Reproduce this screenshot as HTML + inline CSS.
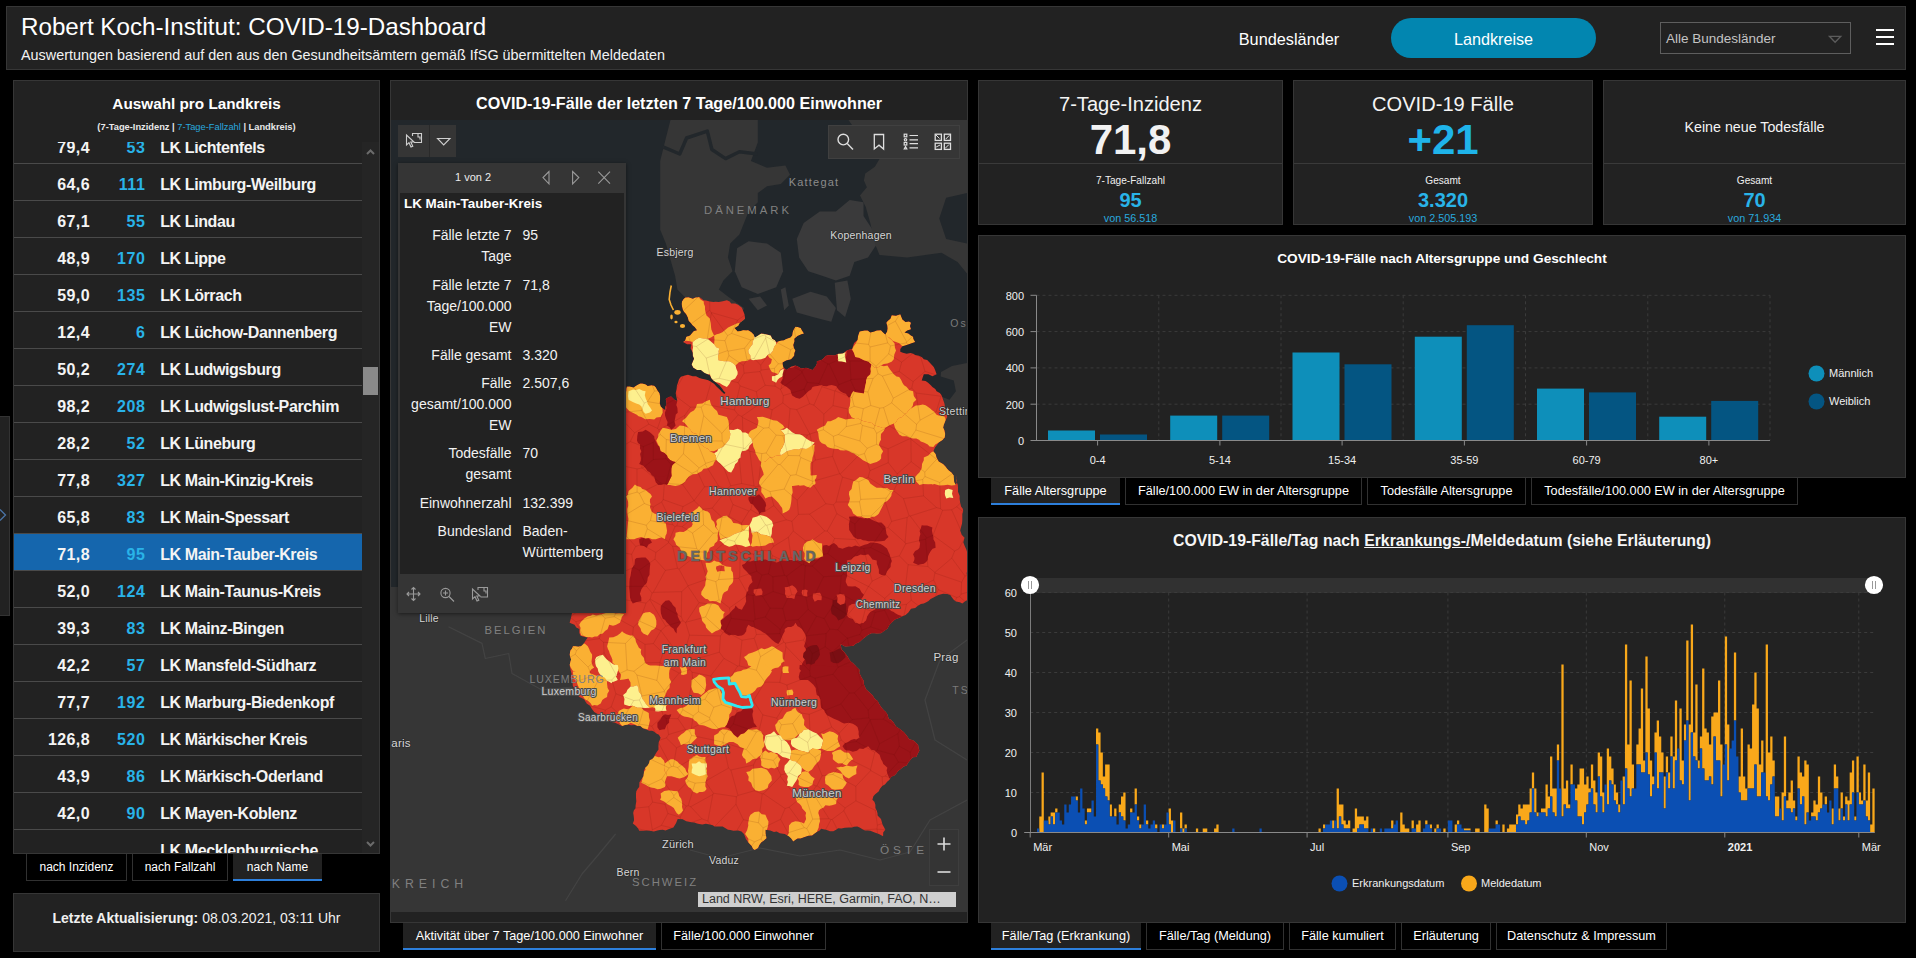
<!DOCTYPE html>
<html lang="de"><head><meta charset="utf-8"><title>Robert Koch-Institut: COVID-19-Dashboard</title>
<style>
*{box-sizing:border-box;margin:0;padding:0}
html,body{width:1916px;height:958px;overflow:hidden;background:#000;font-family:"Liberation Sans",sans-serif;color:#fff}
.abs{position:absolute}
.panel{position:absolute;background:#222;border:1px solid #363636}
.t{position:absolute;white-space:nowrap;line-height:1}
.c{text-align:center}
.b{font-weight:bold}
.tab{position:absolute;background:#000;border:1px solid #313131;border-top:none;color:#fff;font-size:12.7px;text-align:center;white-space:nowrap;overflow:hidden}
.tab.on{background:#222;border:none;border-bottom:2px solid #2d7fdb}
.row{position:absolute;left:0;width:349px;height:37px;border-bottom:1px solid #4a4a4a;font-weight:bold;font-size:16px;color:#f4f4f4}
.row span{position:absolute;top:11.5px;line-height:18px;white-space:nowrap}
.row .i{right:273px;text-align:right;letter-spacing:0.4px}
.row .n{right:217.6px;text-align:right;color:#29b3e8;letter-spacing:0.6px}
.row .l{left:146.2px;letter-spacing:-0.4px}
.row.sel{background:#1566ad}
</style></head>
<body>
<!-- header -->
<div class="panel" style="left:6px;top:6px;width:1900px;height:64px"></div>
<div class="t" style="left:21px;top:15px;font-size:24.2px;color:#fff" id="h1">Robert Koch-Institut: COVID-19-Dashboard</div>
<div class="t" style="left:21px;top:47.5px;font-size:14.4px;color:#f2f2f2" id="h2">Auswertungen basierend auf den aus den Gesundheitsämtern gemäß IfSG übermittelten Meldedaten</div>
<div class="t c" style="left:1189px;width:200px;top:30.5px;font-size:16.3px" id="hb1">Bundesländer</div>
<div class="abs" style="left:1391px;top:18px;width:205px;height:40px;border-radius:20px;background:#0286b0"></div>
<div class="t c" style="left:1391px;width:205px;top:30.5px;font-size:16.2px" id="hb2">Landkreise</div>
<div class="abs" style="left:1660px;top:22px;width:191px;height:32px;border:1px solid #5e5e5e"></div>
<div class="t" style="left:1666px;top:31.5px;font-size:13.5px;color:#c4c4c4" id="hsel">Alle Bundesländer</div>
<svg class="abs" style="left:1826px;top:33px" width="18" height="12"><path d="M3.4 3.3 L14.8 3.3 L9.1 9.3 Z" fill="none" stroke="#5c5c5c" stroke-width="1.3"/></svg>
<div class="abs" style="left:1876px;top:29px;width:18px;height:2px;background:#fff"></div>
<div class="abs" style="left:1876px;top:36px;width:18px;height:2px;background:#fff"></div>
<div class="abs" style="left:1876px;top:43px;width:18px;height:2px;background:#fff"></div>

<!-- left list -->
<div class="panel" style="left:13px;top:80px;width:367px;height:774px"></div>
<div class="t c b" style="left:13px;width:367px;top:96px;font-size:15.3px" id="lt1">Auswahl pro Landkreis</div>
<div class="t c b" style="left:13px;width:367px;top:123px;font-size:9.3px;color:#e8e8e8" id="lt2">(7-Tage-Inzidenz | <span style="color:#29a9df;font-weight:normal">7-Tage-Fallzahl</span> | Landkreis)</div>
<div class="abs" style="left:14px;top:142px;width:349px;height:711px;overflow:hidden">
<div class="row" style="top:-15px"><span class="i">79,4</span><span class="n">53</span><span class="l">LK Lichtenfels</span></div>
<div class="row" style="top:22px"><span class="i">64,6</span><span class="n">111</span><span class="l">LK Limburg-Weilburg</span></div>
<div class="row" style="top:59px"><span class="i">67,1</span><span class="n">55</span><span class="l">LK Lindau</span></div>
<div class="row" style="top:96px"><span class="i">48,9</span><span class="n">170</span><span class="l">LK Lippe</span></div>
<div class="row" style="top:133px"><span class="i">59,0</span><span class="n">135</span><span class="l">LK Lörrach</span></div>
<div class="row" style="top:170px"><span class="i">12,4</span><span class="n">6</span><span class="l">LK Lüchow-Dannenberg</span></div>
<div class="row" style="top:207px"><span class="i">50,2</span><span class="n">274</span><span class="l">LK Ludwigsburg</span></div>
<div class="row" style="top:244px"><span class="i">98,2</span><span class="n">208</span><span class="l">LK Ludwigslust-Parchim</span></div>
<div class="row" style="top:281px"><span class="i">28,2</span><span class="n">52</span><span class="l">LK Lüneburg</span></div>
<div class="row" style="top:318px"><span class="i">77,8</span><span class="n">327</span><span class="l">LK Main-Kinzig-Kreis</span></div>
<div class="row" style="top:355px"><span class="i">65,8</span><span class="n">83</span><span class="l">LK Main-Spessart</span></div>
<div class="row sel" style="top:392px"><span class="i">71,8</span><span class="n">95</span><span class="l">LK Main-Tauber-Kreis</span></div>
<div class="row" style="top:429px"><span class="i">52,0</span><span class="n">124</span><span class="l">LK Main-Taunus-Kreis</span></div>
<div class="row" style="top:466px"><span class="i">39,3</span><span class="n">83</span><span class="l">LK Mainz-Bingen</span></div>
<div class="row" style="top:503px"><span class="i">42,2</span><span class="n">57</span><span class="l">LK Mansfeld-Südharz</span></div>
<div class="row" style="top:540px"><span class="i">77,7</span><span class="n">192</span><span class="l">LK Marburg-Biedenkopf</span></div>
<div class="row" style="top:577px"><span class="i">126,8</span><span class="n">520</span><span class="l">LK Märkischer Kreis</span></div>
<div class="row" style="top:614px"><span class="i">43,9</span><span class="n">86</span><span class="l">LK Märkisch-Oderland</span></div>
<div class="row" style="top:651px"><span class="i">42,0</span><span class="n">90</span><span class="l">LK Mayen-Koblenz</span></div>
<div class="row" style="top:688px"><span class="i"></span><span class="n"></span><span class="l">LK Mecklenburgische</span></div>
</div>
<div class="abs" style="left:362px;top:142px;width:17px;height:711px;background:#252525"></div>
<div class="abs" style="left:363px;top:367px;width:15px;height:28px;background:#8a8a8a"></div>
<svg class="abs" style="left:362px;top:143px" width="17" height="17"><path d="M5 11 L8.5 7.5 L12 11" fill="none" stroke="#6b6b6b" stroke-width="2"/></svg>
<svg class="abs" style="left:362px;top:836px" width="17" height="17"><path d="M5 6 L8.5 9.5 L12 6" fill="none" stroke="#6b6b6b" stroke-width="2"/></svg>
<div class="tab" style="left:26px;top:854px;width:101px;height:27px;line-height:27px;font-size:12px">nach Inzidenz</div>
<div class="tab" style="left:132px;top:854px;width:96px;height:27px;line-height:27px;font-size:12px">nach Fallzahl</div>
<div class="tab on" style="left:233px;top:854px;width:89px;height:27px;line-height:27px;font-size:12px">nach Name</div>
<div class="panel" style="left:13px;top:893px;width:367px;height:59px"></div>
<div class="t c" style="left:13px;width:367px;top:911px;font-size:14px;color:#f0f0f0" id="upd"><b>Letzte Aktualisierung:</b> 08.03.2021, 03:11 Uhr</div>
<div class="abs" style="left:0;top:416px;width:10px;height:200px;background:#222;border:1px solid #333;border-left:none"></div>
<svg class="abs" style="left:0;top:506px" width="9" height="18"><path d="M0 3.5 L5.5 9 L0 14.5" fill="none" stroke="#4a74a6" stroke-width="1.3"/></svg>
<!-- cards -->
<div class="panel" style="left:978px;top:80px;width:305px;height:145px"></div>
<div class="abs" style="left:979px;top:163px;width:303px;height:1px;background:#3a3a3a"></div>
<div class="t c" style="left:978px;width:305px;top:93.5px;font-size:20.1px;color:#f4f4f4" id="c1t">7-Tage-Inzidenz</div>
<div class="t c b" style="left:978px;width:305px;top:119px;font-size:42px;color:#f2f2f2" id="c1b">71,8</div>
<div class="t c" style="left:978px;width:305px;top:175.5px;font-size:10.1px;color:#f0f0f0" id="c1s">7-Tage-Fallzahl</div>
<div class="t c b" style="left:978px;width:305px;top:189.8px;font-size:20px;color:#29b3e8" id="c1v">95</div>
<div class="t c" style="left:978px;width:305px;top:213px;font-size:10.8px;color:#29a9df" id="c1n">von 56.518</div>
<div class="panel" style="left:1293px;top:80px;width:300px;height:145px"></div>
<div class="abs" style="left:1294px;top:163px;width:298px;height:1px;background:#3a3a3a"></div>
<div class="t c" style="left:1293px;width:300px;top:93.5px;font-size:20.1px;color:#f4f4f4" id="c2t">COVID-19 Fälle</div>
<div class="t c b" style="left:1293px;width:300px;top:119px;font-size:42px;color:#1fb4ea" id="c2b">+21</div>
<div class="t c" style="left:1293px;width:300px;top:175.5px;font-size:10.1px;color:#f0f0f0" id="c2s">Gesamt</div>
<div class="t c b" style="left:1293px;width:300px;top:189.8px;font-size:20px;color:#29b3e8" id="c2v">3.320</div>
<div class="t c" style="left:1293px;width:300px;top:213px;font-size:10.8px;color:#29a9df" id="c2n">von 2.505.193</div>
<div class="panel" style="left:1603px;top:80px;width:303px;height:145px"></div>
<div class="abs" style="left:1604px;top:163px;width:301px;height:1px;background:#3a3a3a"></div>
<div class="t c" style="left:1603px;width:303px;top:120px;font-size:14.25px;color:#f4f4f4" id="c3t">Keine neue Todesfälle</div>
<div class="t c" style="left:1603px;width:303px;top:175.5px;font-size:10.1px;color:#f0f0f0" id="c3s">Gesamt</div>
<div class="t c b" style="left:1603px;width:303px;top:189.8px;font-size:20px;color:#29b3e8" id="c3v">70</div>
<div class="t c" style="left:1603px;width:303px;top:213px;font-size:10.8px;color:#29a9df" id="c3n">von 71.934</div>
<!-- bar chart -->
<div class="panel" style="left:978px;top:235px;width:928px;height:243px"></div>
<div class="t c b" style="left:978px;width:928px;top:252.3px;font-size:13.7px" id="bt">COVID-19-Fälle nach Altersgruppe und Geschlecht</div>
<svg class="abs" style="left:978px;top:235px" width="928" height="243" viewBox="978 235 928 243"><line x1="1036.5" y1="404.2" x2="1770" y2="404.2" stroke="#3b3b3b" stroke-width="1" stroke-dasharray="3 3"/><line x1="1030.5" y1="404.2" x2="1036.5" y2="404.2" stroke="#8a8a8a" stroke-width="1"/><line x1="1036.5" y1="367.9" x2="1770" y2="367.9" stroke="#3b3b3b" stroke-width="1" stroke-dasharray="3 3"/><line x1="1030.5" y1="367.9" x2="1036.5" y2="367.9" stroke="#8a8a8a" stroke-width="1"/><line x1="1036.5" y1="331.6" x2="1770" y2="331.6" stroke="#3b3b3b" stroke-width="1" stroke-dasharray="3 3"/><line x1="1030.5" y1="331.6" x2="1036.5" y2="331.6" stroke="#8a8a8a" stroke-width="1"/><line x1="1036.5" y1="295.3" x2="1770" y2="295.3" stroke="#3b3b3b" stroke-width="1" stroke-dasharray="3 3"/><line x1="1030.5" y1="295.3" x2="1036.5" y2="295.3" stroke="#8a8a8a" stroke-width="1"/><line x1="1158.8" y1="295.3" x2="1158.8" y2="440.5" stroke="#3b3b3b" stroke-width="1" stroke-dasharray="3 3"/><line x1="1281.0" y1="295.3" x2="1281.0" y2="440.5" stroke="#3b3b3b" stroke-width="1" stroke-dasharray="3 3"/><line x1="1403.2" y1="295.3" x2="1403.2" y2="440.5" stroke="#3b3b3b" stroke-width="1" stroke-dasharray="3 3"/><line x1="1525.5" y1="295.3" x2="1525.5" y2="440.5" stroke="#3b3b3b" stroke-width="1" stroke-dasharray="3 3"/><line x1="1647.8" y1="295.3" x2="1647.8" y2="440.5" stroke="#3b3b3b" stroke-width="1" stroke-dasharray="3 3"/><line x1="1770.0" y1="295.3" x2="1770.0" y2="440.5" stroke="#3b3b3b" stroke-width="1" stroke-dasharray="3 3"/><rect x="1048.0" y="430.5" width="47" height="10.0" fill="#0e8fba"/><rect x="1100.0" y="434.5" width="47" height="6.0" fill="#045582"/><line x1="1097.6" y1="440.5" x2="1097.6" y2="445.5" stroke="#8a8a8a" stroke-width="1"/><rect x="1170.2" y="415.6" width="47" height="24.9" fill="#0e8fba"/><rect x="1222.2" y="415.6" width="47" height="24.9" fill="#045582"/><line x1="1219.9" y1="440.5" x2="1219.9" y2="445.5" stroke="#8a8a8a" stroke-width="1"/><rect x="1292.5" y="352.5" width="47" height="88.0" fill="#0e8fba"/><rect x="1344.5" y="364.3" width="47" height="76.2" fill="#045582"/><line x1="1342.1" y1="440.5" x2="1342.1" y2="445.5" stroke="#8a8a8a" stroke-width="1"/><rect x="1414.8" y="336.7" width="47" height="103.8" fill="#0e8fba"/><rect x="1466.8" y="325.2" width="47" height="115.3" fill="#045582"/><line x1="1464.4" y1="440.5" x2="1464.4" y2="445.5" stroke="#8a8a8a" stroke-width="1"/><rect x="1537.0" y="388.6" width="47" height="51.9" fill="#0e8fba"/><rect x="1589.0" y="392.4" width="47" height="48.1" fill="#045582"/><line x1="1586.6" y1="440.5" x2="1586.6" y2="445.5" stroke="#8a8a8a" stroke-width="1"/><rect x="1659.2" y="416.7" width="47" height="23.8" fill="#0e8fba"/><rect x="1711.2" y="400.9" width="47" height="39.6" fill="#045582"/><line x1="1708.9" y1="440.5" x2="1708.9" y2="445.5" stroke="#8a8a8a" stroke-width="1"/><line x1="1036.5" y1="295.3" x2="1036.5" y2="440.5" stroke="#8a8a8a" stroke-width="1"/><line x1="1030.5" y1="440.5" x2="1770" y2="440.5" stroke="#8a8a8a" stroke-width="1"/><circle cx="1816.5" cy="373.5" r="8" fill="#0e8fba"/><circle cx="1816.5" cy="401.5" r="8" fill="#045582"/></svg>
<div class="t" style="left:980px;width:44px;text-align:right;top:436.0px;font-size:11px;color:#f0f0f0">0</div>
<div class="t" style="left:980px;width:44px;text-align:right;top:399.7px;font-size:11px;color:#f0f0f0">200</div>
<div class="t" style="left:980px;width:44px;text-align:right;top:363.4px;font-size:11px;color:#f0f0f0">400</div>
<div class="t" style="left:980px;width:44px;text-align:right;top:327.1px;font-size:11px;color:#f0f0f0">600</div>
<div class="t" style="left:980px;width:44px;text-align:right;top:290.8px;font-size:11px;color:#f0f0f0">800</div>
<div class="t c" style="left:1057.6px;width:80px;top:455px;font-size:11px;color:#f0f0f0">0-4</div>
<div class="t c" style="left:1179.9px;width:80px;top:455px;font-size:11px;color:#f0f0f0">5-14</div>
<div class="t c" style="left:1302.1px;width:80px;top:455px;font-size:11px;color:#f0f0f0">15-34</div>
<div class="t c" style="left:1424.4px;width:80px;top:455px;font-size:11px;color:#f0f0f0">35-59</div>
<div class="t c" style="left:1546.6px;width:80px;top:455px;font-size:11px;color:#f0f0f0">60-79</div>
<div class="t c" style="left:1668.9px;width:80px;top:455px;font-size:11px;color:#f0f0f0">80+</div>
<div class="t" style="left:1829px;top:368px;font-size:11px;color:#f0f0f0" id="lgm">Männlich</div>
<div class="t" style="left:1829px;top:396px;font-size:11px;color:#f0f0f0" id="lgw">Weiblich</div>
<div class="tab on" style="left:991px;top:478px;width:129px;height:27px;line-height:27.5px">Fälle Altersgruppe</div>
<div class="tab" style="left:1125px;top:478px;width:237px;height:27px;line-height:27.5px">Fälle/100.000 EW in der Altersgruppe</div>
<div class="tab" style="left:1367px;top:478px;width:159px;height:27px;line-height:27.5px">Todesfälle Altersgruppe</div>
<div class="tab" style="left:1531px;top:478px;width:267px;height:27px;line-height:27.5px">Todesfälle/100.000 EW in der Altersgruppe</div>
<!-- time series -->
<div class="panel" style="left:978px;top:517px;width:928px;height:406px"></div>
<div class="t c b" style="left:978px;width:928px;top:532.5px;font-size:15.8px;color:#f6f6f6" id="tt">COVID-19-Fälle/Tag nach <span style="text-decoration:underline">Erkrankungs-/</span>Meldedatum (siehe Erläuterung)</div>
<svg class="abs" style="left:978px;top:517px" width="928" height="406" viewBox="978 517 928 406"><rect x="1030.2" y="578" width="844.5" height="15" fill="#313131"/><line x1="1030.2" y1="792.5" x2="1874.7" y2="792.5" stroke="#3b3b3b" stroke-width="1" stroke-dasharray="3 3"/><line x1="1030.2" y1="752.5" x2="1874.7" y2="752.5" stroke="#3b3b3b" stroke-width="1" stroke-dasharray="3 3"/><line x1="1030.2" y1="712.5" x2="1874.7" y2="712.5" stroke="#3b3b3b" stroke-width="1" stroke-dasharray="3 3"/><line x1="1030.2" y1="672.5" x2="1874.7" y2="672.5" stroke="#3b3b3b" stroke-width="1" stroke-dasharray="3 3"/><line x1="1030.2" y1="632.5" x2="1874.7" y2="632.5" stroke="#3b3b3b" stroke-width="1" stroke-dasharray="3 3"/><line x1="1030.2" y1="592.5" x2="1874.7" y2="592.5" stroke="#3b3b3b" stroke-width="1" stroke-dasharray="3 3"/><line x1="1030.2" y1="832.5" x2="1030.2" y2="837.5" stroke="#8a8a8a" stroke-width="1"/><line x1="1168.7" y1="592.5" x2="1168.7" y2="832.5" stroke="#3b3b3b" stroke-width="1" stroke-dasharray="3 3"/><line x1="1168.7" y1="832.5" x2="1168.7" y2="837.5" stroke="#8a8a8a" stroke-width="1"/><line x1="1307.1" y1="592.5" x2="1307.1" y2="832.5" stroke="#3b3b3b" stroke-width="1" stroke-dasharray="3 3"/><line x1="1307.1" y1="832.5" x2="1307.1" y2="837.5" stroke="#8a8a8a" stroke-width="1"/><line x1="1447.9" y1="592.5" x2="1447.9" y2="832.5" stroke="#3b3b3b" stroke-width="1" stroke-dasharray="3 3"/><line x1="1447.9" y1="832.5" x2="1447.9" y2="837.5" stroke="#8a8a8a" stroke-width="1"/><line x1="1586.3" y1="592.5" x2="1586.3" y2="832.5" stroke="#3b3b3b" stroke-width="1" stroke-dasharray="3 3"/><line x1="1586.3" y1="832.5" x2="1586.3" y2="837.5" stroke="#8a8a8a" stroke-width="1"/><line x1="1724.8" y1="592.5" x2="1724.8" y2="832.5" stroke="#3b3b3b" stroke-width="1" stroke-dasharray="3 3"/><line x1="1724.8" y1="832.5" x2="1724.8" y2="837.5" stroke="#8a8a8a" stroke-width="1"/><line x1="1858.8" y1="592.5" x2="1858.8" y2="832.5" stroke="#3b3b3b" stroke-width="1" stroke-dasharray="3 3"/><line x1="1858.8" y1="832.5" x2="1858.8" y2="837.5" stroke="#8a8a8a" stroke-width="1"/><path d="M1039.28 832.5v-16.0h2.27v16.0zM1041.55 832.5v-60.0h2.27v60.0zM1048.36 824.5v-8.0h2.27v8.0zM1050.63 816.5v-4.0h2.27v4.0zM1052.90 824.5v-12.0h2.27v12.0zM1055.17 812.5v-4.0h2.27v4.0zM1075.60 800.5v-4.0h2.27v4.0zM1084.68 824.5v-4.0h2.27v4.0zM1086.95 812.5v-4.0h2.27v4.0zM1089.22 812.5v-4.0h2.27v4.0zM1096.03 744.5v-16.0h2.27v16.0zM1098.30 780.5v-48.0h2.27v48.0zM1100.57 784.5v-32.0h2.27v32.0zM1102.84 788.5v-12.0h2.27v12.0zM1105.11 796.5v-32.0h2.27v32.0zM1107.38 800.5v-36.0h2.27v36.0zM1109.65 816.5v-12.0h2.27v12.0zM1114.19 816.5v-8.0h2.27v8.0zM1118.73 812.5v-8.0h2.27v8.0zM1121.00 816.5v-20.0h2.27v20.0zM1123.27 820.5v-28.0h2.27v28.0zM1130.08 812.5v-4.0h2.27v4.0zM1134.62 804.5v-16.0h2.27v16.0zM1136.89 820.5v-4.0h2.27v4.0zM1139.16 828.5v-4.0h2.27v4.0zM1145.97 824.5v-4.0h2.27v4.0zM1155.05 828.5v-4.0h2.27v4.0zM1161.86 828.5v-4.0h2.27v4.0zM1168.67 824.5v-16.0h2.27v16.0zM1170.94 832.5v-12.0h2.27v12.0zM1180.02 828.5v-16.0h2.27v16.0zM1182.29 832.5v-4.0h2.27v4.0zM1184.56 828.5v-4.0h2.27v4.0zM1195.91 832.5v-4.0h2.27v4.0zM1202.72 832.5v-4.0h2.27v4.0zM1204.99 832.5v-4.0h2.27v4.0zM1214.07 832.5v-4.0h2.27v4.0zM1216.34 832.5v-8.0h2.27v8.0zM1318.49 832.5v-4.0h2.27v4.0zM1323.03 828.5v-4.0h2.27v4.0zM1332.11 828.5v-8.0h2.27v8.0zM1336.65 828.5v-40.0h2.27v40.0zM1338.92 816.5v-12.0h2.27v12.0zM1341.19 824.5v-20.0h2.27v20.0zM1343.46 828.5v-8.0h2.27v8.0zM1345.73 828.5v-4.0h2.27v4.0zM1348.00 828.5v-8.0h2.27v8.0zM1352.54 832.5v-4.0h2.27v4.0zM1354.81 832.5v-24.0h2.27v24.0zM1357.08 828.5v-12.0h2.27v12.0zM1359.35 824.5v-8.0h2.27v8.0zM1361.62 824.5v-8.0h2.27v8.0zM1363.89 828.5v-8.0h2.27v8.0zM1366.16 828.5v-12.0h2.27v12.0zM1372.97 832.5v-4.0h2.27v4.0zM1391.13 828.5v-8.0h2.27v8.0zM1400.21 832.5v-20.0h2.27v20.0zM1402.48 832.5v-8.0h2.27v8.0zM1404.75 832.5v-4.0h2.27v4.0zM1407.02 832.5v-4.0h2.27v4.0zM1411.56 828.5v-8.0h2.27v8.0zM1416.10 832.5v-8.0h2.27v8.0zM1418.37 832.5v-12.0h2.27v12.0zM1425.18 824.5v-4.0h2.27v4.0zM1429.72 828.5v-4.0h2.27v4.0zM1434.26 832.5v-4.0h2.27v4.0zM1436.53 828.5v-4.0h2.27v4.0zM1443.34 832.5v-4.0h2.27v4.0zM1454.69 832.5v-8.0h2.27v8.0zM1456.96 824.5v-4.0h2.27v4.0zM1463.77 830.5v-2.0h2.27v2.0zM1466.04 830.5v-2.0h2.27v2.0zM1468.31 830.5v-2.0h2.27v2.0zM1475.12 832.5v-4.0h2.27v4.0zM1477.39 832.5v-4.0h2.27v4.0zM1484.20 832.5v-28.0h2.27v28.0zM1486.47 832.5v-24.0h2.27v24.0zM1495.55 824.5v-4.0h2.27v4.0zM1502.36 832.5v-8.0h2.27v8.0zM1506.90 832.5v-4.0h2.27v4.0zM1509.17 832.5v-8.0h2.27v8.0zM1511.44 832.5v-8.0h2.27v8.0zM1513.71 832.5v-8.0h2.27v8.0zM1515.98 824.5v-10.0h2.27v10.0zM1518.25 816.5v-12.0h2.27v12.0zM1520.52 820.5v-12.0h2.27v12.0zM1522.79 820.5v-16.0h2.27v16.0zM1525.06 824.5v-20.0h2.27v20.0zM1527.33 820.5v-16.0h2.27v16.0zM1529.60 812.5v-24.0h2.27v24.0zM1531.87 788.5v-16.0h2.27v16.0zM1534.14 812.5v-24.0h2.27v24.0zM1536.41 816.5v-4.0h2.27v4.0zM1540.95 812.5v-4.0h2.27v4.0zM1543.22 812.5v-4.0h2.27v4.0zM1545.49 816.5v-32.0h2.27v32.0zM1547.76 808.5v-12.0h2.27v12.0zM1550.03 796.5v-40.0h2.27v40.0zM1552.30 812.5v-24.0h2.27v24.0zM1554.57 816.5v-28.0h2.27v28.0zM1556.84 760.5v-16.0h2.27v16.0zM1561.38 816.5v-152.0h2.27v152.0zM1563.65 804.5v-16.0h2.27v16.0zM1565.92 808.5v-28.0h2.27v28.0zM1568.19 808.5v-4.0h2.27v4.0zM1570.46 784.5v-20.0h2.27v20.0zM1575.00 800.5v-12.0h2.27v12.0zM1577.27 816.5v-32.0h2.27v32.0zM1579.54 816.5v-48.0h2.27v48.0zM1581.81 824.5v-56.0h2.27v56.0zM1584.08 812.5v-28.0h2.27v28.0zM1586.35 804.5v-28.0h2.27v28.0zM1588.62 792.5v-4.0h2.27v4.0zM1590.89 788.5v-24.0h2.27v24.0zM1593.16 804.5v-24.0h2.27v24.0zM1595.43 812.5v-20.0h2.27v20.0zM1597.70 776.5v-24.0h2.27v24.0zM1599.97 796.5v-40.0h2.27v40.0zM1602.24 812.5v-20.0h2.27v20.0zM1606.78 804.5v-56.0h2.27v56.0zM1609.05 780.5v-24.0h2.27v24.0zM1611.32 784.5v-16.0h2.27v16.0zM1613.59 800.5v-16.0h2.27v16.0zM1615.86 804.5v-12.0h2.27v12.0zM1618.13 812.5v-8.0h2.27v8.0zM1622.67 804.5v-28.0h2.27v28.0zM1624.94 768.5v-124.0h2.27v124.0zM1627.21 788.5v-44.0h2.27v44.0zM1629.48 796.5v-116.0h2.27v116.0zM1631.75 788.5v-24.0h2.27v24.0zM1636.29 764.5v-20.0h2.27v20.0zM1638.56 764.5v-36.0h2.27v36.0zM1640.83 772.5v-84.0h2.27v84.0zM1643.10 772.5v-12.0h2.27v12.0zM1645.37 752.5v-96.0h2.27v96.0zM1647.64 774.5v-66.0h2.27v66.0zM1649.91 796.5v-36.0h2.27v36.0zM1652.18 784.5v-8.0h2.27v8.0zM1654.45 752.5v-20.0h2.27v20.0zM1656.72 788.5v-68.0h2.27v68.0zM1658.99 772.5v-36.0h2.27v36.0zM1661.26 772.5v-20.0h2.27v20.0zM1663.53 808.5v-32.0h2.27v32.0zM1665.80 772.5v-16.0h2.27v16.0zM1668.07 788.5v-16.0h2.27v16.0zM1670.34 756.5v-20.0h2.27v20.0zM1672.61 788.5v-32.0h2.27v32.0zM1674.88 760.5v-60.0h2.27v60.0zM1679.42 780.5v-72.0h2.27v72.0zM1681.69 784.5v-24.0h2.27v24.0zM1683.96 740.5v-16.0h2.27v16.0zM1686.23 720.5v-80.0h2.27v80.0zM1688.50 800.5v-76.0h2.27v76.0zM1690.77 732.5v-108.0h2.27v108.0zM1693.04 756.5v-24.0h2.27v24.0zM1695.31 760.5v-76.0h2.27v76.0zM1697.58 768.5v-8.0h2.27v8.0zM1699.85 748.5v-12.0h2.27v12.0zM1702.12 768.5v-100.0h2.27v100.0zM1704.39 780.5v-52.0h2.27v52.0zM1706.66 780.5v-48.0h2.27v48.0zM1708.93 776.5v-32.0h2.27v32.0zM1711.20 784.5v-68.0h2.27v68.0zM1713.47 736.5v-24.0h2.27v24.0zM1715.74 760.5v-48.0h2.27v48.0zM1718.01 760.5v-80.0h2.27v80.0zM1720.28 796.5v-52.0h2.27v52.0zM1724.82 744.5v-108.0h2.27v108.0zM1727.09 780.5v-56.0h2.27v56.0zM1733.90 720.5v-68.0h2.27v68.0zM1738.44 792.5v-16.0h2.27v16.0zM1740.71 800.5v-72.0h2.27v72.0zM1742.98 800.5v-24.0h2.27v24.0zM1745.25 800.5v-12.0h2.27v12.0zM1747.52 788.5v-44.0h2.27v44.0zM1749.79 788.5v-40.0h2.27v40.0zM1752.06 788.5v-84.0h2.27v84.0zM1754.33 764.5v-92.0h2.27v92.0zM1756.60 796.5v-88.0h2.27v88.0zM1758.87 796.5v-32.0h2.27v32.0zM1761.14 772.5v-32.0h2.27v32.0zM1765.68 796.5v-152.0h2.27v152.0zM1767.95 800.5v-48.0h2.27v48.0zM1770.22 784.5v-48.0h2.27v48.0zM1772.49 776.5v-16.0h2.27v16.0zM1774.76 816.5v-20.0h2.27v20.0zM1777.03 816.5v-20.0h2.27v20.0zM1781.57 820.5v-28.0h2.27v28.0zM1783.84 796.5v-60.0h2.27v60.0zM1786.11 808.5v-8.0h2.27v8.0zM1788.38 808.5v-16.0h2.27v16.0zM1790.65 812.5v-32.0h2.27v32.0zM1792.92 808.5v-8.0h2.27v8.0zM1795.19 820.5v-4.0h2.27v4.0zM1797.46 788.5v-32.0h2.27v32.0zM1799.73 804.5v-32.0h2.27v32.0zM1802.00 796.5v-20.0h2.27v20.0zM1804.27 824.5v-64.0h2.27v64.0zM1806.54 812.5v-48.0h2.27v48.0zM1811.08 816.5v-4.0h2.27v4.0zM1813.35 816.5v-16.0h2.27v16.0zM1815.62 820.5v-16.0h2.27v16.0zM1817.89 812.5v-36.0h2.27v36.0zM1820.16 808.5v-16.0h2.27v16.0zM1824.70 804.5v-8.0h2.27v8.0zM1831.51 824.5v-16.0h2.27v16.0zM1833.78 788.5v-24.0h2.27v24.0zM1836.05 788.5v-12.0h2.27v12.0zM1838.32 820.5v-12.0h2.27v12.0zM1840.59 808.5v-16.0h2.27v16.0zM1842.86 820.5v-4.0h2.27v4.0zM1845.13 804.5v-8.0h2.27v8.0zM1847.40 820.5v-20.0h2.27v20.0zM1849.67 804.5v-32.0h2.27v32.0zM1851.94 792.5v-32.0h2.27v32.0zM1854.21 820.5v-4.0h2.27v4.0zM1856.48 792.5v-36.0h2.27v36.0zM1858.75 804.5v-12.0h2.27v12.0zM1861.02 804.5v-4.0h2.27v4.0zM1863.29 800.5v-36.0h2.27v36.0zM1865.56 816.5v-16.0h2.27v16.0zM1867.83 820.5v-48.0h2.27v48.0zM1870.10 832.5v-8.0h2.27v8.0zM1872.37 832.5v-44.0h2.27v44.0z" fill="#f9a81a"/><path d="M1037.01 832.5v-4.0h2.27v4.0zM1043.82 832.5v-12.0h2.27v12.0zM1046.09 832.5v-12.0h2.27v12.0zM1048.36 832.5v-8.0h2.27v8.0zM1050.63 832.5v-16.0h2.27v16.0zM1052.90 832.5v-8.0h2.27v8.0zM1055.17 832.5v-20.0h2.27v20.0zM1057.44 832.5v-20.0h2.27v20.0zM1059.71 832.5v-12.0h2.27v12.0zM1061.98 832.5v-8.0h2.27v8.0zM1064.25 832.5v-28.0h2.27v28.0zM1066.52 832.5v-20.0h2.27v20.0zM1068.79 832.5v-28.0h2.27v28.0zM1071.06 832.5v-36.0h2.27v36.0zM1073.33 832.5v-36.0h2.27v36.0zM1075.60 832.5v-32.0h2.27v32.0zM1077.87 832.5v-20.0h2.27v20.0zM1080.14 832.5v-44.0h2.27v44.0zM1082.41 832.5v-24.0h2.27v24.0zM1084.68 832.5v-8.0h2.27v8.0zM1086.95 832.5v-20.0h2.27v20.0zM1089.22 832.5v-20.0h2.27v20.0zM1091.49 832.5v-32.0h2.27v32.0zM1093.76 832.5v-16.0h2.27v16.0zM1096.03 832.5v-88.0h2.27v88.0zM1098.30 832.5v-52.0h2.27v52.0zM1100.57 832.5v-48.0h2.27v48.0zM1102.84 832.5v-44.0h2.27v44.0zM1105.11 832.5v-36.0h2.27v36.0zM1107.38 832.5v-32.0h2.27v32.0zM1109.65 832.5v-16.0h2.27v16.0zM1111.92 832.5v-16.0h2.27v16.0zM1114.19 832.5v-16.0h2.27v16.0zM1116.46 832.5v-8.0h2.27v8.0zM1118.73 832.5v-20.0h2.27v20.0zM1121.00 832.5v-16.0h2.27v16.0zM1123.27 832.5v-12.0h2.27v12.0zM1125.54 832.5v-4.0h2.27v4.0zM1127.81 832.5v-8.0h2.27v8.0zM1130.08 832.5v-20.0h2.27v20.0zM1132.35 832.5v-20.0h2.27v20.0zM1134.62 832.5v-28.0h2.27v28.0zM1136.89 832.5v-12.0h2.27v12.0zM1139.16 832.5v-4.0h2.27v4.0zM1141.43 832.5v-8.0h2.27v8.0zM1143.70 832.5v-28.0h2.27v28.0zM1145.97 832.5v-8.0h2.27v8.0zM1148.24 832.5v-4.0h2.27v4.0zM1150.51 832.5v-8.0h2.27v8.0zM1152.78 832.5v-12.0h2.27v12.0zM1155.05 832.5v-4.0h2.27v4.0zM1159.59 832.5v-8.0h2.27v8.0zM1161.86 832.5v-4.0h2.27v4.0zM1164.13 832.5v-8.0h2.27v8.0zM1166.40 832.5v-20.0h2.27v20.0zM1168.67 832.5v-8.0h2.27v8.0zM1173.21 832.5v-12.0h2.27v12.0zM1180.02 832.5v-4.0h2.27v4.0zM1184.56 832.5v-4.0h2.27v4.0zM1232.23 832.5v-4.0h2.27v4.0zM1259.47 832.5v-4.0h2.27v4.0zM1323.03 832.5v-4.0h2.27v4.0zM1325.30 832.5v-8.0h2.27v8.0zM1327.57 832.5v-8.0h2.27v8.0zM1329.84 832.5v-12.0h2.27v12.0zM1332.11 832.5v-4.0h2.27v4.0zM1334.38 832.5v-12.0h2.27v12.0zM1336.65 832.5v-4.0h2.27v4.0zM1338.92 832.5v-16.0h2.27v16.0zM1341.19 832.5v-8.0h2.27v8.0zM1343.46 832.5v-4.0h2.27v4.0zM1345.73 832.5v-4.0h2.27v4.0zM1348.00 832.5v-4.0h2.27v4.0zM1357.08 832.5v-4.0h2.27v4.0zM1359.35 832.5v-8.0h2.27v8.0zM1361.62 832.5v-8.0h2.27v8.0zM1363.89 832.5v-4.0h2.27v4.0zM1366.16 832.5v-4.0h2.27v4.0zM1370.70 832.5v-4.0h2.27v4.0zM1379.78 832.5v-4.0h2.27v4.0zM1384.32 832.5v-4.0h2.27v4.0zM1386.59 832.5v-4.0h2.27v4.0zM1388.86 832.5v-4.0h2.27v4.0zM1391.13 832.5v-4.0h2.27v4.0zM1393.40 832.5v-8.0h2.27v8.0zM1395.67 832.5v-12.0h2.27v12.0zM1411.56 832.5v-4.0h2.27v4.0zM1413.83 832.5v-4.0h2.27v4.0zM1422.91 832.5v-4.0h2.27v4.0zM1425.18 832.5v-8.0h2.27v8.0zM1427.45 832.5v-8.0h2.27v8.0zM1429.72 832.5v-4.0h2.27v4.0zM1436.53 832.5v-4.0h2.27v4.0zM1438.80 832.5v-4.0h2.27v4.0zM1447.88 832.5v-12.0h2.27v12.0zM1450.15 832.5v-12.0h2.27v12.0zM1456.96 832.5v-8.0h2.27v8.0zM1459.23 832.5v-8.0h2.27v8.0zM1461.50 832.5v-4.0h2.27v4.0zM1463.77 832.5v-2.0h2.27v2.0zM1466.04 832.5v-2.0h2.27v2.0zM1468.31 832.5v-2.0h2.27v2.0zM1488.74 832.5v-4.0h2.27v4.0zM1491.01 832.5v-4.0h2.27v4.0zM1493.28 832.5v-4.0h2.27v4.0zM1495.55 832.5v-8.0h2.27v8.0zM1497.82 832.5v-8.0h2.27v8.0zM1515.98 832.5v-8.0h2.27v8.0zM1518.25 832.5v-16.0h2.27v16.0zM1520.52 832.5v-12.0h2.27v12.0zM1522.79 832.5v-12.0h2.27v12.0zM1525.06 832.5v-8.0h2.27v8.0zM1527.33 832.5v-12.0h2.27v12.0zM1529.60 832.5v-20.0h2.27v20.0zM1531.87 832.5v-44.0h2.27v44.0zM1534.14 832.5v-20.0h2.27v20.0zM1536.41 832.5v-16.0h2.27v16.0zM1538.68 832.5v-20.0h2.27v20.0zM1540.95 832.5v-20.0h2.27v20.0zM1543.22 832.5v-20.0h2.27v20.0zM1545.49 832.5v-16.0h2.27v16.0zM1547.76 832.5v-24.0h2.27v24.0zM1550.03 832.5v-36.0h2.27v36.0zM1552.30 832.5v-20.0h2.27v20.0zM1554.57 832.5v-16.0h2.27v16.0zM1556.84 832.5v-72.0h2.27v72.0zM1559.11 832.5v-44.0h2.27v44.0zM1561.38 832.5v-16.0h2.27v16.0zM1563.65 832.5v-28.0h2.27v28.0zM1565.92 832.5v-24.0h2.27v24.0zM1568.19 832.5v-24.0h2.27v24.0zM1570.46 832.5v-48.0h2.27v48.0zM1572.73 832.5v-48.0h2.27v48.0zM1575.00 832.5v-32.0h2.27v32.0zM1577.27 832.5v-16.0h2.27v16.0zM1579.54 832.5v-16.0h2.27v16.0zM1581.81 832.5v-8.0h2.27v8.0zM1584.08 832.5v-20.0h2.27v20.0zM1586.35 832.5v-28.0h2.27v28.0zM1588.62 832.5v-40.0h2.27v40.0zM1590.89 832.5v-44.0h2.27v44.0zM1593.16 832.5v-28.0h2.27v28.0zM1595.43 832.5v-20.0h2.27v20.0zM1597.70 832.5v-56.0h2.27v56.0zM1599.97 832.5v-36.0h2.27v36.0zM1602.24 832.5v-20.0h2.27v20.0zM1604.51 832.5v-48.0h2.27v48.0zM1606.78 832.5v-28.0h2.27v28.0zM1609.05 832.5v-52.0h2.27v52.0zM1611.32 832.5v-48.0h2.27v48.0zM1613.59 832.5v-32.0h2.27v32.0zM1615.86 832.5v-28.0h2.27v28.0zM1618.13 832.5v-20.0h2.27v20.0zM1620.40 832.5v-52.0h2.27v52.0zM1622.67 832.5v-28.0h2.27v28.0zM1624.94 832.5v-64.0h2.27v64.0zM1627.21 832.5v-44.0h2.27v44.0zM1629.48 832.5v-36.0h2.27v36.0zM1631.75 832.5v-44.0h2.27v44.0zM1634.02 832.5v-44.0h2.27v44.0zM1636.29 832.5v-68.0h2.27v68.0zM1638.56 832.5v-68.0h2.27v68.0zM1640.83 832.5v-60.0h2.27v60.0zM1643.10 832.5v-60.0h2.27v60.0zM1645.37 832.5v-80.0h2.27v80.0zM1647.64 832.5v-58.0h2.27v58.0zM1649.91 832.5v-36.0h2.27v36.0zM1652.18 832.5v-48.0h2.27v48.0zM1654.45 832.5v-80.0h2.27v80.0zM1656.72 832.5v-44.0h2.27v44.0zM1658.99 832.5v-60.0h2.27v60.0zM1661.26 832.5v-60.0h2.27v60.0zM1663.53 832.5v-24.0h2.27v24.0zM1665.80 832.5v-60.0h2.27v60.0zM1668.07 832.5v-44.0h2.27v44.0zM1670.34 832.5v-76.0h2.27v76.0zM1672.61 832.5v-44.0h2.27v44.0zM1674.88 832.5v-72.0h2.27v72.0zM1677.15 832.5v-84.0h2.27v84.0zM1679.42 832.5v-52.0h2.27v52.0zM1681.69 832.5v-48.0h2.27v48.0zM1683.96 832.5v-92.0h2.27v92.0zM1686.23 832.5v-112.0h2.27v112.0zM1688.50 832.5v-32.0h2.27v32.0zM1690.77 832.5v-100.0h2.27v100.0zM1693.04 832.5v-76.0h2.27v76.0zM1695.31 832.5v-72.0h2.27v72.0zM1697.58 832.5v-64.0h2.27v64.0zM1699.85 832.5v-84.0h2.27v84.0zM1702.12 832.5v-64.0h2.27v64.0zM1704.39 832.5v-52.0h2.27v52.0zM1706.66 832.5v-52.0h2.27v52.0zM1708.93 832.5v-56.0h2.27v56.0zM1711.20 832.5v-48.0h2.27v48.0zM1713.47 832.5v-96.0h2.27v96.0zM1715.74 832.5v-72.0h2.27v72.0zM1718.01 832.5v-72.0h2.27v72.0zM1720.28 832.5v-36.0h2.27v36.0zM1722.55 832.5v-68.0h2.27v68.0zM1724.82 832.5v-88.0h2.27v88.0zM1727.09 832.5v-52.0h2.27v52.0zM1729.36 832.5v-84.0h2.27v84.0zM1731.63 832.5v-92.0h2.27v92.0zM1733.90 832.5v-112.0h2.27v112.0zM1736.17 832.5v-76.0h2.27v76.0zM1738.44 832.5v-40.0h2.27v40.0zM1740.71 832.5v-32.0h2.27v32.0zM1742.98 832.5v-32.0h2.27v32.0zM1745.25 832.5v-32.0h2.27v32.0zM1747.52 832.5v-44.0h2.27v44.0zM1749.79 832.5v-44.0h2.27v44.0zM1752.06 832.5v-44.0h2.27v44.0zM1754.33 832.5v-68.0h2.27v68.0zM1756.60 832.5v-36.0h2.27v36.0zM1758.87 832.5v-36.0h2.27v36.0zM1761.14 832.5v-60.0h2.27v60.0zM1763.41 832.5v-60.0h2.27v60.0zM1765.68 832.5v-36.0h2.27v36.0zM1767.95 832.5v-32.0h2.27v32.0zM1770.22 832.5v-48.0h2.27v48.0zM1772.49 832.5v-56.0h2.27v56.0zM1774.76 832.5v-16.0h2.27v16.0zM1777.03 832.5v-16.0h2.27v16.0zM1779.30 832.5v-24.0h2.27v24.0zM1781.57 832.5v-12.0h2.27v12.0zM1783.84 832.5v-36.0h2.27v36.0zM1786.11 832.5v-24.0h2.27v24.0zM1788.38 832.5v-24.0h2.27v24.0zM1790.65 832.5v-20.0h2.27v20.0zM1792.92 832.5v-24.0h2.27v24.0zM1795.19 832.5v-12.0h2.27v12.0zM1797.46 832.5v-44.0h2.27v44.0zM1799.73 832.5v-28.0h2.27v28.0zM1802.00 832.5v-36.0h2.27v36.0zM1804.27 832.5v-8.0h2.27v8.0zM1806.54 832.5v-20.0h2.27v20.0zM1808.81 832.5v-12.0h2.27v12.0zM1811.08 832.5v-16.0h2.27v16.0zM1813.35 832.5v-16.0h2.27v16.0zM1815.62 832.5v-12.0h2.27v12.0zM1817.89 832.5v-20.0h2.27v20.0zM1820.16 832.5v-24.0h2.27v24.0zM1822.43 832.5v-28.0h2.27v28.0zM1824.70 832.5v-28.0h2.27v28.0zM1826.97 832.5v-20.0h2.27v20.0zM1829.24 832.5v-32.0h2.27v32.0zM1831.51 832.5v-8.0h2.27v8.0zM1833.78 832.5v-44.0h2.27v44.0zM1836.05 832.5v-44.0h2.27v44.0zM1838.32 832.5v-12.0h2.27v12.0zM1840.59 832.5v-24.0h2.27v24.0zM1842.86 832.5v-12.0h2.27v12.0zM1845.13 832.5v-28.0h2.27v28.0zM1847.40 832.5v-12.0h2.27v12.0zM1849.67 832.5v-28.0h2.27v28.0zM1851.94 832.5v-40.0h2.27v40.0zM1854.21 832.5v-12.0h2.27v12.0zM1856.48 832.5v-40.0h2.27v40.0zM1858.75 832.5v-28.0h2.27v28.0zM1861.02 832.5v-28.0h2.27v28.0zM1863.29 832.5v-32.0h2.27v32.0zM1865.56 832.5v-16.0h2.27v16.0zM1867.83 832.5v-12.0h2.27v12.0z" fill="#0b4fb3"/><line x1="1030.5" y1="592.5" x2="1030.5" y2="832.5" stroke="#7c7c7c" stroke-width="1"/><line x1="1024.2" y1="832.5" x2="1874.7" y2="832.5" stroke="#8a8a8a" stroke-width="1"/><circle cx="1030" cy="585" r="9.1" fill="#fff"/><line x1="1028.5" y1="581" x2="1028.5" y2="589" stroke="#999" stroke-width="1"/><line x1="1031.5" y1="581" x2="1031.5" y2="589" stroke="#999" stroke-width="1"/><circle cx="1874" cy="585" r="9.1" fill="#fff"/><line x1="1872.5" y1="581" x2="1872.5" y2="589" stroke="#999" stroke-width="1"/><line x1="1875.5" y1="581" x2="1875.5" y2="589" stroke="#999" stroke-width="1"/><circle cx="1339.5" cy="883.5" r="8" fill="#0b4fb3"/><circle cx="1469" cy="883.5" r="8" fill="#f9a81a"/></svg>
<div class="t" style="left:978px;width:39px;text-align:right;top:827.7px;font-size:11px;color:#f0f0f0">0</div>
<div class="t" style="left:978px;width:39px;text-align:right;top:787.7px;font-size:11px;color:#f0f0f0">10</div>
<div class="t" style="left:978px;width:39px;text-align:right;top:747.7px;font-size:11px;color:#f0f0f0">20</div>
<div class="t" style="left:978px;width:39px;text-align:right;top:707.7px;font-size:11px;color:#f0f0f0">30</div>
<div class="t" style="left:978px;width:39px;text-align:right;top:667.7px;font-size:11px;color:#f0f0f0">40</div>
<div class="t" style="left:978px;width:39px;text-align:right;top:627.7px;font-size:11px;color:#f0f0f0">50</div>
<div class="t" style="left:978px;width:39px;text-align:right;top:587.7px;font-size:11px;color:#f0f0f0">60</div>
<div class="t" style="left:1033.2px;top:842px;font-size:11px;color:#f0f0f0">Mär</div>
<div class="t" style="left:1171.7px;top:842px;font-size:11px;color:#f0f0f0">Mai</div>
<div class="t" style="left:1310.1px;top:842px;font-size:11px;color:#f0f0f0">Jul</div>
<div class="t" style="left:1450.9px;top:842px;font-size:11px;color:#f0f0f0">Sep</div>
<div class="t" style="left:1589.3px;top:842px;font-size:11px;color:#f0f0f0">Nov</div>
<div class="t" style="left:1727.8px;top:842px;font-size:11px;color:#f0f0f0;font-weight:bold">2021</div>
<div class="t" style="left:1861.8px;top:842px;font-size:11px;color:#f0f0f0">Mär</div>
<div class="t" style="left:1352px;top:878px;font-size:11px;color:#f0f0f0" id="lge">Erkrankungsdatum</div>
<div class="t" style="left:1481px;top:878px;font-size:11px;color:#f0f0f0" id="lgd">Meldedatum</div>
<div class="tab on" style="left:991px;top:923px;width:150px;height:27px;line-height:27.5px">Fälle/Tag (Erkrankung)</div>
<div class="tab" style="left:1146px;top:923px;width:138px;height:27px;line-height:27.5px">Fälle/Tag (Meldung)</div>
<div class="tab" style="left:1289px;top:923px;width:107px;height:27px;line-height:27.5px">Fälle kumuliert</div>
<div class="tab" style="left:1401px;top:923px;width:90px;height:27px;line-height:27.5px">Erläuterung</div>
<div class="tab" style="left:1496px;top:923px;width:171px;height:27px;line-height:27.5px">Datenschutz &amp; Impressum</div>
<!-- map -->
<div class="panel" style="left:390px;top:80px;width:578px;height:843px"></div>
<div class="t c b" style="left:390px;width:578px;top:94.8px;font-size:16.15px" id="mt">COVID-19-Fälle der letzten 7 Tage/100.000 Einwohner</div>
<svg class="abs" style="left:391px;top:120px" width="576" height="792" viewBox="391 120 576 792" font-family="Liberation Sans, sans-serif"><defs><clipPath id="de"><path d="M624.2 391.3L625.8 389.5L626.8 386.4L629.8 386.4L633.5 387.4L637.2 385.1L640.2 383.4L642.4 383.6L645.9 384.6L647.7 386.1L651.4 385.3L654.2 385.7L655.9 387.5L657.2 389.9L659.5 393.3L660.1 396.6L660.1 399.4L659.8 403.3L660.8 406.4L662.3 408.0L665.3 410.1L665.2 406.7L666.5 404.5L666.2 401.2L665.7 399.0L668.8 396.9L671.3 396.6L674.5 399.8L677.3 400.9L676.6 397.9L675.7 393.3L676.6 389.0L676.9 385.8L678.1 382.3L679.0 379.3L680.9 376.7L684.8 375.5L688.0 374.8L692.7 376.3L696.0 376.3L699.4 378.1L701.9 378.7L705.5 379.5L707.4 380.1L710.4 380.7L714.0 382.5L716.2 385.9L718.1 387.8L720.5 389.3L721.8 391.6L724.3 393.0L722.4 388.9L719.4 385.3L716.4 382.9L714.0 380.9L711.5 378.4L709.8 375.2L707.2 373.9L704.4 372.7L701.0 370.1L697.0 369.9L693.3 367.8L691.6 364.5L692.7 361.7L694.0 358.8L692.8 355.7L692.7 352.8L690.7 348.6L691.0 344.2L687.1 344.3L683.0 342.1L685.1 340.4L686.3 336.7L690.0 335.4L692.5 332.5L693.9 330.9L697.0 330.3L694.6 326.9L692.7 325.6L690.5 322.8L688.6 320.7L687.8 317.5L686.0 314.0L684.1 312.1L682.9 310.0L682.0 306.6L681.7 304.0L682.0 301.4L683.4 299.3L685.2 297.5L688.5 297.3L692.9 298.7L695.3 297.5L699.1 297.1L701.2 298.3L703.4 300.3L706.1 300.4L709.8 301.4L713.4 302.1L715.5 301.7L718.8 302.0L722.8 301.3L726.9 300.3L729.7 301.6L731.2 303.5L735.2 303.5L738.1 304.8L741.9 307.8L743.0 310.5L744.5 314.2L745.1 318.5L742.6 320.7L739.8 322.8L738.2 325.8L734.4 328.1L737.6 331.4L740.9 331.0L743.3 330.3L746.2 330.6L748.3 330.3L751.2 331.9L753.7 334.6L754.7 337.8L757.9 335.8L761.2 333.5L763.5 333.8L767.1 334.6L770.8 335.6L772.3 338.7L775.0 340.2L776.1 342.1L780.9 340.8L783.6 340.5L786.8 338.8L790.4 337.4L792.2 335.6L792.6 332.6L793.3 330.3L795.4 326.7L797.7 327.0L800.7 328.1L802.0 330.6L804.0 333.5L801.3 334.2L797.5 336.1L794.3 338.8L794.5 341.3L793.3 345.1L794.0 347.9L795.4 350.6L794.4 353.1L794.2 355.7L791.1 359.2L788.2 360.0L786.1 360.5L782.6 362.4L782.8 364.9L783.6 367.7L786.8 369.9L788.8 368.3L791.4 366.6L795.4 365.6L798.0 366.6L801.3 368.4L806.1 367.7L809.3 368.7L812.5 369.9L815.7 366.2L816.9 363.6L816.8 361.3L821.4 360.0L824.0 358.0L825.4 356.0L828.0 355.3L831.0 355.3L834.5 355.4L838.2 353.8L843.0 353.4L846.8 350.6L849.0 349.8L852.1 348.9L853.1 346.1L854.1 343.0L857.5 339.9L858.0 336.3L858.6 334.2L859.6 331.4L864.5 330.4L867.7 330.5L870.3 332.4L874.3 331.6L876.7 330.6L881.0 330.3L882.6 331.9L885.3 334.6L887.1 331.4L887.5 328.6L887.3 326.1L886.3 322.8L887.7 320.9L890.4 318.8L891.7 315.3L896.0 315.8L900.3 314.2L901.2 316.5L902.4 319.6L905.5 321.9L909.0 321.6L911.0 322.8L910.0 326.1L911.0 329.2L907.2 330.5L904.5 332.4L908.4 333.4L910.5 335.2L913.1 336.7L913.4 339.1L915.2 342.1L911.6 343.3L908.8 344.2L905.9 345.2L902.4 346.3L900.3 349.1L900.3 351.7L902.9 352.8L906.7 353.8L910.4 353.1L913.3 353.7L915.2 354.9L918.9 355.7L922.0 357.3L923.8 359.2L927.2 360.1L929.1 361.9L932.4 365.6L933.9 367.3L935.1 370.1L936.6 374.2L932.4 376.3L928.4 374.2L923.8 374.2L922.6 377.8L921.7 380.6L925.6 381.1L928.1 382.7L930.8 385.2L932.4 387.0L935.3 389.0L936.6 391.3L939.8 393.1L941.4 395.0L942.3 397.2L943.1 399.8L944.3 402.9L944.7 405.1L945.2 408.4L946.1 412.5L947.3 417.0L945.2 421.2L943.7 425.0L943.1 427.7L944.7 430.6L945.2 434.1L944.8 437.4L942.6 440.1L938.8 442.6L937.3 444.6L935.0 447.4L933.4 451.2L935.7 454.1L936.6 457.6L938.8 461.5L943.1 464.0L945.8 466.8L947.2 468.7L948.9 470.4L951.6 472.6L953.5 475.3L953.7 477.9L954.4 482.3L955.9 485.0L956.9 481.7L957.0 479.3L955.9 475.0L957.0 478.2L956.3 481.1L957.8 484.9L958.0 487.8L958.0 491.7L959.7 495.9L959.6 498.8L960.2 502.8L961.1 506.4L962.8 508.7L963.2 511.0L962.3 514.0L962.3 517.8L962.3 520.6L962.0 523.7L961.2 526.4L960.2 530.6L961.7 534.8L964.6 537.7L963.3 542.3L964.5 545.6L966.4 549.8L967.7 554.2L967.9 558.1L969.8 560.6L967.6 565.1L967.3 569.7L966.7 573.5L967.6 578.9L968.0 586.0L968.9 591.9L968.4 595.4L969.8 600.2L966.2 600.5L962.3 603.4L959.9 602.2L955.9 601.4L953.7 599.8L951.6 597.0L950.3 595.1L947.2 593.9L943.1 593.8L938.3 595.1L934.5 597.0L930.6 599.0L928.5 600.9L926.8 602.1L923.8 603.4L920.9 604.0L917.9 605.8L915.2 607.9L911.0 608.7L908.4 612.6L905.6 615.1L902.4 616.2L899.0 618.0L895.0 619.6L892.0 622.3L889.6 624.8L887.4 628.7L884.8 630.5L881.0 633.2L876.7 633.4L874.6 633.2L871.5 633.2L868.2 634.7L865.4 636.9L862.8 639.0L859.6 641.9L855.6 643.8L853.6 645.8L848.9 646.2L845.0 646.5L843.1 645.4L840.3 644.1L841.1 646.6L841.5 649.2L844.6 652.6L847.7 656.4L849.3 659.5L850.6 661.3L853.2 663.3L856.2 666.4L859.6 669.7L859.3 673.1L857.2 675.6L856.4 680.0L855.8 675.4L857.2 672.8L855.7 669.2L855.3 665.0L856.3 669.5L857.7 672.1L859.6 673.6L861.6 677.5L863.6 680.4L863.9 684.3L864.9 686.4L866.1 689.2L869.6 692.5L872.4 695.0L874.9 699.0L877.8 701.0L878.9 703.5L881.3 707.2L883.9 710.3L885.7 711.7L887.4 714.2L888.8 718.8L891.1 719.8L893.8 722.8L896.0 726.6L900.3 729.2L904.0 732.3L906.7 735.6L909.3 739.2L913.1 740.2L915.2 742.0L918.2 745.1L918.8 748.5L919.5 750.6L917.9 753.6L916.3 757.0L913.1 757.3L911.2 758.9L908.2 762.7L906.7 765.6L903.4 766.8L900.8 769.0L898.1 770.9L896.0 774.1L894.1 775.7L891.4 776.4L889.3 779.9L887.4 781.6L884.9 784.4L882.2 786.1L879.8 789.0L878.9 791.3L875.2 794.2L873.4 796.3L872.4 799.8L874.4 801.7L875.4 804.7L875.4 807.9L876.7 810.5L877.5 813.2L877.6 815.5L881.0 819.1L881.7 821.4L882.6 824.7L883.9 827.1L885.3 829.8L883.2 832.6L883.1 836.2L878.9 834.1L874.7 832.4L870.3 830.8L867.7 830.4L865.0 830.6L862.9 829.5L859.6 827.6L857.3 826.5L853.9 826.7L852.1 827.6L848.9 827.6L844.9 827.7L841.4 828.4L838.2 828.3L836.1 829.8L833.4 831.3L830.0 831.3L826.1 829.8L823.3 829.3L821.1 828.7L819.7 830.5L816.8 831.9L814.0 833.9L812.2 835.6L808.4 835.8L804.0 837.3L800.6 838.6L797.6 838.5L795.6 839.7L793.3 841.5L791.1 838.3L788.9 836.2L784.7 834.1L779.8 833.3L776.6 831.6L774.0 831.9L770.3 830.5L765.4 829.8L765.5 833.6L766.5 838.3L763.7 840.8L761.2 842.6L759.4 844.9L758.1 847.9L754.7 850.1L752.9 848.8L751.6 845.9L748.3 842.6L745.8 838.7L744.0 834.1L741.5 831.4L738.1 830.6L733.3 830.8L730.4 830.0L728.0 829.7L724.7 827.8L722.6 826.6L717.9 826.5L714.5 826.6L712.8 825.2L709.8 824.4L705.9 823.7L702.4 824.5L699.1 824.1L697.0 823.4L694.3 822.4L691.2 822.3L688.9 821.8L686.3 821.2L682.6 819.3L677.7 819.1L676.0 823.2L674.3 825.9L673.4 827.6L669.1 829.1L665.5 830.4L662.7 829.8L659.7 829.9L657.5 830.4L653.8 831.4L649.9 830.8L646.7 830.6L643.4 830.8L639.2 830.8L638.3 828.7L636.0 825.9L632.8 823.4L634.1 820.3L633.7 816.3L633.2 812.9L633.8 810.5L635.5 808.3L635.6 805.6L636.3 801.3L636.0 797.7L636.0 793.7L636.3 791.3L637.9 788.6L639.2 787.0L639.4 782.2L641.6 779.1L643.5 776.3L643.9 772.7L643.9 770.4L645.3 767.8L647.7 765.6L649.1 762.9L649.8 760.3L652.3 758.9L654.2 757.0L655.2 754.6L656.7 752.0L658.5 749.4L658.4 746.3L658.7 742.2L660.6 737.8L658.9 734.8L656.3 733.5L653.9 731.6L652.0 730.8L649.2 730.7L645.6 729.2L643.0 728.3L640.1 725.8L636.9 726.0L634.9 724.9L631.0 725.2L628.6 724.6L624.9 724.9L622.1 726.0L617.9 723.9L614.6 722.5L611.7 721.9L609.2 720.6L607.3 717.7L604.9 716.8L600.2 716.0L597.2 713.8L594.2 712.1L591.8 708.7L590.0 705.7L586.6 703.6L584.3 699.4L581.8 698.0L579.3 697.1L577.7 695.1L575.9 692.8L574.9 688.7L572.8 685.9L572.5 681.5L570.7 677.8L571.6 673.8L570.7 670.5L570.1 667.4L569.6 665.0L569.6 665.0L570.3 662.3L571.1 659.4L569.6 654.8L570.3 650.5L572.0 648.5L572.8 646.2L575.3 646.3L578.3 646.8L581.3 645.9L583.5 644.1L585.4 640.8L587.8 637.6L583.5 636.7L580.3 635.5L579.3 632.8L579.3 629.1L576.3 627.4L574.5 624.7L572.0 623.7L569.6 622.7L570.8 618.4L571.8 614.1L572.3 611.4L571.1 607.9L569.0 605.6L568.6 603.4L566.3 602.5L564.4 600.5L560.0 600.0L561.3 583.0L560.9 565.3L560.0 546.2L560.4 518.6L560.9 487.7L560.5 465.6L560.8 436.8L560.0 400.0L570.2 397.9L578.3 397.1L586.5 396.1L596.8 394.2L604.1 394.8L612.9 393.7L618.6 391.9Z"/></clipPath></defs><rect x="391" y="120" width="576" height="792" fill="#22272b"/><path fill="#363636" d="M391 587L624 587L624 500L700 500L800 420L938 420L941 372L952 366L967 363L967 912L391 912Z"/><path fill="#22272b" d="M923.8 374.2L936.6 375.2L953.8 380.6L955.9 391.3L949.5 399.8L940.9 396.6L932.4 387.0L927.0 381.6Z"/><path fill="#363636" d="M670.5 120.1L757.8 120.1L757.8 142.6L750.9 160.9L767.0 167.8L785.4 165.5L790.0 174.7L780.8 183.9L767.0 186.2L757.8 193.1L757.8 202.3L748.6 211.5L744.0 222.9L739.4 234.4L730.2 243.6L727.9 257.4L732.5 271.2L723.4 280.4L718.8 289.6L727.9 296.4L744.0 307.9L741.7 314.8L688.9 301.0L677.4 289.6L675.1 275.8L665.9 243.6L660.2 229.8L660.2 160.9L665.9 138.0Z"/><path fill="none" stroke="#22272b" stroke-width="3.5" stroke-linejoin="round" d="M663.6 147.2L679.7 154.0L686.6 138.0L707.3 131.1L711.9 149.5L725.6 158.6L739.4 151.7L757.8 154.0"/><path fill="#3a3a3b" d="M737.1 248.2L748.6 241.3L767.0 243.6L780.8 252.8L783.1 271.2L776.2 287.3L757.8 294.1L741.7 287.3L734.8 271.2Z"/><path fill="#3a3a3b" d="M803.7 222.9L819.8 211.5L835.9 211.5L849.7 200.0L863.5 202.3L863.5 216.1L872.6 229.8L877.2 243.6L868.0 257.4L854.3 262.0L849.7 275.8L835.9 280.4L822.1 275.8L808.3 271.2L799.1 257.4L796.8 239.0Z"/><path fill="#3a3a3b" d="M792.3 298.7L810.6 291.8L826.7 296.4L835.9 307.9L831.3 321.7L812.9 317.1L796.8 312.5Z"/><path fill="#3a3a3b" d="M834.7 282.7L847.4 280.4L850.8 298.7L845.1 317.1L837.0 310.2Z"/><path fill="#3a3a3b" d="M748.6 298.7L760.1 296.4L767.0 305.6L757.8 310.2Z"/><path fill="#3a3a3b" d="M780.8 289.6L785.4 287.3L788.8 305.6L784.2 310.2Z"/><path fill="#363636" d="M848.5 120.1L853.1 126.5L879.5 159.1L874.9 166.7L865.3 173.6L863.9 180.5L866.9 187.3L860.0 195.4L865.8 206.9L870.3 222.9L874.9 243.6L879.5 255.1L907.1 257.4L941.5 252.8L957.6 262.0L967.0 273.5L967.0 243.6L946.1 239.0L939.2 218.4L946.1 197.7L967.0 193.1L967.0 120.1Z"/><g fill="none" stroke="#434343" stroke-width="1.2" stroke-linejoin="round"><path d="M448.5 626.7L482 643.4L485.3 658.5L508.7 653.5L512 673.5L542 690L572 687"/><path d="M615.6 834L599 854L582 874L565.5 900.8"/><path d="M690 850L720 858L760 848L800 856L840 850L880 860L910 852L930 820L967 800"/><path d="M967 640L940 660L925 700L935 740L967 760"/></g><g clip-path="url(#de)"><rect x="540" y="270" width="440" height="620" fill="#d83729"/><path fill="#fab033" d="M682.0 301.4L683.4 299.3L685.2 297.5L688.5 297.3L692.9 298.7L695.3 297.5L699.1 297.1L700.5 299.4L703.8 301.4L703.8 303.5L705.0 306.5L705.0 309.2L705.5 312.1L706.5 315.6L709.8 318.5L710.7 322.7L711.1 327.4L711.4 329.5L712.5 332.3L714.1 335.6L711.0 337.6L707.7 338.8L703.4 338.6L699.1 337.8L695.9 339.6L692.7 342.1L688.8 341.0L686.0 340.7L683.0 342.1L685.1 340.4L686.3 336.7L690.0 335.4L692.5 332.5L693.9 330.9L697.0 330.3L694.6 326.9L692.7 325.6L690.5 322.8L688.6 320.7L687.8 317.5L686.0 314.0L684.1 312.1L682.9 310.0L682.0 306.6L681.7 304.0Z"/><path fill="#fab033" d="M724.8 330.3L728.1 327.4L731.2 326.0L733.7 324.9L735.9 323.7L739.8 322.8L742.6 320.7L745.1 318.5L745.6 321.5L746.8 323.4L747.6 327.5L748.3 330.3L751.2 331.9L753.7 334.6L754.1 339.0L752.6 341.4L752.6 344.2L749.9 347.8L748.3 350.6L748.6 353.0L750.4 355.6L750.5 359.2L746.6 361.0L741.9 361.3L738.7 362.5L735.5 365.6L732.3 362.8L729.1 361.3L724.3 361.2L720.8 360.7L718.4 360.2L718.0 356.1L718.8 353.6L718.5 351.3L719.4 348.5L716.2 347.3L714.1 344.2L714.5 339.6L714.1 335.6L716.7 334.2L719.0 333.7L722.4 332.3Z"/><path fill="#fab033" d="M776.1 344.2L777.8 341.9L779.5 340.4L783.6 339.5L786.8 338.8L790.4 337.4L792.2 335.6L792.6 332.6L793.3 330.3L795.4 326.7L797.7 327.0L800.7 328.1L802.0 330.6L804.0 333.5L801.3 334.2L797.5 336.1L794.3 338.8L794.5 341.3L793.3 345.1L794.0 347.9L795.4 350.6L794.4 353.1L794.2 355.7L791.1 359.2L788.2 360.0L786.1 360.5L782.6 362.4L782.8 364.9L783.6 367.7L779.9 370.1L778.3 374.2L775.4 373.1L771.9 372.0L770.1 369.3L768.6 365.6L771.0 363.3L771.9 359.2L769.1 357.4L767.6 354.9L770.5 353.7L772.9 350.7L774.3 346.5Z"/><path fill="#fdf08e" d="M692.7 342.1L695.9 339.6L699.1 337.8L703.4 338.6L707.7 338.8L710.3 341.0L714.1 344.2L716.2 347.3L719.4 348.5L718.5 351.3L718.8 353.6L718.0 356.1L718.4 360.2L720.8 360.7L724.3 361.2L729.1 361.3L732.3 362.8L735.5 365.6L736.4 369.0L737.6 371.7L737.6 374.2L735.2 378.5L731.2 380.6L729.4 384.0L726.9 387.0L722.6 384.9L719.6 383.0L715.8 382.1L713.4 381.1L711.2 378.2L709.8 374.2L707.2 374.6L703.8 373.3L700.0 370.9L697.0 369.9L693.3 367.8L691.6 364.5L692.7 361.7L694.0 358.8L692.8 355.7L692.7 352.8L692.5 350.1L693.0 347.5L692.6 344.7Z"/><path fill="#fdf08e" d="M753.7 334.6L757.0 335.2L761.2 333.5L763.5 333.8L767.1 334.6L770.8 335.6L772.3 338.7L775.0 340.2L776.1 342.1L776.1 344.2L774.3 346.5L772.9 350.7L770.5 353.7L767.6 354.9L765.4 357.7L761.2 359.2L756.6 359.7L753.0 360.3L750.5 359.2L750.4 355.6L748.6 353.0L748.3 350.6L749.9 347.8L752.6 344.2L752.6 341.4L754.1 339.0Z"/><path fill="#fdf08e" d="M771.9 376.3L774.6 376.1L778.3 374.2L780.6 370.3L783.6 368.8L783.8 371.8L784.7 374.2L782.0 376.8L779.5 378.1L777.7 379.7L776.1 382.7L771.9 380.6Z"/><path fill="#9b1318" d="M782.6 374.2L783.7 370.6L786.8 367.7L790.7 368.1L793.8 367.2L795.4 365.6L798.0 366.6L801.3 368.4L806.1 367.7L809.3 368.7L812.5 369.9L815.7 366.2L816.9 363.6L816.8 361.3L821.4 360.0L824.0 358.0L825.4 356.0L828.0 355.3L831.0 355.3L834.5 355.4L838.2 353.8L838.2 357.2L837.1 360.2L840.8 359.7L842.5 361.0L845.7 362.4L845.7 358.1L846.3 355.4L846.8 350.6L849.5 349.3L852.1 349.5L853.9 352.8L855.3 357.0L859.0 357.7L861.5 359.0L863.9 360.2L868.6 361.8L871.4 364.5L870.5 368.8L870.8 371.4L870.3 374.2L867.3 377.0L866.1 380.3L866.0 382.7L865.2 385.7L864.8 388.3L864.3 390.8L863.9 393.4L861.1 392.9L858.7 392.8L855.7 392.2L853.2 391.3L851.8 395.3L848.9 397.7L845.8 393.8L843.3 393.1L840.3 391.3L838.0 389.1L836.3 386.3L831.8 384.9L828.7 385.4L826.9 386.2L823.5 386.0L821.1 384.9L817.6 386.1L815.0 386.2L812.5 387.0L811.2 389.4L808.7 390.9L806.1 393.4L802.8 396.7L799.7 398.8L795.9 397.8L792.2 395.6L791.1 392.8L790.4 390.0L786.8 387.0L782.6 384.8L780.4 382.7L782.6 378.8Z"/><path fill="#fdf08e" d="M837.6 353.8L841.0 353.6L845.7 352.3L844.9 354.8L845.2 357.8L846.3 362.4L841.8 361.5L838.2 361.3L838.0 357.4Z"/><path fill="#fab033" d="M852.1 349.5L853.6 346.6L855.4 344.0L857.5 339.9L858.0 336.3L858.6 334.2L859.6 331.4L864.5 330.4L867.7 330.5L870.3 332.4L874.3 331.6L876.7 330.6L881.0 330.3L882.6 331.9L885.3 334.6L888.0 336.9L891.7 339.9L894.6 343.6L894.9 347.5L896.0 350.6L894.3 354.5L893.8 359.2L891.6 361.8L887.4 363.5L883.8 363.9L881.0 365.6L877.4 367.7L874.6 367.7L871.4 364.5L868.6 361.8L863.9 360.2L861.5 359.0L859.0 357.7L855.3 357.0L853.9 352.8Z"/><path fill="#fab033" d="M886.3 322.8L887.7 320.9L890.4 318.8L891.7 315.3L896.0 315.8L900.3 314.2L901.2 316.5L902.4 319.6L905.5 321.9L909.0 321.6L911.0 322.8L910.0 326.1L911.0 329.2L907.2 330.5L904.5 332.4L908.4 333.4L910.5 335.2L913.1 336.7L913.4 339.1L915.2 342.1L911.6 343.3L908.8 344.2L905.9 345.2L902.4 346.3L899.3 343.2L896.0 342.1L893.0 341.1L889.6 337.8L887.2 336.8L885.3 334.6L887.1 331.4L887.5 328.6L887.3 326.1Z"/><path fill="#fab033" d="M871.4 364.5L874.6 367.7L877.4 367.7L881.0 365.6L883.8 366.3L887.4 365.6L890.0 369.5L891.6 371.6L893.8 374.2L896.5 376.4L899.2 376.9L901.2 379.9L902.4 382.7L904.0 385.2L906.4 386.7L909.4 390.2L913.1 391.3L913.8 396.0L916.3 399.8L913.4 402.6L912.8 405.8L911.0 408.4L908.5 410.2L906.7 412.9L904.5 414.1L902.4 417.0L899.7 417.8L897.5 419.5L895.9 422.4L893.8 423.4L889.6 425.2L885.3 427.7L882.8 427.9L880.2 427.0L877.5 426.2L874.6 425.5L872.0 423.1L868.2 422.2L863.9 421.2L860.7 420.1L858.9 418.7L855.3 419.1L851.5 417.3L850.6 415.4L848.9 412.7L848.5 408.9L849.8 406.1L850.0 404.1L850.4 400.4L850.2 397.5L851.4 394.1L853.2 391.3L855.7 392.2L858.7 392.8L861.1 392.9L863.9 393.4L864.3 390.8L864.8 388.3L865.2 385.7L866.0 382.7L866.1 380.3L867.3 377.0L870.3 374.2L870.8 371.4L870.5 368.8Z"/><path fill="#fab033" d="M911.0 408.4L913.0 407.2L915.8 405.4L919.5 405.2L922.7 404.6L925.6 405.3L927.8 406.7L930.2 408.4L932.1 410.3L934.2 411.8L936.6 414.8L939.4 415.7L942.0 415.3L945.2 417.0L945.8 421.5L943.9 425.8L944.2 430.0L945.2 434.1L944.8 437.4L942.6 440.1L938.8 442.6L935.3 444.6L933.4 446.9L929.6 446.4L927.8 444.6L923.8 442.6L920.8 441.4L919.0 439.8L916.3 438.6L913.1 438.4L910.0 437.8L906.6 436.3L902.4 436.2L899.2 434.4L897.9 432.2L896.0 429.8L894.8 427.2L893.8 423.4L895.9 422.4L897.5 419.5L899.7 417.8L902.4 417.0L904.5 414.1L906.7 412.9L908.5 410.2Z"/><path fill="#fab033" d="M816.8 429.8L819.5 428.0L821.7 427.1L825.1 425.5L827.5 421.2L830.5 421.2L832.7 420.3L835.6 419.1L838.2 417.0L842.8 418.5L845.6 419.5L848.9 419.1L852.1 418.4L855.3 419.1L858.9 418.7L860.7 420.1L863.9 421.2L868.2 422.2L872.0 423.1L874.6 425.5L877.5 426.2L880.2 427.0L882.8 427.9L885.3 427.7L883.7 431.1L881.0 434.1L880.8 437.6L881.0 439.8L879.8 441.7L878.9 444.8L881.2 448.6L883.1 451.2L881.2 454.7L881.1 458.4L879.6 460.3L876.7 461.9L873.3 463.0L870.3 464.0L868.4 463.0L865.6 461.4L863.0 460.3L859.6 457.6L857.3 455.9L854.0 453.4L851.7 452.7L848.9 451.2L846.0 450.3L843.6 450.6L840.2 450.3L838.2 449.1L833.9 448.7L830.2 448.1L827.5 446.9L825.4 444.5L821.9 443.2L819.7 441.1L818.9 438.4L818.5 435.6L818.3 433.1Z"/><path fill="#fab033" d="M923.8 457.6L928.3 455.6L931.1 452.5L933.4 451.2L935.7 454.1L936.6 457.6L938.8 461.5L943.1 464.0L945.8 466.8L947.2 468.7L948.9 470.4L951.6 472.6L953.5 475.3L953.7 477.9L954.4 482.3L955.9 485.0L951.3 485.5L947.8 484.7L944.1 485.2L939.5 485.5L934.3 484.1L928.1 484.3L923.2 483.9L919.5 485.0L917.8 483.2L915.9 481.2L915.2 476.9L917.3 474.5L919.4 472.4L921.7 468.3L922.1 463.8L923.8 460.2Z"/><path fill="#fab033" d="M780.4 455.5L783.8 453.5L786.8 451.2L791.3 449.9L795.4 449.1L798.6 449.5L800.8 448.6L803.2 448.6L806.1 449.1L807.9 446.8L810.5 445.6L814.7 444.8L814.3 447.1L814.3 451.0L813.5 454.4L812.5 457.6L812.0 461.1L810.6 463.3L810.4 468.3L810.7 472.4L810.6 475.1L812.1 477.6L812.8 479.7L813.6 482.7L814.7 485.0L809.8 484.0L805.5 484.8L800.0 485.1L792.8 486.1L786.0 486.0L775.2 486.8L770.6 486.5L763.3 485.0L763.0 482.3L763.4 479.8L763.8 475.5L763.3 472.6L761.8 468.4L760.6 465.8L761.2 461.9L764.2 462.1L766.2 461.0L769.7 457.6L772.4 457.7L775.1 456.1L777.7 455.6Z"/><path fill="#fdf08e" d="M780.4 429.8L783.8 429.8L786.8 427.7L790.2 430.5L792.1 432.2L795.4 434.1L799.8 434.3L802.4 435.4L806.1 438.4L810.1 440.9L814.7 442.6L812.7 444.7L809.7 446.9L806.1 449.1L803.2 448.6L800.8 448.6L798.6 449.5L795.4 449.1L791.3 449.9L786.8 451.2L783.8 453.5L780.4 455.5L780.0 453.0L780.5 450.0L782.6 446.9L784.3 442.7L784.7 438.4L784.6 435.0L783.3 433.0Z"/><path fill="#fab033" d="M756.9 417.0L759.3 417.1L762.7 416.8L766.8 417.9L769.7 419.1L773.1 420.2L777.1 420.8L780.4 423.2L782.8 425.1L784.7 427.7L780.4 429.8L783.3 433.0L784.6 435.0L784.7 438.4L784.3 442.7L782.6 446.9L780.5 450.0L780.0 453.0L780.4 455.5L777.7 455.6L775.1 456.1L772.4 457.7L769.7 457.6L766.2 461.0L764.2 462.1L761.2 461.9L759.1 459.9L757.5 456.7L755.6 453.6L755.1 450.6L753.3 446.8L752.6 442.6L751.3 438.2L749.0 436.4L748.3 434.1L750.0 431.6L751.5 430.2L754.5 428.9L756.9 427.7L758.2 423.3L758.4 420.7Z"/><path fill="#fab033" d="M697.0 404.1L699.4 403.7L702.4 403.4L705.4 401.4L709.8 399.8L710.5 402.9L711.3 404.9L714.1 408.4L717.0 411.0L718.4 414.8L722.3 415.8L726.9 417.0L728.4 420.4L728.9 424.1L729.0 426.4L729.1 429.8L730.4 433.7L729.9 437.2L729.2 439.6L726.9 442.6L723.7 446.2L721.3 447.7L718.4 449.1L714.0 451.2L709.8 451.2L708.0 448.7L705.7 447.9L703.6 446.5L701.2 444.8L699.3 443.0L698.3 439.4L696.7 436.3L697.0 434.1L693.9 433.3L691.9 432.3L690.6 430.1L688.4 427.7L686.0 424.5L684.6 422.9L682.0 421.2L684.0 419.2L685.9 418.0L688.4 414.8L690.6 412.2L693.9 410.6L695.9 407.7Z"/><path fill="#fdf08e" d="M729.1 429.8L733.5 430.0L737.6 428.7L740.6 430.1L742.4 432.5L745.6 432.6L748.3 434.1L749.0 436.4L751.3 438.2L752.6 442.6L749.6 445.5L748.3 449.1L746.0 450.6L741.9 451.2L740.9 453.9L740.6 457.5L738.6 459.1L737.6 461.9L735.1 464.2L734.2 467.2L733.0 469.4L731.2 472.6L728.2 471.8L724.8 468.3L722.4 465.7L720.0 463.2L718.3 462.0L716.2 459.8L716.0 456.1L714.1 453.3L717.1 451.5L718.4 449.1L721.3 447.7L723.7 446.2L726.9 442.6L729.2 439.6L729.9 437.2L730.4 433.7Z"/><path fill="#fab033" d="M656.3 440.5L658.0 437.2L658.5 434.0L660.4 431.1L662.7 427.7L666.6 428.5L671.3 429.8L675.9 429.0L678.0 427.1L679.8 425.5L683.9 426.0L688.4 427.7L690.6 430.1L691.9 432.3L693.9 433.3L697.0 434.1L696.7 436.3L698.3 439.4L699.3 443.0L701.2 444.8L703.6 446.5L705.7 447.9L708.0 448.7L709.8 451.2L714.1 453.3L716.0 456.1L716.2 459.8L714.5 461.8L713.0 465.3L710.5 466.4L707.7 468.3L703.6 468.8L701.6 471.3L699.1 472.6L696.8 473.9L692.7 474.3L688.4 476.9L686.3 479.5L685.1 481.7L682.8 483.3L679.8 485.0L675.4 486.1L672.3 485.4L670.0 484.9L667.0 485.0L668.2 483.0L669.6 480.0L671.6 475.9L671.3 472.6L671.4 468.4L672.3 465.3L675.6 461.9L673.1 461.6L670.1 459.9L667.7 457.6L667.0 455.5L664.5 452.9L660.6 451.2L659.2 448.3L658.3 445.0Z"/><path fill="#9b1318" d="M638.1 431.9L642.7 431.5L645.6 429.8L649.5 432.1L651.6 433.8L654.2 436.2L654.5 438.8L656.3 442.6L657.5 445.0L659.5 446.6L660.6 451.2L664.5 452.9L667.0 455.5L667.7 457.6L670.1 459.9L673.1 461.6L675.6 461.9L672.3 465.3L671.4 468.4L671.3 472.6L671.6 475.9L669.6 480.0L668.2 483.0L667.0 485.0L663.7 483.7L661.1 485.0L658.4 485.0L655.7 482.3L654.9 479.2L654.2 476.9L651.6 475.0L650.0 472.6L647.5 471.1L645.6 468.3L643.0 465.4L639.2 464.0L640.7 460.7L640.9 458.1L640.1 453.9L641.3 451.2L640.0 448.5L640.1 444.5L638.0 442.9L637.0 440.5L637.3 436.0Z"/><path fill="#9b1318" d="M664.9 396.6L668.6 396.6L671.3 396.6L674.5 399.8L677.3 400.9L676.3 405.1L677.4 408.1L677.7 412.7L675.8 414.6L675.3 417.5L674.5 421.3L675.6 425.5L673.9 427.4L671.3 429.8L669.5 427.3L667.0 425.5L667.6 421.9L666.3 419.3L665.1 415.7L664.9 412.7L666.5 408.2L666.0 404.9L666.2 400.7Z"/><path fill="#fab033" d="M626.8 386.4L629.8 386.4L633.5 387.4L637.2 385.1L640.2 383.4L642.4 383.6L645.9 384.6L647.7 386.1L651.4 385.3L654.2 385.7L655.9 387.5L657.2 389.9L659.5 393.3L660.1 396.6L660.1 399.4L659.8 403.3L660.8 406.4L662.3 408.0L662.8 412.8L660.6 417.0L656.5 417.6L654.2 419.6L649.9 419.1L645.2 419.2L641.3 417.0L638.5 416.3L636.8 414.7L632.8 412.7L629.6 411.3L626.8 408.4L625.2 405.9L625.3 403.1L624.2 399.8L624.6 396.5L625.1 394.3L626.5 390.7Z"/><path fill="#fdf08e" d="M628.5 391.3L633.1 389.6L636.0 389.9L639.2 389.1L642.8 390.8L645.6 391.3L644.8 395.3L645.9 399.0L647.3 401.8L647.7 404.1L650.2 407.4L652.0 410.5L649.8 412.5L645.6 413.7L643.7 411.9L642.7 409.6L641.3 406.3L639.2 404.6L636.2 403.6L632.8 402.0L628.5 399.8L628.0 396.0Z"/><path fill="#9b1318" d="M741.9 564.9L744.7 563.7L747.1 560.9L750.4 561.6L753.7 560.6L757.3 560.7L760.7 560.0L765.4 559.5L769.0 560.7L772.4 561.2L776.7 562.4L780.1 561.2L782.6 560.6L785.5 560.7L787.7 560.2L791.4 560.0L795.4 561.0L799.3 559.7L802.0 559.9L806.2 561.5L809.3 563.2L811.4 560.3L813.6 559.5L817.6 559.2L820.3 557.6L822.1 556.3L821.5 551.4L822.4 548.8L823.2 545.6L826.6 545.0L829.0 546.0L830.8 544.7L833.9 543.1L836.9 545.2L838.3 547.4L842.5 548.8L845.6 547.6L848.8 546.6L851.8 546.9L855.3 545.6L859.7 546.7L862.6 545.6L864.6 544.8L867.7 544.0L870.3 542.4L872.9 542.6L877.0 542.9L880.5 543.9L883.1 545.6L887.0 548.5L888.5 551.9L889.6 554.2L890.6 558.1L891.9 561.0L890.8 563.8L890.6 567.0L888.5 569.6L887.0 571.2L885.3 575.6L881.5 574.9L878.9 573.4L878.9 569.8L877.7 566.0L876.8 563.8L876.7 560.6L872.4 559.4L870.3 556.5L868.2 554.2L864.1 555.2L860.6 554.4L857.5 555.9L855.3 556.3L853.5 557.3L851.3 559.6L846.8 560.6L847.7 564.5L847.9 567.2L846.8 571.3L847.2 575.9L845.9 579.5L845.7 582.0L847.8 586.3L852.2 586.6L855.3 586.3L859.6 588.8L861.6 592.6L863.9 594.8L862.5 597.3L860.8 599.3L859.6 603.4L855.1 603.7L851.9 604.1L850.0 605.5L849.6 608.4L848.0 611.0L846.8 615.2L848.9 617.8L852.7 619.0L855.3 622.7L859.3 623.8L863.9 622.7L864.5 619.6L867.3 616.3L868.8 613.7L870.3 612.0L874.4 609.8L876.8 608.4L881.0 607.7L884.4 607.2L888.8 608.8L891.2 610.9L893.8 612.0L895.3 613.3L898.0 614.8L902.4 616.2L899.0 618.0L895.0 619.6L892.0 622.3L889.6 624.8L887.4 628.7L884.8 630.5L881.0 633.2L876.7 633.4L874.6 633.2L871.5 633.2L868.2 634.7L865.4 636.9L862.8 639.0L859.6 641.9L855.6 643.8L853.6 645.8L848.9 646.2L845.0 646.5L843.1 645.4L840.3 644.1L841.1 646.6L841.5 649.2L844.6 652.6L847.7 656.4L849.3 659.5L850.6 661.3L853.2 663.3L856.2 666.4L859.6 669.7L859.3 673.1L857.2 675.6L856.4 680.0L850.2 680.0L841.2 680.1L833.4 680.1L822.7 679.5L816.1 678.8L809.8 679.7L804.6 679.9L799.7 680.0L798.7 676.9L799.7 672.6L801.7 670.0L801.8 667.6L801.9 664.6L803.1 661.8L805.3 659.0L806.1 656.9L806.9 652.3L805.8 649.0L804.0 646.2L805.4 641.9L806.1 637.6L805.8 635.4L804.3 632.4L801.8 629.1L799.6 627.2L797.6 626.3L795.4 622.7L793.9 625.4L791.1 626.9L787.8 627.1L784.7 629.1L784.7 631.4L783.2 633.9L781.9 637.1L780.3 641.1L778.3 644.1L775.3 642.6L771.9 639.8L769.4 637.2L767.0 635.1L765.4 633.4L763.2 632.5L760.4 630.5L756.9 629.1L753.8 627.3L751.6 626.7L748.3 624.8L746.5 628.2L746.2 631.2L744.1 634.3L741.9 635.5L737.9 635.9L735.1 635.1L731.5 634.8L729.1 635.5L724.9 632.9L723.0 630.1L720.5 629.1L721.5 625.6L720.6 622.6L720.5 620.5L723.4 618.8L725.5 616.5L729.1 614.1L732.0 610.5L734.7 607.9L735.5 605.5L738.3 608.4L741.9 609.8L743.6 606.5L744.9 604.5L746.2 601.3L745.9 599.0L745.8 595.5L746.6 592.6L748.3 590.6L748.2 587.9L749.7 584.7L752.6 582.0L751.5 578.5L751.3 576.2L748.3 573.4L746.6 571.5L744.8 569.8L743.1 568.0Z"/><path fill="#9b1318" d="M848.9 516.7L852.1 516.6L854.9 516.2L859.6 517.8L864.5 518.6L867.8 517.3L870.8 519.2L874.6 521.0L878.3 522.5L881.4 522.4L883.0 524.0L885.3 526.4L886.1 531.1L886.5 533.9L888.5 537.1L886.7 538.5L884.6 540.7L881.0 541.3L876.0 541.6L872.2 541.3L868.2 541.3L865.5 540.5L863.0 540.2L860.5 539.1L857.5 539.2L853.6 536.7L851.0 532.8L849.2 529.9L849.1 527.7L848.9 524.2L849.8 519.8Z"/><path fill="#9b1318" d="M655.2 475.0L657.9 476.7L661.5 477.1L666.1 475.6L669.1 475.0L667.6 478.9L668.1 482.5L664.9 483.9L660.6 484.6L657.7 483.4L656.3 481.4L655.0 478.9Z"/><path fill="#9b1318" d="M748.3 497.5L750.7 496.3L754.9 496.7L759.0 494.3L762.0 497.6L764.4 500.7L765.5 502.6L766.2 505.4L765.2 507.7L765.4 511.4L761.2 512.4L759.0 514.6L758.7 512.1L757.0 509.8L754.7 507.1L752.9 504.6L750.4 503.5L748.6 500.0Z"/><path fill="#9b1318" d="M634.9 559.5L636.5 558.1L639.6 557.7L641.9 557.5L645.6 557.4L648.8 560.7L650.3 563.8L649.9 567.0L649.6 571.2L649.5 574.8L647.7 577.7L647.4 580.5L646.7 583.0L643.5 586.3L641.5 589.1L639.9 593.8L641.3 597.4L641.3 601.3L636.7 601.9L632.8 603.4L630.9 600.3L630.0 597.5L629.8 593.6L629.5 590.6L629.2 587.4L629.4 585.4L629.4 581.9L629.7 578.8L630.6 575.6L631.2 571.5L631.8 568.4L634.5 564.5Z"/><path fill="#9b1318" d="M639.2 539.2L641.2 538.2L644.3 537.0L647.7 537.5L650.6 540.2L652.0 542.4L648.5 544.4L646.7 547.8L644.0 546.1L640.2 545.6L639.3 541.9Z"/><path fill="#9b1318" d="M662.7 603.4L665.5 600.7L669.1 600.2L671.6 602.8L672.8 605.0L675.6 607.7L676.2 611.4L677.5 613.4L677.7 616.2L679.4 620.0L680.9 622.7L678.9 625.8L676.8 628.5L676.6 633.4L674.9 631.6L673.6 628.7L670.7 626.8L669.1 624.8L666.6 622.3L665.1 620.0L662.7 618.4L661.9 616.3L660.9 613.3L660.6 609.8L660.8 606.3Z"/><path fill="#9b1318" d="M921.7 525.3L923.9 525.6L927.1 525.5L929.8 526.6L932.4 527.4L931.9 530.4L932.5 533.4L933.4 536.9L933.4 539.2L935.2 542.6L935.4 545.3L935.6 547.8L932.6 548.7L930.8 551.1L929.2 553.7L928.1 556.3L927.6 559.9L926.2 562.1L923.8 563.8L920.8 564.2L918.1 564.9L916.1 564.1L913.1 562.7L914.3 560.0L914.5 557.8L913.1 554.2L915.1 550.9L918.0 549.4L919.5 547.8L920.1 543.3L919.0 540.6L919.5 537.1L920.4 533.9L919.6 531.1L920.7 528.8Z"/><path fill="#7a0e13" d="M832.8 600.2L837.2 599.6L840.3 598.0L843.3 600.1L845.7 603.4L846.3 606.4L846.2 610.0L846.8 614.1L844.1 618.0L841.7 618.9L838.2 620.5L836.8 617.7L835.1 616.0L831.8 614.1L830.8 609.9L831.6 606.1L832.6 603.7Z"/><path fill="#7a0e13" d="M806.1 648.3L810.1 646.1L813.1 645.2L816.8 645.1L818.6 647.6L819.4 650.6L820.0 654.8L817.8 659.0L815.5 661.1L814.7 663.3L811.4 664.8L808.7 663.7L806.1 664.4L805.6 660.4L802.9 656.9L803.5 653.1L805.7 650.7Z"/><path fill="#7a0e13" d="M829.6 652.6L833.8 651.4L836.1 649.9L840.3 648.3L842.0 650.5L844.2 652.5L845.7 656.9L842.6 660.1L840.7 661.5L838.2 663.3L833.6 663.0L830.7 661.2L830.2 656.6Z"/><path fill="#d83729" d="M784.7 587.3L787.7 586.9L792.2 585.2L794.7 587.1L796.1 588.4L797.5 591.6L795.6 594.3L794.3 599.1L791.4 598.0L786.8 598.0L785.0 594.1L785.2 590.6Z"/><path fill="#d83729" d="M802.2 590.1L805.6 589.6L807.8 590.6L807.1 592.9L807.4 596.5L802.9 596.1L801.6 592.8Z"/><path fill="#d83729" d="M812.9 593.8L816.0 593.0L820.0 592.7L821.8 596.6L821.5 600.2L817.7 599.9L814.7 601.7L812.8 598.0Z"/><path fill="#d83729" d="M836.5 594.8L840.7 594.1L844.2 594.4L845.0 596.6L845.3 599.6L844.6 603.4L840.3 605.1L837.1 602.3L837.6 598.0Z"/><path fill="#d83729" d="M753.7 589.5L758.0 588.7L761.2 588.4L762.6 591.7L762.2 594.8L758.9 595.5L755.8 595.9L753.6 592.4Z"/><path fill="#d83729" d="M848.9 605.5L853.4 605.7L856.6 604.1L859.6 603.4L861.5 606.1L863.3 607.7L866.4 608.3L868.2 609.8L866.7 614.0L866.9 617.8L866.0 620.5L864.2 621.9L861.5 623.0L859.3 623.5L856.4 622.7L854.6 620.6L853.1 618.5L850.0 616.6L847.8 615.2L848.4 612.4L847.9 609.5Z"/><path fill="#fab033" d="M626.3 496.4L627.9 494.4L628.6 490.9L632.4 487.8L634.9 484.6L637.0 485.9L640.6 487.1L642.4 488.9L645.6 490.0L648.5 492.4L650.5 494.1L652.0 496.4L650.0 499.3L649.9 501.8L650.6 504.5L649.9 507.1L651.6 511.5L654.2 513.5L657.3 514.5L660.6 517.8L662.1 521.2L665.9 523.6L666.3 526.5L667.0 530.6L666.6 533.7L665.5 535.7L664.9 539.2L661.5 537.6L659.2 538.0L655.9 539.3L652.0 539.2L649.2 538.1L645.3 538.5L641.3 537.1L636.5 538.3L634.2 539.2L630.6 539.2L626.3 539.2L627.1 532.2L627.8 524.8L628.4 519.0L627.4 513.6L627.3 508.9L628.2 505.9L628.1 501.7Z"/><path fill="#fab033" d="M675.6 532.8L679.6 531.7L683.5 532.1L686.3 530.5L688.4 528.5L691.5 526.7L692.7 524.2L691.6 520.3L690.5 517.7L688.4 513.5L691.3 512.7L694.6 510.2L697.4 508.2L699.1 506.0L701.3 508.0L702.6 509.7L705.4 511.1L707.7 511.4L709.8 513.4L710.5 515.7L711.5 519.6L714.1 522.1L714.9 524.5L715.2 527.1L718.4 530.6L717.6 535.6L717.9 538.8L717.3 541.3L714.7 543.5L714.0 545.7L709.8 547.8L708.4 551.2L707.0 553.5L707.0 557.0L705.5 560.6L701.9 560.0L697.0 559.5L693.8 558.0L691.3 557.6L688.4 556.3L685.1 555.0L682.7 553.3L681.0 550.6L679.8 547.8L676.1 544.7L675.3 542.3L673.4 539.2L675.3 535.9Z"/><path fill="#fab033" d="M716.2 521.0L717.9 518.9L720.4 518.1L723.5 516.1L726.9 515.7L728.5 517.4L731.3 519.4L733.3 523.1L738.0 523.4L741.9 525.3L746.3 525.0L749.4 525.3L746.4 527.5L744.2 530.5L741.1 531.8L738.5 532.4L734.0 534.3L731.8 535.6L729.1 537.1L724.9 537.8L720.5 539.2L719.1 534.4L718.4 530.6L716.0 526.7L717.0 524.4Z"/><path fill="#fdea78" d="M719.4 540.3L723.9 538.6L726.4 537.8L729.1 537.1L731.8 535.6L734.0 534.3L738.5 532.4L741.1 531.8L744.2 530.5L746.4 527.5L749.4 525.3L748.8 529.2L749.0 533.8L748.9 536.7L748.2 539.4L749.4 542.4L750.5 545.6L747.6 546.6L745.6 546.9L741.9 545.6L739.2 544.9L735.3 544.5L732.4 545.9L729.1 546.7L724.5 544.8L721.7 542.1Z"/><path fill="#fdf08e" d="M749.4 525.3L751.6 520.9L752.6 517.8L757.2 516.5L760.0 515.1L763.3 515.7L766.4 516.8L768.6 518.3L771.9 521.0L773.3 525.3L772.0 528.3L771.9 530.6L771.8 533.5L770.8 537.1L768.0 536.1L765.4 534.9L761.4 534.8L759.3 533.2L756.9 531.7L753.7 532.8L751.5 532.8L750.9 529.1Z"/><path fill="#fab033" d="M751.5 532.8L753.7 532.8L756.9 531.7L759.3 533.2L761.4 534.8L765.4 534.9L768.0 536.1L770.8 537.1L772.9 539.0L774.0 542.4L769.2 543.2L765.4 545.6L761.6 546.1L759.1 546.3L756.5 545.9L752.6 546.7L750.5 545.6L751.9 542.5L752.0 539.6L752.6 535.5Z"/><path fill="#fab033" d="M759.0 483.6L759.2 481.3L760.5 478.6L763.3 475.0L766.9 476.7L770.0 476.5L773.0 476.5L775.8 477.4L780.2 477.0L783.9 475.8L786.3 474.8L789.0 475.0L790.4 478.3L791.3 482.5L791.8 485.3L792.2 487.8L792.7 492.4L791.6 495.4L791.5 499.3L791.1 502.8L790.3 507.0L789.2 509.7L786.8 511.4L782.6 513.5L782.6 511.3L782.1 507.9L779.8 504.9L778.3 502.8L775.1 499.4L771.9 496.4L768.6 497.0L765.4 498.5L763.6 495.2L761.2 492.1L761.5 487.5Z"/><path fill="#fab033" d="M790.0 475.0L794.9 474.1L797.6 475.4L800.3 476.2L804.1 475.6L807.2 476.7L811.3 475.6L816.8 475.0L816.2 478.1L814.8 479.7L815.7 483.6L813.1 485.0L810.4 487.8L806.3 486.6L804.0 485.2L799.7 485.7L797.1 483.8L792.2 483.6L792.1 478.6Z"/><path fill="#fab033" d="M853.2 481.4L856.0 480.1L859.6 477.1L862.5 477.3L864.5 478.3L868.3 480.1L870.3 483.6L874.1 486.3L876.6 487.7L881.0 487.8L883.4 488.2L887.1 488.1L890.1 489.9L893.8 490.0L891.8 493.1L891.3 495.9L889.6 498.5L887.2 501.1L884.4 502.6L882.3 506.7L881.0 509.2L878.9 513.5L877.4 515.0L874.6 516.7L871.7 516.8L869.7 517.9L867.3 518.3L863.9 517.8L861.3 516.5L857.1 516.3L853.2 513.5L851.4 509.3L849.9 507.7L847.8 505.0L849.2 501.7L850.0 498.5L848.9 494.3L849.2 491.6L851.6 488.9L852.2 485.6Z"/><path fill="#fab033" d="M919.5 475.0L924.4 476.6L929.7 476.5L934.0 477.2L940.6 476.5L943.4 476.2L946.4 474.9L950.1 474.5L955.9 475.0L954.5 478.4L953.4 480.3L953.8 483.6L949.1 483.2L946.5 482.4L943.1 481.4L941.0 482.8L938.2 483.1L935.4 483.8L932.4 484.6L930.0 482.9L927.5 481.6L923.8 481.4L921.7 478.0Z"/><path fill="#fdf08e" d="M945.2 490.0L948.3 488.8L952.7 490.0L952.0 493.7L953.3 498.1L949.5 497.5L946.3 498.5L945.1 495.4L944.8 493.4Z"/><path fill="#fab033" d="M802.9 547.8L804.2 544.1L807.3 541.6L810.6 540.4L812.5 539.2L816.1 541.8L818.8 542.9L822.1 543.5L822.0 546.2L822.1 548.5L822.5 551.8L823.2 556.3L819.3 557.5L815.7 558.1L813.6 559.5L811.4 560.3L809.3 563.2L806.2 561.2L804.0 558.5L804.6 556.3L804.6 553.3L803.3 550.7Z"/><path fill="#fab033" d="M705.5 562.7L709.3 563.1L711.8 562.2L714.1 560.6L716.1 561.6L719.1 561.9L722.6 564.9L726.3 566.5L731.2 567.0L731.2 570.2L732.8 572.5L733.1 575.1L733.3 577.7L733.2 581.0L732.4 582.9L729.1 586.3L727.7 590.6L724.0 592.6L722.6 594.8L721.9 598.1L721.1 600.9L720.5 603.4L716.4 601.4L712.9 601.0L709.8 601.3L707.8 599.3L705.4 598.8L703.4 597.1L701.2 594.8L701.4 591.7L702.7 589.7L705.2 585.5L705.5 582.0L706.2 579.3L705.5 576.6L706.6 574.6L707.7 571.3L706.2 566.8Z"/><path fill="#d83729" d="M716.2 566.6L719.8 565.3L724.3 565.9L724.4 568.8L724.8 571.3L720.4 571.1L717.3 571.7L716.0 568.7Z"/><path fill="#fab033" d="M699.1 607.7L701.5 606.2L704.4 605.6L707.7 603.4L710.8 603.6L712.8 603.4L715.4 604.0L718.4 605.5L720.2 608.6L722.4 610.9L724.8 612.0L723.4 614.2L723.4 617.4L720.5 620.5L720.6 622.6L721.5 625.6L720.5 629.1L718.1 630.2L715.8 631.0L711.9 633.4L709.8 631.6L708.1 629.9L706.0 627.6L705.5 624.8L703.7 622.7L702.2 620.9L701.2 616.2L699.3 611.6Z"/><path fill="#fab033" d="M579.3 624.8L580.8 622.1L582.8 619.9L584.6 618.2L587.8 616.2L590.8 615.8L592.7 614.6L596.1 615.5L600.1 614.6L602.8 614.1L607.4 612.4L610.9 612.2L613.2 613.0L616.0 613.4L619.4 613.2L624.2 614.1L621.8 617.1L621.2 619.5L619.9 622.7L615.6 625.1L613.0 625.8L609.2 624.8L607.6 629.2L605.0 630.9L602.8 633.4L599.7 634.3L597.3 636.4L594.7 636.4L592.1 637.6L589.4 637.0L586.6 637.3L584.3 636.0L581.4 635.5L580.3 632.8L580.0 630.4L580.6 627.9Z"/><path fill="#fab033" d="M641.3 616.2L643.0 613.6L645.4 612.5L649.9 612.0L653.9 614.8L655.3 617.3L656.3 620.5L656.4 624.6L655.8 627.1L654.2 629.1L651.2 630.6L650.0 632.3L647.7 635.5L643.3 633.5L641.3 631.2L640.6 628.4L638.1 624.8L638.5 621.6L639.6 619.4Z"/><path fill="#fab033" d="M609.2 637.6L613.3 637.3L617.3 635.6L620.0 633.6L622.1 631.2L623.7 632.7L626.5 634.3L630.3 635.4L632.8 635.5L635.3 638.5L636.0 641.9L637.0 644.1L638.9 647.7L641.2 649.5L640.7 652.1L641.3 654.8L644.0 658.1L644.4 660.3L645.6 663.3L647.8 664.7L649.6 668.2L652.0 671.9L653.7 675.0L653.2 677.6L654.2 680.0L651.2 678.7L648.8 678.0L645.3 678.5L640.1 677.5L635.0 678.4L627.8 678.8L623.9 679.4L619.9 680.0L620.7 676.9L620.9 674.4L618.3 670.6L617.8 667.6L615.1 665.0L612.5 662.7L612.4 659.7L611.4 656.9L609.8 653.7L609.0 651.1L608.0 649.3L607.1 646.2L608.4 641.5Z"/><path fill="#fab033" d="M572.8 646.2L575.9 643.2L578.0 642.4L581.4 641.9L585.2 643.9L587.8 646.2L589.2 649.1L590.2 651.7L592.1 654.6L592.1 656.9L591.5 661.8L592.5 665.5L594.2 667.6L591.2 669.5L589.3 672.3L587.8 674.0L583.1 672.5L580.3 673.1L577.1 674.0L575.2 671.4L572.8 670.7L570.7 667.6L569.5 664.6L568.3 662.3L569.8 659.0L569.6 654.8L570.3 650.5L572.0 648.5Z"/><path fill="#fdf08e" d="M596.4 656.9L599.9 655.6L602.8 654.8L605.0 657.6L606.6 659.3L609.2 661.2L612.6 664.0L615.6 667.6L616.6 670.7L615.2 675.4L616.7 677.8L617.8 680.0L615.6 680.9L612.9 681.9L609.3 681.5L605.6 680.7L602.8 680.0L602.2 677.5L600.7 675.1L598.5 671.9L597.6 668.2L596.0 666.3L595.3 663.3L595.1 659.4Z"/><path fill="#fab033" d="M744.0 656.9L746.2 655.7L748.5 653.7L752.6 652.6L756.3 651.1L758.7 649.7L761.2 648.3L764.4 649.2L767.6 648.2L771.9 646.2L774.0 647.1L776.7 649.1L780.2 651.0L782.6 652.6L782.6 656.1L782.8 658.5L784.7 661.2L781.4 663.0L780.8 665.2L778.3 667.6L775.1 668.0L772.6 669.0L769.7 671.9L766.5 671.1L763.8 670.7L761.0 669.4L759.0 667.6L754.9 666.2L752.2 666.4L748.3 665.5L747.0 661.0L745.5 659.2Z"/><path fill="#fab033" d="M782.6 667.0L785.1 666.3L788.5 666.5L788.3 670.5L789.0 672.9L785.9 672.9L783.0 672.9L782.4 670.6Z"/><path fill="#fab033" d="M679.8 667.0L682.7 667.7L685.8 666.5L687.2 669.7L686.7 674.0L683.2 675.1L680.9 674.4L681.5 671.2Z"/><path fill="#9b1318" d="M799.7 665.0L807.3 665.5L813.1 665.2L818.0 665.9L822.0 665.6L831.5 666.6L837.5 666.9L848.0 666.4L855.3 665.0L856.3 669.5L857.7 672.1L859.6 673.6L861.6 677.5L863.6 680.4L863.9 684.3L864.9 686.4L866.1 689.2L869.6 692.5L872.4 695.0L874.9 699.0L877.8 701.0L878.9 703.5L881.3 707.2L883.9 710.3L885.7 711.7L887.4 714.2L888.8 718.8L891.1 719.8L893.8 722.8L896.0 726.6L900.3 729.2L904.0 732.3L906.7 735.6L909.3 739.2L913.1 740.2L915.2 742.0L918.2 745.1L918.8 748.5L919.5 750.6L917.9 753.6L916.3 757.0L913.1 757.3L911.2 758.9L908.2 762.7L906.7 765.6L903.4 766.8L900.8 769.0L898.1 770.9L896.0 774.1L892.5 776.8L889.6 778.4L888.1 775.4L887.2 773.1L886.6 770.3L887.4 767.7L885.9 766.2L883.3 764.0L882.3 761.3L881.0 759.2L879.6 754.7L876.8 752.6L874.6 750.6L871.2 749.8L868.2 746.3L866.2 747.3L863.2 749.0L859.6 748.5L856.9 750.8L852.8 751.7L849.3 750.5L846.8 750.6L844.7 749.4L842.5 746.3L844.5 743.5L847.2 742.5L851.0 739.9L854.1 739.1L856.2 739.6L859.6 737.8L858.6 734.4L858.7 731.4L857.5 727.1L855.4 725.2L852.8 723.8L848.9 722.8L844.1 723.4L841.7 722.5L838.2 720.6L833.9 718.8L829.6 716.4L827.1 715.3L825.0 712.6L824.0 710.0L821.1 707.8L820.6 704.4L820.5 699.7L818.9 696.3L816.8 695.0L816.0 691.1L815.7 688.1L813.4 684.7L810.4 682.1L807.6 679.7L805.0 679.1L803.7 675.6L801.8 673.6L801.4 671.4L799.4 668.8Z"/><path fill="#9b1318" d="M729.1 718.5L731.9 716.0L734.5 715.4L737.6 712.1L741.1 711.2L744.0 707.8L748.5 706.5L751.5 706.7L753.3 711.0L752.4 714.0L752.6 716.4L753.4 719.9L753.8 722.7L755.7 725.1L756.9 727.1L752.7 727.4L748.3 729.2L746.2 731.4L744.0 733.5L740.9 734.2L737.6 737.8L733.8 734.8L731.2 731.3L729.2 728.6L724.8 727.1L726.8 724.4L727.7 722.3Z"/><path fill="#9b1318" d="M657.4 722.8L660.7 719.1L662.1 716.6L664.9 714.2L668.1 715.1L671.3 714.2L670.6 716.6L669.2 719.2L669.1 722.8L666.5 725.0L664.9 729.2L662.1 729.4L659.5 730.3L657.4 727.2Z"/><path fill="#fdf08e" d="M596.4 665.0L601.2 665.3L603.2 664.3L606.0 663.7L608.7 664.3L611.8 663.5L614.2 664.7L617.8 665.0L618.4 668.1L618.0 670.7L617.2 672.9L616.7 675.7L613.2 678.4L612.9 681.5L611.4 683.2L608.2 680.9L604.9 677.8L602.7 675.5L599.6 673.6L598.5 670.6L598.2 668.6Z"/><path fill="#fab033" d="M572.8 671.4L576.2 671.3L580.4 670.5L582.5 670.5L585.7 669.3L587.9 670.6L590.3 673.3L593.3 674.6L596.4 675.7L601.0 675.9L604.9 677.8L606.9 680.8L607.1 684.3L607.6 688.0L609.2 690.7L607.4 693.8L607.1 697.1L604.2 698.5L602.3 699.9L600.7 703.5L597.3 705.6L594.4 705.0L592.1 705.7L590.6 703.2L588.2 701.1L584.9 699.2L583.5 697.1L581.9 694.6L581.4 691.6L579.3 688.5L577.6 684.8L576.6 681.3L574.7 679.5L573.4 676.0Z"/><path fill="#fab033" d="M626.3 671.4L629.7 669.9L630.9 667.8L634.9 665.0L639.8 665.4L644.4 664.7L647.4 664.8L650.4 665.6L656.0 665.6L661.5 666.0L667.0 666.0L671.3 665.0L670.6 668.1L669.5 669.9L669.1 673.6L669.3 678.1L671.3 682.1L669.8 684.6L669.5 687.9L667.0 690.7L665.4 694.9L664.0 697.6L662.7 699.2L664.5 703.0L667.0 705.7L663.0 707.5L660.6 711.0L658.0 709.9L655.9 708.5L652.5 707.3L649.9 707.8L647.1 705.2L645.6 703.5L644.1 701.0L642.3 698.8L641.3 695.0L638.8 691.5L638.4 687.5L637.0 685.3L633.3 686.5L630.6 686.4L630.5 682.5L629.0 679.8L628.5 677.8L626.6 675.0Z"/><path fill="#fdf08e" d="M623.1 695.0L626.3 692.6L627.4 689.7L630.6 686.4L633.3 686.5L637.0 685.3L638.4 687.5L638.8 691.5L641.3 695.0L642.3 698.8L644.1 701.0L645.6 703.5L647.1 705.2L649.9 707.8L645.2 708.0L641.3 707.8L637.2 707.7L632.8 705.7L629.0 705.9L626.5 705.2L624.2 704.6L624.1 702.0L624.5 698.9Z"/><path fill="#fdf08e" d="M654.2 706.1L657.5 704.7L661.0 705.3L665.9 705.7L665.9 708.8L666.6 710.8L661.7 711.1L658.2 711.6L655.2 711.2L655.4 708.9Z"/><path fill="#fab033" d="M618.8 711.0L621.6 709.6L623.8 708.5L627.5 709.2L629.9 708.3L632.8 705.7L637.2 707.7L641.3 707.8L644.4 710.7L646.7 711.8L648.8 713.1L649.0 717.2L649.9 720.6L648.8 725.5L647.7 729.2L645.2 728.8L642.6 728.6L639.2 727.1L636.0 724.9L633.8 723.9L630.6 722.8L628.7 724.0L626.1 726.0L622.1 726.0L619.5 722.8L617.8 718.5L617.3 715.3Z"/><path fill="#fab033" d="M676.6 709.9L680.3 707.9L683.6 707.4L686.5 705.8L688.4 703.5L691.3 701.5L693.6 701.4L697.0 699.2L700.3 697.5L702.0 695.6L705.5 692.8L708.9 689.9L711.6 689.3L714.1 688.5L716.3 688.2L719.4 688.5L720.6 691.2L722.6 695.0L723.6 697.7L724.8 700.3L728.5 702.6L731.2 703.5L732.2 707.9L731.3 711.8L729.3 714.4L729.1 718.5L727.7 722.3L726.8 724.4L724.8 727.1L721.1 727.6L718.7 728.3L716.2 729.2L712.1 728.7L707.7 727.1L704.8 725.8L702.8 725.3L699.1 724.9L696.7 721.8L694.5 720.5L692.7 718.5L688.5 717.3L684.1 716.4L682.0 715.6L679.3 713.4Z"/><path fill="#fab033" d="M691.6 680.0L694.8 678.1L696.8 676.8L699.1 674.6L702.2 675.4L705.5 677.8L705.9 682.5L706.2 685.0L705.5 688.5L704.4 692.2L701.2 695.0L698.1 693.2L693.7 692.8L692.3 690.0L691.2 686.8L691.3 683.9Z"/><path fill="#fab033" d="M731.2 683.2L731.0 680.2L729.1 677.8L732.7 675.2L734.3 672.8L737.6 671.4L741.0 671.0L743.0 669.7L746.2 669.3L749.6 667.5L752.6 665.0L756.1 665.0L760.2 663.2L763.5 663.9L765.4 665.0L769.4 668.0L771.9 671.4L769.7 675.1L767.6 677.3L765.4 680.0L763.3 684.2L761.2 686.4L757.1 687.8L755.0 690.8L752.6 692.8L748.3 695.0L745.7 695.6L741.9 695.0L740.3 693.0L739.3 690.5L737.6 686.4L734.1 685.5Z"/><path fill="#fab033" d="M677.7 737.8L681.1 734.4L683.8 732.7L686.3 730.3L690.6 729.0L694.8 729.2L694.8 733.9L697.0 737.8L693.7 740.9L690.5 744.2L686.3 744.3L683.6 744.0L680.9 745.2L679.8 741.9Z"/><path fill="#fab033" d="M714.1 735.6L718.2 733.3L719.8 730.8L722.6 729.2L727.5 729.7L731.2 731.3L733.8 734.8L737.6 737.8L740.9 734.2L744.0 733.5L746.2 731.4L748.3 729.2L752.1 729.8L756.9 729.2L761.1 731.6L763.3 735.6L763.0 738.1L763.4 740.8L764.4 743.8L764.4 746.3L762.0 749.1L762.3 751.5L761.2 754.9L758.5 756.8L756.6 758.6L752.6 759.2L750.0 761.4L746.2 763.4L745.4 759.2L743.3 757.6L741.9 754.9L743.0 751.1L744.0 748.5L740.0 747.0L737.6 744.2L733.3 742.1L729.1 742.0L725.0 744.4L720.5 746.3L717.7 745.5L714.1 744.2L714.1 740.5Z"/><path fill="#fab033" d="M642.4 776.3L643.5 772.5L645.6 769.7L644.6 766.1L645.6 763.4L647.1 760.6L650.7 758.7L651.4 755.7L652.0 753.8L655.6 756.2L658.5 757.3L660.6 757.0L663.9 760.5L664.9 763.4L664.0 766.5L664.5 770.9L666.4 773.0L667.0 776.3L665.9 779.1L664.9 781.9L665.6 784.8L664.9 787.0L660.8 788.7L657.6 789.3L654.2 788.0L652.2 787.8L649.2 787.0L645.6 784.8L641.3 782.7L642.5 779.1Z"/><path fill="#fab033" d="M664.9 763.4L668.0 761.1L670.7 759.3L673.4 759.2L677.6 761.8L679.3 763.8L682.0 765.6L685.2 768.6L686.3 771.6L688.4 774.1L684.5 777.0L679.8 778.4L677.0 778.0L674.9 777.2L671.3 776.3L667.0 776.3L666.4 773.0L664.5 770.9L664.0 766.5Z"/><path fill="#fab033" d="M689.5 759.2L691.7 758.3L693.6 756.4L697.0 754.9L698.8 756.2L701.8 757.2L705.5 757.0L705.4 761.0L706.6 763.4L706.2 767.7L707.1 770.8L706.6 773.4L707.7 776.3L706.7 778.5L705.5 781.9L705.3 786.2L706.6 789.1L704.8 791.2L702.5 792.1L699.4 792.0L697.0 793.4L692.9 791.4L690.9 788.4L688.4 787.0L686.0 783.4L685.2 780.6L687.8 777.1L688.4 774.1L688.0 770.5L688.6 767.0L688.9 762.3Z"/><path fill="#fdf08e" d="M691.6 763.4L695.9 763.5L699.1 761.3L701.7 763.3L706.6 763.4L706.9 766.7L705.8 769.0L706.0 772.1L706.6 774.1L702.7 775.5L699.1 776.3L695.7 775.1L691.6 773.1L691.8 769.8L692.5 767.7Z"/><path fill="#fab033" d="M660.6 793.4L664.3 791.0L669.1 790.2L673.8 791.0L677.7 791.3L678.6 793.6L679.2 796.1L681.2 798.8L682.0 802.0L682.2 804.5L682.0 807.1L683.0 810.5L681.1 812.9L678.8 814.8L676.8 813.2L675.1 810.4L673.8 808.0L671.3 806.2L667.1 804.0L664.9 802.0L663.0 801.0L660.1 799.8L661.2 797.3Z"/><path fill="#fab033" d="M746.2 772.0L749.8 771.2L752.6 768.8L757.4 768.2L761.2 767.7L764.6 768.8L767.0 769.7L768.6 772.0L771.3 775.9L771.9 780.6L768.6 784.2L767.6 788.0L764.1 790.0L761.3 790.8L759.0 791.3L755.3 790.2L752.6 787.0L751.1 782.8L748.3 780.6L748.7 776.8L747.3 773.9Z"/><path fill="#fab033" d="M760.1 757.0L762.3 752.7L765.4 750.6L768.7 752.7L770.9 752.1L774.0 752.7L777.6 754.8L778.4 756.9L780.4 759.2L778.5 763.1L778.3 766.6L774.5 768.4L771.2 767.8L768.6 768.8L763.8 767.5L761.2 765.6L761.3 761.4Z"/><path fill="#fab033" d="M750.5 814.8L754.5 812.1L759.0 811.6L761.7 814.2L765.4 814.8L767.1 818.8L768.5 821.4L768.2 825.1L767.6 827.6L766.1 832.2L767.2 835.5L766.5 838.3L763.7 840.8L761.2 842.6L759.4 844.9L758.1 847.9L754.7 850.1L752.9 848.8L751.6 845.9L748.3 842.6L748.4 839.3L747.4 837.3L745.1 834.1L747.1 830.3L748.3 825.5L748.1 823.2L748.8 819.8L749.2 817.3Z"/><path fill="#fab033" d="M775.1 724.9L777.2 722.7L778.3 720.2L782.6 718.5L784.8 714.6L786.8 712.1L791.2 710.8L792.8 708.9L795.4 707.8L796.6 710.5L798.1 712.3L801.8 714.2L802.8 717.5L804.4 720.1L804.0 724.9L806.2 727.8L808.2 729.2L803.6 730.1L801.9 732.4L799.7 733.5L797.5 735.2L795.9 736.8L793.3 739.9L788.4 740.2L784.7 739.9L781.0 737.8L780.1 735.3L778.3 733.5L776.0 729.5Z"/><path fill="#fdf08e" d="M765.4 735.6L767.9 734.4L770.8 733.8L774.0 731.3L776.9 734.7L780.4 735.6L782.4 738.6L784.6 740.2L786.8 742.0L789.4 745.8L790.2 747.7L791.1 750.6L790.9 754.8L790.0 759.2L785.9 757.8L782.6 757.0L779.2 754.5L777.2 753.1L774.0 752.7L770.9 751.0L768.3 750.3L766.5 748.5L765.5 745.8L764.1 741.9L764.8 739.1Z"/><path fill="#fdf08e" d="M791.1 739.9L793.9 738.2L796.7 737.7L798.3 736.2L799.7 733.5L801.9 732.4L803.6 730.1L808.2 729.2L811.3 731.0L813.2 732.1L816.8 733.5L819.6 736.6L823.2 739.9L822.4 744.2L821.1 748.5L817.0 749.4L812.5 748.5L810.0 750.3L808.2 752.7L804.1 751.4L799.7 750.6L796.3 748.8L792.2 746.3L790.9 743.7Z"/><path fill="#fab033" d="M823.2 739.9L822.3 736.5L821.1 733.5L823.8 733.9L826.2 732.8L829.6 731.3L833.5 732.2L835.7 733.5L838.2 735.6L837.6 738.9L838.4 742.0L840.3 746.3L837.2 747.9L833.9 750.6L830.5 751.0L827.5 751.1L825.4 750.6L821.1 748.5L822.4 744.2Z"/><path fill="#fab033" d="M791.1 750.6L795.8 749.5L799.7 750.6L804.1 751.4L808.2 752.7L810.0 750.3L812.5 748.5L816.8 748.9L821.1 750.6L821.0 754.6L820.0 759.2L819.1 761.0L816.9 763.1L814.7 765.6L812.0 769.6L808.2 772.0L804.9 770.2L801.8 767.7L800.2 764.9L798.3 763.7L795.4 761.3L792.3 760.9L790.0 759.2L790.9 754.8Z"/><path fill="#fab033" d="M831.8 752.7L835.0 751.0L837.9 749.9L840.3 749.5L842.8 751.2L844.7 752.6L848.9 752.7L851.2 755.9L853.2 759.2L851.3 760.3L849.1 762.3L846.8 765.6L844.0 764.4L842.2 763.3L838.2 763.4L835.3 761.6L832.8 759.2L832.9 755.2Z"/><path fill="#fab033" d="M836.1 767.7L840.3 766.8L842.9 766.9L846.8 765.6L850.1 766.3L853.0 766.5L857.5 765.6L856.2 769.2L856.4 774.1L852.9 775.8L848.9 778.4L845.6 777.0L842.5 774.1L840.3 770.9L838.2 769.2Z"/><path fill="#fab033" d="M825.4 776.3L828.4 773.8L831.3 772.8L833.9 772.0L838.6 773.0L842.5 774.1L843.0 777.5L843.9 779.3L846.8 782.7L845.4 785.3L842.5 789.1L837.5 789.6L835.0 789.8L831.8 789.1L828.5 785.7L825.4 783.8L825.0 779.5Z"/><path fill="#fdf08e" d="M784.7 765.6L787.4 762.7L790.0 759.2L792.3 760.9L795.4 761.3L798.3 763.7L800.2 764.9L801.8 767.7L801.6 771.0L800.9 773.8L798.1 776.1L797.5 778.4L796.1 781.0L794.7 783.1L792.2 787.0L789.2 785.9L786.8 785.9L787.9 781.9L787.1 779.7L787.9 776.3L785.3 772.6L784.2 769.7Z"/><path fill="#fab033" d="M797.5 778.4L800.5 774.7L801.8 772.0L805.4 771.2L808.2 772.0L811.1 776.0L814.7 778.4L813.1 781.2L812.5 784.8L808.7 787.0L804.0 787.0L800.6 786.3L798.6 784.8L798.8 780.9Z"/><path fill="#fab033" d="M795.4 795.5L798.3 793.5L801.8 794.0L804.0 793.4L808.0 794.5L811.1 795.3L814.4 796.0L816.8 795.5L820.3 795.9L822.6 796.6L827.5 795.5L829.6 797.1L833.1 798.2L835.7 797.1L838.2 797.7L836.5 799.9L836.1 804.1L832.0 805.3L829.2 805.8L825.4 805.2L823.4 807.8L820.8 808.8L818.9 810.5L818.3 813.1L819.5 816.9L820.0 821.2L819.0 824.3L818.7 827.5L816.8 831.9L814.0 833.9L812.2 835.6L808.4 835.8L804.0 837.3L800.6 838.6L797.6 838.5L795.6 839.7L793.3 841.5L790.8 838.9L786.8 836.2L788.7 833.3L788.9 829.8L789.0 825.5L791.6 822.4L795.4 821.2L797.8 821.4L800.6 822.1L804.0 823.4L806.1 819.0L805.5 815.6L806.1 812.7L804.7 810.9L802.3 808.6L801.4 806.0L799.7 804.1L797.0 802.1L796.3 799.8Z"/><path fill="#fab033" d="M786.8 690.3L789.2 689.9L792.2 689.6L793.4 692.6L792.8 695.0L790.7 695.1L787.3 695.4L786.6 692.8Z"/><path d="M789.4 697.4L801.3 713.0M789.4 697.4L776.7 718.1M792.7 723.6L801.3 713.0M792.7 723.6L781.4 724.8M776.7 718.1L781.4 724.8M801.8 314.9L792.8 300.9M801.8 314.9L819.9 315.5M819.9 315.5L823.1 310.7M792.8 300.9L786.4 303.2M786.4 303.2L762.9 291.4M829.0 818.7L812.2 792.0M829.0 818.7L812.7 819.1M812.2 792.0L806.0 797.4M812.7 819.1L806.0 797.4M854.3 692.9L849.4 693.0M854.3 692.9L861.8 685.6M838.1 667.2L851.6 661.4M838.1 667.2L833.0 674.2M851.6 661.4L855.6 662.2M833.0 674.2L849.4 693.0M855.6 662.2L861.8 685.6M789.4 697.4L786.9 685.0M786.9 685.0L779.8 682.4M779.8 682.4L764.9 682.1M762.8 714.9L776.7 718.1M762.8 714.9L753.4 700.8M753.4 700.8L764.9 682.1M669.1 767.9L661.7 779.0M669.1 767.9L637.7 753.2M637.7 753.2L636.7 753.3M648.8 785.0L661.7 779.0M648.8 785.0L632.3 777.8M636.7 753.3L632.3 777.8M888.0 302.1L901.5 308.8M813.9 337.6L801.6 347.0M813.9 337.6L800.8 321.1M800.8 321.1L794.4 329.8M794.4 329.8L796.9 345.9M796.9 345.9L801.6 347.0M801.8 314.9L800.8 321.1M765.2 333.2L794.4 329.8M765.2 333.2L763.5 322.7M763.5 322.7L786.4 303.2M790.6 349.7L765.7 336.5M790.6 349.7L796.9 345.9M765.2 333.2L764.9 334.7M764.9 334.7L765.7 336.5M748.2 312.7L722.9 287.0M748.2 312.7L752.4 313.3M752.4 313.3L758.1 295.7M758.1 295.7L726.9 272.8M726.9 272.8L722.9 287.0M763.5 322.7L752.4 313.3M762.9 291.4L758.1 295.7M823.1 310.7L850.9 302.6M852.7 299.4L850.9 302.6M888.0 302.1L870.6 309.5M852.7 299.4L870.6 309.5M838.3 340.0L836.0 325.1M838.3 340.0L821.6 341.7M818.2 338.1L821.6 341.7M818.2 338.1L824.9 322.5M824.9 322.5L836.0 325.1M811.6 361.0L820.7 359.8M811.6 361.0L801.6 347.0M820.7 359.8L821.6 341.7M813.9 337.6L818.2 338.1M819.9 315.5L824.9 322.5M848.6 314.8L850.9 302.6M848.6 314.8L836.0 325.1M555.3 304.0L569.8 302.9M555.3 304.0L561.3 328.1M569.8 302.9L577.0 321.8M577.0 321.8L575.9 323.5M561.3 328.1L575.9 323.5M585.2 318.9L596.3 325.3M585.2 318.9L577.0 321.8M596.3 325.3L582.7 337.4M575.9 323.5L582.7 337.4M688.5 325.7L709.8 310.2M688.5 325.7L680.4 313.5M680.4 313.5L697.7 297.5M709.8 310.2L709.7 300.6M709.7 300.6L697.7 297.5M737.6 320.1L711.2 312.5M737.6 320.1L748.2 312.7M711.2 312.5L709.8 310.2M722.9 287.0L709.7 300.6M692.0 293.9L697.7 297.5M971.2 792.1L951.9 776.3M971.2 792.1L989.7 777.2M951.9 776.3L956.2 770.9M989.7 777.2L956.2 770.9M931.9 683.1L912.8 702.5M931.9 683.1L931.7 682.6M902.2 683.7L912.8 702.5M902.2 683.7L927.1 674.7M927.1 674.7L931.7 682.6M835.5 843.7L836.9 859.8M835.5 843.7L821.1 841.1M821.1 841.1L821.2 858.2M821.2 858.2L836.5 860.3M836.5 860.3L836.9 859.8M804.7 879.1L806.4 873.3M806.4 873.3L821.2 858.2M858.5 860.1L851.0 856.3M851.0 856.3L836.9 859.8M820.0 840.0L821.1 841.1M820.0 840.0L811.8 838.3M806.4 873.3L802.4 847.7M811.8 838.3L802.4 847.7M831.0 819.6L820.0 840.0M831.0 819.6L829.0 818.7M812.7 819.1L806.8 828.5M811.8 838.3L806.8 828.5M789.2 807.2L804.3 827.7M789.2 807.2L798.4 799.8M798.4 799.8L806.0 797.4M806.8 828.5L804.3 827.7M804.7 879.1L781.1 856.3M781.1 856.3L780.7 853.6M780.7 853.6L788.3 844.6M802.4 847.7L788.3 844.6M851.0 856.3L848.0 845.2M835.5 843.7L839.7 841.1M839.7 841.1L848.0 845.2M868.0 850.7L858.5 860.1M868.0 850.7L853.8 842.3M853.8 842.3L848.0 845.2M832.2 819.4L840.9 836.4M832.2 819.4L843.8 810.8M843.8 810.8L853.3 828.6M840.9 836.4L853.3 828.6M831.0 819.6L832.2 819.4M839.7 841.1L840.9 836.4M857.0 830.3L853.3 828.6M857.0 830.3L853.8 842.3M871.8 848.9L868.0 850.7M916.0 858.2L928.8 854.9M916.0 858.2L915.5 840.4M915.5 840.4L928.6 842.7M928.6 842.7L931.6 848.1M931.6 848.1L928.8 854.9M910.3 864.3L916.0 858.2M975.4 812.7L967.3 821.5M965.2 828.0L967.3 821.5M975.4 812.7L968.9 798.1M968.9 798.1L955.6 799.9M955.6 799.9L956.3 812.6M967.3 821.5L956.3 812.6M851.6 661.4L847.5 638.2M871.6 648.7L860.0 634.4M871.6 648.7L870.8 657.4M855.6 662.2L870.8 657.4M847.5 638.2L860.0 634.4M878.7 664.3L880.8 681.2M878.7 664.3L894.3 657.9M902.5 667.2L894.3 657.9M902.5 667.2L898.9 682.1M898.9 682.1L884.9 684.9M884.9 684.9L880.8 681.2M870.8 657.4L878.7 664.3M861.8 685.6L880.8 681.2M902.2 683.7L898.9 682.1M927.1 674.7L925.6 661.8M925.6 661.8L902.5 667.2M831.7 727.2L810.3 737.8M831.7 727.2L825.4 710.1M810.3 737.8L809.2 714.3M809.2 714.3L822.8 708.8M825.4 710.1L822.8 708.8M852.0 719.6L840.9 704.0M852.0 719.6L839.1 733.3M840.9 704.0L825.4 710.1M839.1 733.3L831.7 727.2M801.3 713.0L809.2 714.3M810.3 676.2L786.9 685.0M810.3 676.2L815.0 678.2M815.0 678.2L822.8 708.8M815.0 678.2L833.0 674.2M840.9 704.0L849.4 693.0M554.8 717.4L579.1 713.9M590.1 732.5L579.1 713.9M590.1 732.5L583.0 743.6M583.0 743.6L576.0 747.4M563.5 610.8L570.2 617.2M570.2 617.2L570.3 617.4M570.3 617.4L560.4 633.7M599.3 638.6L585.6 640.7M599.3 638.6L605.1 618.2M601.4 614.5L605.1 618.2M601.4 614.5L575.8 621.7M575.8 621.7L585.6 640.7M576.5 650.8L585.6 640.7M576.5 650.8L560.4 633.7M570.3 617.4L575.8 621.7M576.5 650.8L575.2 654.3M551.0 667.8L575.2 654.3M556.6 780.0L561.2 768.6M713.4 793.2L712.8 794.5M713.4 793.2L736.4 796.7M736.0 804.3L736.4 796.7M736.0 804.3L713.0 828.2M713.0 828.2L707.9 821.0M712.8 794.5L707.9 821.0M711.3 837.1L714.5 853.0M711.3 837.1L683.5 841.6M697.2 862.4L712.6 855.3M697.2 862.4L676.4 853.1M712.6 855.3L714.5 853.0M676.4 853.1L683.5 841.6M717.9 854.4L714.5 853.0M669.1 767.9L671.4 766.7M637.7 753.2L658.0 741.8M671.4 766.7L658.0 741.8M661.7 779.0L673.9 795.5M673.9 795.5L688.5 780.9M671.4 766.7L673.4 766.3M673.4 766.3L677.5 767.6M688.5 780.9L677.5 767.6M636.7 753.3L631.3 747.2M638.7 724.5L631.3 747.2M638.7 724.5L639.3 724.1M658.0 741.8L659.3 740.2M659.3 740.2L651.8 726.1M639.3 724.1L651.8 726.1M630.8 778.8L616.8 781.8M630.8 778.8L632.7 808.3M616.8 781.8L613.4 802.3M613.4 802.3L625.1 815.3M632.7 808.3L625.1 815.3M652.6 802.1L648.8 785.0M652.6 802.1L648.8 806.8M632.3 777.8L630.8 778.8M648.8 806.8L632.7 808.3M600.3 775.2L596.5 776.6M600.3 775.2L616.8 781.8M598.7 806.7L596.5 776.6M598.7 806.7L613.4 802.3M780.7 853.6L767.6 848.6M758.2 868.0L767.6 848.6M781.3 740.5L781.8 751.9M781.3 740.5L799.4 737.2M781.8 751.9L801.9 755.2M799.4 737.2L807.7 742.4M807.7 742.4L809.4 752.9M801.9 755.2L809.4 752.9M792.7 723.6L799.4 737.2M781.4 724.8L778.0 735.6M778.0 735.6L781.3 740.5M810.3 737.8L807.7 742.4M762.8 714.9L759.0 730.9M778.0 735.6L766.5 736.7M766.5 736.7L759.0 730.9M754.3 790.8L753.5 765.0M754.3 790.8L762.2 793.8M763.5 793.8L762.2 793.8M763.5 793.8L780.3 776.4M780.3 776.4L780.8 774.9M780.8 774.9L773.3 760.4M773.3 760.4L761.8 758.2M761.8 758.2L756.0 759.6M753.5 765.0L756.0 759.6M730.9 770.0L753.5 765.0M730.9 770.0L738.0 795.4M738.0 795.4L754.3 790.8M789.2 807.2L785.1 808.5M798.4 799.8L780.3 776.4M785.1 808.5L763.5 793.8M812.2 792.0L816.2 786.1M789.0 772.9L816.2 786.1M789.0 772.9L780.8 774.9M789.0 772.9L801.9 755.2M781.8 751.9L773.3 760.4M766.5 736.7L761.8 758.2M746.3 749.6L756.4 731.9M746.3 749.6L756.0 759.6M759.0 730.9L756.4 731.9M785.1 808.5L780.6 819.3M804.3 827.7L788.0 832.8M780.6 819.3L788.0 832.8M788.3 844.6L786.9 838.6M788.0 832.8L786.9 838.6M934.0 274.6L952.5 289.7M848.6 314.8L856.1 328.3M870.6 309.5L876.5 326.2M856.1 328.3L871.4 329.8M871.4 329.8L876.5 326.2M901.5 308.8L902.1 310.3M883.4 327.6L876.5 326.2M883.4 327.6L895.4 321.2M902.1 310.3L895.4 321.2M564.0 603.4L563.5 610.8M948.5 419.8L946.4 439.4M948.5 419.8L959.7 417.1M946.4 439.4L954.1 449.5M954.1 449.5L969.9 439.0M969.9 439.0L960.4 417.6M959.7 417.1L960.4 417.6M585.2 318.9L589.0 307.7M596.3 325.3L597.7 325.4M597.7 325.4L600.6 309.6M600.6 309.6L589.0 307.7M569.8 302.9L581.5 294.2M589.0 307.7L581.5 294.2M616.2 307.1L612.2 303.1M616.2 307.1L632.3 305.9M632.3 305.9L635.7 298.8M612.2 303.1L609.2 288.7M609.2 288.7L633.8 291.9M635.7 298.8L633.8 291.9M616.6 323.5L616.2 307.1M616.6 323.5L605.7 327.3M605.7 327.3L598.7 326.1M597.7 325.4L598.7 326.1M600.6 309.6L612.2 303.1M653.5 296.3L635.7 298.8M573.1 345.4L582.7 339.8M573.1 345.4L569.6 357.8M569.6 357.8L582.1 365.7M582.1 365.7L595.2 348.0M582.7 339.8L594.6 347.2M594.6 347.2L595.2 348.0M561.3 328.1L559.3 331.1M559.3 331.1L573.1 345.4M582.7 337.4L582.7 339.8M598.7 326.1L594.6 347.2M607.4 350.5L595.2 348.0M607.4 350.5L605.7 327.3M623.3 329.5L631.6 329.8M623.3 329.5L616.6 323.5M632.3 305.9L638.3 313.3M631.6 329.8L638.3 313.3M670.9 278.3L676.3 297.3M670.9 278.3L658.7 301.5M676.3 297.3L665.5 307.7M658.7 301.5L662.2 308.3M662.2 308.3L665.5 307.7M692.0 293.9L676.3 297.3M653.5 296.3L658.7 301.5M680.4 313.5L665.5 307.7M638.3 313.3L659.1 314.0M659.1 314.0L662.2 308.3M985.7 604.0L972.3 608.2M972.3 608.2L969.2 623.8M950.4 654.0L940.0 648.6M950.4 654.0L967.6 646.9M939.9 641.6L951.0 625.4M939.9 641.6L940.0 648.6M967.6 646.9L968.0 646.0M968.0 646.0L964.4 626.2M951.0 625.4L964.4 626.2M974.6 655.0L967.6 646.9M969.2 623.8L964.4 626.2M928.3 787.0L941.1 778.0M928.3 787.0L935.0 808.8M935.0 808.8L951.6 798.4M951.6 798.4L947.0 778.6M947.0 778.6L941.1 778.0M968.9 798.1L971.2 792.1M955.6 799.9L951.6 798.4M951.9 776.3L947.0 778.6M956.3 812.6L935.0 817.3M935.0 808.8L934.5 810.5M934.5 810.5L935.0 817.3M965.2 828.0L964.1 829.0M964.1 829.0L937.7 823.1M937.7 823.1L935.0 817.4M935.0 817.3L935.0 817.4M972.0 756.3L957.3 764.1M972.0 756.3L971.8 752.7M971.8 752.7L956.8 732.4M957.3 764.1L949.3 750.0M949.3 750.0L956.8 732.4M956.2 770.9L957.3 764.1M932.3 755.9L949.3 750.0M932.3 755.9L931.3 758.4M931.3 758.4L941.1 778.0M923.1 735.7L932.3 755.9M923.1 735.7L956.8 731.1M956.8 731.1L956.8 732.4M985.8 741.3L962.5 726.2M963.9 724.6L962.5 726.2M956.8 731.1L958.0 728.5M958.0 728.5L962.5 726.2M971.8 752.7L985.8 741.3M975.1 661.0L974.6 655.0M976.3 691.8L975.3 692.3M976.3 691.8L970.2 667.8M975.3 692.3L961.1 690.0M961.1 690.0L952.7 670.0M970.2 667.8L954.4 661.9M952.7 670.0L954.4 661.9M963.9 724.6L975.3 692.3M975.1 661.0L970.2 667.8M958.0 728.5L955.3 725.6M943.8 694.1L943.4 696.1M943.8 694.1L961.1 690.0M955.3 725.6L943.4 696.1M931.9 683.1L943.8 694.1M931.7 682.6L952.7 670.0M950.4 654.0L954.4 661.9M925.6 661.8L926.1 660.2M926.1 660.2L940.0 648.6M843.8 810.8L845.1 807.9M816.2 786.1L817.0 785.6M845.1 807.9L817.0 785.6M839.1 733.3L841.2 740.1M809.4 752.9L814.9 757.3M841.2 740.1L814.9 757.3M817.0 785.6L822.1 775.8M814.9 757.3L822.1 775.8M946.8 860.9L937.3 849.1M946.8 860.9L961.7 849.0M937.3 849.1L948.7 843.1M948.7 843.1L960.2 845.2M961.7 849.0L960.2 845.2M931.6 848.1L937.3 849.1M971.3 856.8L961.7 849.0M937.4 825.4L928.6 842.7M937.4 825.4L948.7 843.1M937.4 825.4L937.7 823.1M964.1 829.0L960.2 845.2M838.1 667.2L832.4 652.0M847.5 638.2L847.2 638.1M847.2 638.1L832.4 652.0M909.0 646.4L894.5 657.4M909.0 646.4L907.7 640.6M907.7 640.6L906.3 639.0M906.3 639.0L888.7 642.1M888.7 642.1L894.5 657.4M926.1 660.2L909.0 646.4M894.3 657.9L894.5 657.4M925.7 630.5L939.9 641.6M925.7 630.5L907.7 640.6M884.2 631.3L883.8 639.0M884.2 631.3L890.8 623.0M883.8 639.0L888.7 642.1M890.8 623.0L901.8 624.8M901.8 624.8L906.3 639.0M871.6 648.7L883.8 639.0M786.0 646.6L809.7 670.9M786.0 646.6L785.3 643.1M785.3 643.1L803.4 640.0M803.4 640.0L812.4 653.7M809.7 670.9L812.4 653.7M810.3 676.2L809.7 670.9M779.8 682.4L786.0 646.6M832.4 652.0L825.2 646.8M825.2 646.8L812.4 653.7M764.9 682.1L756.4 670.2M756.4 670.2L760.5 656.7M785.3 643.1L783.9 642.1M783.9 642.1L760.5 656.7M756.4 670.2L739.3 665.9M739.3 665.9L742.0 640.2M742.0 640.2L754.2 638.3M760.5 656.7L754.2 638.3M825.2 646.8L826.2 633.6M803.4 640.0L805.9 635.9M805.9 635.9L826.2 633.6M837.8 629.8L847.2 638.1M837.8 629.8L829.8 629.1M829.8 629.1L826.2 633.6M773.1 591.5L762.6 596.5M773.1 591.5L788.7 596.4M762.6 596.5L770.1 608.2M770.1 608.2L782.8 608.5M782.8 608.5L788.7 596.4M731.2 618.4L725.2 631.2M731.2 618.4L729.5 607.9M705.6 617.0L711.2 604.3M705.6 617.0L723.0 632.6M723.0 632.6L725.2 631.2M729.5 607.9L719.0 599.8M719.0 599.8L711.2 604.3M569.3 565.5L565.1 549.1M564.0 603.4L571.9 588.0M570.2 617.2L591.8 599.9M591.8 599.9L571.9 588.0M601.4 614.5L595.3 600.1M591.8 599.9L595.3 600.1M570.9 582.6L571.9 588.0M565.1 549.1L578.7 537.4M578.7 537.4L564.3 522.5M570.7 496.6L568.4 492.6M570.7 496.6L570.9 512.8M570.9 512.8L564.3 522.5M578.7 537.4L593.4 536.3M570.9 512.8L591.0 521.7M593.4 536.3L591.0 521.7M570.7 496.6L595.4 506.9M591.0 521.7L595.4 506.9M590.1 732.5L596.5 731.9M583.0 743.6L603.5 758.7M603.5 758.7L608.5 753.3M596.5 731.9L608.5 753.3M603.5 758.7L600.3 775.2M631.3 747.2L625.5 745.9M608.5 753.3L625.5 745.9M554.8 717.4L567.4 684.9M579.1 713.9L585.8 704.8M585.8 704.8L585.7 703.5M585.7 703.5L567.4 684.9M551.0 667.8L567.3 684.5M567.4 684.9L567.3 684.5M571.5 817.9L584.2 828.7M567.7 838.3L584.2 828.7M567.7 838.3L577.1 852.6M583.3 855.6L577.1 852.6M648.8 806.8L652.3 829.8M624.8 818.2L625.1 815.3M624.8 818.2L630.3 826.9M652.3 829.8L651.1 831.9M651.1 831.9L630.3 826.9M588.4 806.1L584.1 800.1M588.4 806.1L572.2 814.5M584.1 800.1L571.6 799.9M572.2 814.5L569.4 802.6M569.4 802.6L571.6 799.9M571.5 817.9L572.2 814.5M569.9 784.8L556.6 780.0M569.9 784.8L571.6 799.9M588.4 779.9L595.0 776.7M588.4 779.9L584.9 779.9M584.9 779.9L568.9 764.1M595.0 776.7L576.0 752.2M576.0 752.2L568.9 764.1M595.4 810.0L598.7 806.7M595.4 810.0L588.4 806.1M596.5 776.6L595.0 776.7M584.1 800.1L588.4 779.9M569.9 784.8L584.9 779.9M561.2 768.6L568.9 764.1M576.0 747.4L576.0 752.2M713.0 828.2L713.7 831.7M713.7 831.7L711.3 837.1M680.8 830.2L682.3 825.6M680.8 830.2L683.5 841.6M707.9 821.0L702.0 818.9M682.3 825.6L702.0 818.9M712.8 794.5L690.7 806.7M702.0 818.9L690.7 806.7M713.4 793.2L705.9 782.3M695.1 783.1L705.9 782.3M695.1 783.1L688.2 805.7M688.2 805.7L690.7 806.7M673.4 766.3L676.5 747.8M659.3 740.2L666.4 738.0M676.5 747.8L666.4 738.0M677.5 767.6L694.4 756.9M694.4 756.9L689.1 741.6M676.5 747.8L689.1 741.6M706.6 780.5L704.8 759.4M706.6 780.5L728.5 768.1M704.8 759.4L723.1 742.6M728.5 768.1L723.1 742.6M688.5 780.9L695.1 783.1M705.9 782.3L706.6 780.5M694.4 756.9L704.8 759.4M736.4 796.7L738.0 795.4M730.9 770.0L728.5 768.1M723.0 742.1L723.1 742.5M723.0 742.1L691.5 735.4M723.1 742.5L723.1 742.6M689.1 741.6L691.5 735.4M723.1 742.5L746.3 749.6M638.7 724.5L624.2 716.9M639.3 724.1L643.5 709.4M633.8 700.5L624.2 716.9M633.8 700.5L639.4 700.0M639.4 700.0L643.5 709.4M758.2 868.0L745.9 854.3M745.9 854.3L738.8 855.1M717.9 854.4L737.1 854.2M738.8 855.1L737.1 854.2M713.7 831.7L734.6 832.9M737.1 854.2L734.6 832.9M623.3 329.5L614.3 350.5M607.4 350.5L611.6 352.9M614.3 350.5L611.6 352.9M569.6 357.8L566.6 358.5M566.6 358.5L558.2 380.3M549.6 383.5L558.2 380.3M952.5 289.7L959.5 307.1M760.7 365.2L754.2 358.4M760.7 365.2L769.4 353.4M754.2 358.4L765.7 338.0M769.4 353.4L765.7 338.0M722.2 441.0L721.9 433.3M722.2 441.0L698.4 440.8M721.9 433.3L703.7 415.6M703.7 415.6L698.4 440.8M721.9 433.3L738.2 414.9M704.7 404.2L701.1 407.1M704.7 404.2L734.4 409.9M734.4 409.9L738.2 414.9M703.7 415.6L701.1 407.1M734.4 409.9L740.0 385.9M741.8 416.4L758.8 404.4M741.8 416.4L738.2 414.9M758.8 404.4L756.3 391.6M740.0 385.9L756.3 391.6M541.8 418.5L569.1 434.5M541.8 418.5L568.8 407.7M569.1 434.5L583.7 422.5M583.7 422.5L568.8 407.7M549.6 383.5L569.9 404.0M568.8 407.7L569.9 404.0M975.6 403.4L973.2 414.9M960.4 417.6L973.2 414.9M964.5 538.4L987.6 530.5M964.5 538.4L958.8 548.9M965.0 576.0L961.6 582.2M965.0 576.0L987.6 570.7M976.7 589.7L961.0 594.1M976.7 589.7L987.6 570.7M961.0 594.1L961.6 582.2M954.6 551.0L958.8 548.9M954.6 551.0L951.8 558.1M951.8 558.1L965.0 576.0M959.6 596.6L961.0 594.1M959.6 596.6L972.3 608.2M985.7 604.0L976.7 589.7M925.7 630.5L922.1 619.8M901.8 624.8L901.9 624.8M922.1 619.8L901.9 624.8M640.2 336.8L659.3 319.1M640.2 336.8L643.1 347.3M648.7 348.8L663.9 336.3M648.7 348.8L644.2 348.7M663.9 336.3L664.9 328.0M644.2 348.7L643.1 347.3M664.9 328.0L659.3 319.1M631.6 329.8L640.2 336.8M659.1 314.0L659.3 319.1M614.3 350.5L643.1 347.3M687.0 331.0L688.5 325.7M687.0 331.0L664.9 328.0M640.0 362.5L644.2 348.7M640.0 362.5L660.2 372.5M648.7 348.8L667.3 359.8M667.3 359.8L660.2 372.5M654.5 391.0L650.8 381.1M654.5 391.0L674.8 390.3M650.8 381.1L660.1 373.5M660.1 373.5L674.8 390.3M710.7 378.7L685.1 373.0M710.7 378.7L706.2 358.1M706.2 358.1L696.3 346.5M685.1 373.0L679.1 356.3M691.4 345.7L696.3 346.5M691.4 345.7L680.0 354.8M680.0 354.8L679.1 356.3M704.7 404.2L711.8 379.9M711.8 379.9L710.7 378.7M677.7 397.6L690.4 407.2M677.7 397.6L675.1 390.5M701.1 407.1L690.4 407.2M675.1 390.5L685.1 373.0M667.3 359.8L679.1 356.3M660.2 372.5L660.1 373.5M675.1 390.5L674.8 390.3M687.0 331.0L691.4 345.7M711.3 313.1L711.2 312.5M711.3 313.1L707.2 339.5M707.2 339.5L696.3 346.5M663.9 336.3L680.0 354.8M883.5 719.2L892.8 703.9M883.5 719.2L870.2 719.5M868.2 710.2L868.8 717.8M868.2 710.2L884.7 692.6M884.7 692.6L892.8 703.9M868.8 717.8L870.2 719.5M852.0 719.6L868.8 717.8M854.3 692.9L868.2 710.2M884.9 684.9L884.7 692.6M912.8 702.5L911.8 708.2M911.8 708.2L892.8 703.9M870.1 720.4L856.4 741.5M870.1 720.4L870.2 719.5M856.4 741.5L845.4 743.2M841.2 740.1L845.4 743.2M934.9 716.7L938.6 701.9M934.9 716.7L914.4 722.8M938.6 701.9L912.9 711.0M914.4 722.8L912.9 711.0M955.3 725.6L934.9 716.7M943.4 696.1L938.6 701.9M923.1 735.7L920.5 734.1M920.5 734.1L913.9 724.4M913.9 724.4L914.4 722.8M911.8 708.2L912.9 711.0M900.3 729.6L883.5 719.2M900.3 729.6L913.9 724.4M871.8 848.9L878.2 840.6M878.2 840.6L890.4 848.4M910.3 864.3L901.8 846.7M890.4 848.4L901.8 846.7M915.5 840.4L910.7 837.5M901.8 846.7L910.7 837.5M879.5 743.8L877.1 750.2M879.5 743.8L897.9 733.7M877.1 750.2L894.2 754.8M894.2 754.8L899.3 746.2M897.9 733.7L899.3 746.2M870.1 720.4L879.5 743.8M856.4 741.5L874.8 752.3M874.8 752.3L877.1 750.2M900.3 729.6L897.9 733.7M920.5 734.1L910.3 752.2M910.3 752.2L899.3 746.2M845.4 743.2L847.3 758.1M822.1 775.8L832.8 774.4M847.3 758.1L832.8 774.4M874.8 752.3L870.5 769.7M847.3 758.1L870.5 769.7M860.0 634.4L861.9 630.1M847.4 614.8L847.9 614.7M847.4 614.8L837.8 629.8M847.9 614.7L860.7 626.5M861.9 630.1L860.7 626.5M884.2 631.3L870.7 626.9M861.9 630.1L870.7 626.9M780.4 629.4L780.0 633.5M780.4 629.4L765.3 617.0M780.0 633.5L756.4 634.5M756.4 634.5L753.6 621.2M765.3 617.0L755.1 619.2M755.1 619.2L753.6 621.2M770.1 608.2L765.3 617.0M782.8 608.5L785.8 620.7M785.8 620.7L780.4 629.4M783.9 642.1L780.0 633.5M754.2 638.3L756.4 634.5M742.0 640.2L725.2 631.2M731.2 618.4L753.6 621.2M762.6 596.5L754.9 595.0M754.9 595.0L753.1 595.6M753.1 595.6L755.1 619.2M729.5 607.9L748.2 594.7M748.2 594.7L753.1 595.6M847.4 614.8L833.0 605.6M829.8 629.1L824.2 618.5M824.2 618.5L833.0 605.6M847.9 614.7L857.7 603.0M839.8 592.9L857.7 603.0M839.8 592.9L832.8 599.9M833.0 605.6L832.8 599.9M805.8 635.5L816.5 616.2M805.8 635.5L798.4 619.5M798.4 619.5L808.1 609.4M816.5 616.2L808.1 609.4M805.9 635.9L805.8 635.5M824.2 618.5L816.5 616.2M785.8 620.7L798.4 619.5M791.7 594.7L803.4 596.0M791.7 594.7L788.7 596.4M803.4 596.0L806.0 597.5M806.0 597.5L808.1 609.4M832.8 599.9L815.3 593.7M815.3 593.7L806.0 597.5M604.1 652.7L616.2 675.1M604.1 652.7L588.0 667.0M598.3 680.5L592.3 676.1M598.3 680.5L611.8 680.0M611.8 680.0L616.2 675.1M588.0 667.0L592.3 676.1M603.5 642.3L604.1 652.7M603.5 642.3L625.5 643.4M625.5 643.4L627.1 670.0M627.1 670.0L616.2 675.1M599.3 638.6L603.5 642.3M575.2 654.3L588.0 667.0M585.7 703.5L598.3 680.5M567.3 684.5L592.3 676.1M569.0 446.8L573.0 451.4M573.0 451.4L572.0 467.6M569.1 434.5L569.0 446.8M604.7 444.2L573.0 451.4M604.7 444.2L600.6 423.6M600.6 423.6L583.7 422.5M568.4 492.6L572.7 485.8M572.7 485.8L573.2 469.6M573.2 469.6L572.0 467.6M604.7 444.2L609.3 450.4M573.2 469.6L594.2 466.7M609.3 450.4L594.2 466.7M572.7 485.8L596.1 485.1M594.2 466.7L596.1 485.1M606.0 495.1L599.2 504.3M606.0 495.1L605.1 491.4M595.4 506.9L599.2 504.3M605.1 491.4L596.1 485.1M595.3 600.1L607.5 582.2M570.9 582.6L572.7 578.1M607.5 582.2L572.7 578.1M569.3 565.5L572.4 568.8M572.4 568.8L572.7 578.1M607.5 582.2L609.0 581.1M600.2 555.2L572.4 568.8M600.2 555.2L609.8 577.2M609.8 577.2L609.0 581.1M606.0 495.1L620.7 500.7M620.7 500.7L626.6 514.3M619.5 527.9L599.2 504.3M619.5 527.9L626.4 520.3M626.6 514.3L626.4 520.3M619.3 528.4L600.0 541.2M619.3 528.4L635.7 546.4M631.7 554.3L635.7 546.4M631.7 554.3L601.2 548.8M601.2 548.8L600.0 541.2M619.5 527.9L619.3 528.4M593.4 536.3L600.0 541.2M600.2 555.2L601.2 548.8M609.8 577.2L633.7 567.5M633.7 567.5L631.7 554.3M605.3 710.1L611.2 706.9M605.3 710.1L603.0 728.5M611.2 706.9L622.4 716.9M622.4 716.9L614.4 731.5M603.0 728.5L614.4 731.5M585.8 704.8L605.3 710.1M615.9 693.8L611.2 706.9M615.9 693.8L611.8 680.0M596.5 731.9L603.0 728.5M633.8 700.5L615.9 693.8M624.2 716.9L622.4 716.9M625.5 745.9L614.4 731.5M583.3 855.6L585.7 853.3M584.2 828.7L587.3 829.3M585.7 853.3L587.3 829.3M595.4 810.0L595.8 825.1M587.3 829.3L595.8 825.1M624.8 818.2L601.5 827.6M595.8 825.1L601.5 827.6M632.7 851.7L652.2 837.7M652.2 837.7L667.6 858.0M661.4 825.4L680.8 830.2M661.4 825.4L652.3 829.8M676.4 853.1L667.6 858.0M651.1 831.9L652.2 837.7M686.3 806.1L680.2 817.2M686.3 806.1L673.8 797.5M680.2 817.2L667.9 813.5M673.8 797.5L665.0 804.3M667.9 813.5L665.0 804.3M682.3 825.6L680.2 817.2M688.2 805.7L686.3 806.1M673.9 795.5L673.8 797.5M661.4 825.4L667.9 813.5M652.6 802.1L665.0 804.3M720.5 635.9L689.5 635.2M720.5 635.9L719.4 652.2M719.4 652.2L691.4 660.4M691.4 660.4L685.9 647.5M689.5 635.2L685.9 647.5M651.8 726.1L663.3 716.0M643.5 709.4L662.0 711.0M662.0 711.0L663.3 716.0M668.6 734.5L666.4 738.0M668.6 734.5L666.1 718.4M666.1 718.4L663.3 716.0M743.4 819.7L758.5 822.8M743.4 819.7L735.7 832.5M735.7 832.5L754.5 841.8M758.5 822.8L763.1 827.9M763.1 827.9L762.6 835.1M762.6 835.1L761.1 839.0M761.1 839.0L754.5 841.8M736.0 804.3L743.4 819.7M762.2 793.8L758.5 822.8M734.6 832.9L735.7 832.5M745.9 854.3L754.5 841.8M780.6 819.3L763.1 827.9M786.9 838.6L762.6 835.1M767.6 848.6L761.1 839.0M612.3 357.4L620.7 362.4M612.3 357.4L611.6 352.9M640.0 362.5L639.7 362.8M639.7 362.8L620.7 362.4M650.8 381.1L637.1 380.2M639.7 362.8L637.1 380.2M604.3 372.9L612.3 357.4M604.3 372.9L626.8 382.4M620.7 362.4L626.8 382.4M584.0 370.5L566.6 382.1M584.0 370.5L586.4 372.6M586.4 372.6L575.6 395.6M566.6 382.1L575.6 395.6M582.1 365.7L584.0 370.5M558.2 380.3L566.6 382.1M604.3 372.9L601.8 374.9M601.8 374.9L591.9 375.2M591.9 375.2L586.4 372.6M591.9 375.2L589.9 397.1M589.9 397.1L575.7 396.3M575.7 396.3L575.6 395.6M575.7 396.3L569.9 404.0M920.0 420.2L936.3 411.4M920.0 420.2L916.1 393.0M916.1 393.0L941.0 396.2M936.3 411.4L941.0 396.2M948.5 419.8L936.3 411.4M946.4 439.4L915.9 430.0M916.6 424.4L915.9 430.0M916.6 424.4L920.0 420.2M893.3 398.2L911.8 388.0M893.3 398.2L891.7 402.9M911.8 388.0L916.1 393.0M916.6 424.4L891.7 402.9M870.1 361.2L870.0 347.0M870.1 361.2L850.0 361.0M868.6 344.4L870.0 347.0M868.6 344.4L850.0 342.4M850.0 342.4L845.3 345.9M845.3 345.9L844.9 356.8M844.9 356.8L850.0 361.0M878.1 373.8L873.1 378.4M878.1 373.8L876.0 366.3M876.0 366.3L870.1 361.2M873.1 378.4L850.9 379.5M850.9 379.5L850.0 361.0M883.4 327.6L887.7 342.9M871.4 329.8L868.6 344.4M887.7 342.9L870.0 347.0M856.1 328.3L850.0 342.4M838.3 340.0L845.3 345.9M820.7 359.8L827.9 363.9M829.1 364.0L827.9 363.9M829.1 364.0L844.9 356.8M893.3 398.2L882.4 376.0M882.4 376.0L899.2 371.4M911.8 388.0L913.1 381.7M899.2 371.4L913.1 381.7M804.1 389.2L783.3 395.6M804.1 389.2L809.7 403.8M809.7 403.8L796.7 409.6M796.7 409.6L790.0 408.6M790.0 408.6L782.8 402.9M783.3 395.6L782.8 402.9M818.9 383.6L821.9 386.7M818.9 383.6L807.2 382.4M807.2 382.4L804.1 389.2M821.9 386.7L813.9 405.2M813.9 405.2L809.7 403.8M772.1 409.8L782.8 402.9M772.1 409.8L769.0 427.7M788.0 433.6L782.9 435.7M788.0 433.6L790.0 408.6M782.9 435.7L776.2 435.1M769.0 427.7L776.2 435.1M790.6 349.7L787.5 363.6M765.7 336.5L765.7 338.0M769.4 353.4L778.3 363.8M778.3 363.8L787.5 363.6M626.4 520.3L646.3 525.2M646.3 525.2L647.3 528.8M635.7 546.4L641.8 544.5M647.3 528.8L641.8 544.5M739.4 459.0L723.6 467.1M739.4 459.0L741.6 483.5M741.6 483.5L730.7 485.8M723.6 467.1L730.7 485.8M773.1 591.5L772.9 576.8M754.9 595.0L762.0 575.0M772.9 576.8L768.4 573.9M762.0 575.0L768.4 573.9M727.6 350.6L725.0 340.7M727.6 350.6L728.0 351.2M728.0 351.2L744.6 348.2M725.0 340.7L727.6 335.6M750.9 340.1L744.6 348.2M750.9 340.1L731.6 333.4M727.6 335.6L731.6 333.4M707.2 339.5L725.0 340.7M706.2 358.1L727.6 350.6M711.3 313.1L727.6 335.6M764.9 334.7L750.9 340.1M754.2 358.4L747.0 359.8M747.0 359.8L744.6 348.2M737.6 320.1L731.6 333.4M719.1 378.3L728.9 355.5M719.1 378.3L738.2 382.7M728.9 355.5L743.3 365.4M738.2 382.7L744.0 373.2M743.3 365.4L744.0 373.2M711.8 379.9L719.1 378.3M728.0 351.2L728.9 355.5M740.0 385.9L738.2 382.7M747.0 359.8L743.3 365.4M788.0 433.6L807.4 435.0M796.7 409.6L809.8 434.0M807.4 435.0L809.8 434.0M823.4 429.7L823.9 414.1M823.4 429.7L809.9 434.0M823.9 414.1L813.9 405.2M809.8 434.0L809.9 434.0M744.8 448.5L763.6 428.1M744.8 448.5L743.5 448.3M743.3 448.2L743.5 448.3M743.3 448.2L742.4 417.4M742.4 417.4L763.6 428.1M761.8 453.6L749.9 451.3M761.8 453.6L766.1 453.0M766.1 453.0L776.2 435.1M749.9 451.3L744.8 448.5M769.0 427.7L763.6 428.1M739.4 459.0L743.5 448.3M754.0 486.0L741.6 483.5M754.0 486.0L749.9 451.3M724.2 444.1L743.3 448.2M724.2 444.1L715.5 460.3M715.5 460.3L723.6 467.1M724.2 444.1L722.2 441.0M741.8 416.4L742.4 417.4M758.8 404.4L772.1 409.8M891.7 402.9L883.6 407.6M910.7 437.9L915.9 430.0M910.7 437.9L889.4 426.1M889.4 426.1L883.6 407.6M878.1 373.8L882.4 376.0M873.1 378.4L868.0 392.0M868.0 392.0L870.8 405.5M870.8 405.5L879.8 408.1M879.8 408.1L883.6 407.6M812.3 483.0L825.9 503.8M812.3 483.0L797.2 500.1M797.2 500.1L798.4 514.4M798.4 514.4L809.6 514.1M825.9 503.8L809.6 514.1M823.4 429.7L833.3 436.3M809.9 434.0L815.4 460.1M834.5 445.4L833.3 436.3M834.5 445.4L832.6 456.4M832.6 456.4L815.4 460.1M620.7 500.7L627.2 494.9M639.3 493.3L637.1 492.1M639.3 493.3L644.4 503.5M626.6 514.3L644.4 503.5M627.2 494.9L637.1 492.1M600.6 423.6L601.8 421.7M589.9 397.1L597.3 403.3M597.3 403.3L601.8 421.7M601.8 374.9L607.0 390.2M597.3 403.3L607.0 390.2M959.1 469.9L964.4 495.0M959.1 469.9L958.5 469.5M958.5 469.5L939.7 482.5M939.7 482.5L940.6 508.8M964.4 495.0L961.5 501.8M961.5 501.8L956.7 506.8M956.7 506.8L951.7 509.8M951.7 509.8L942.6 510.3M942.6 510.3L940.6 508.8M954.1 449.5L952.5 456.5M952.5 456.5L958.5 469.5M987.6 530.5L956.7 506.8M964.5 538.4L951.7 509.8M954.6 551.0L933.0 535.3M933.0 535.3L942.6 510.3M922.1 619.8L925.0 611.0M901.9 624.8L906.5 604.3M906.5 604.3L911.3 600.2M925.0 611.0L911.3 600.2M839.8 592.9L841.2 575.8M815.3 593.7L823.6 576.7M841.2 575.8L823.6 576.7M803.4 596.0L805.3 565.6M805.3 565.6L812.3 566.1M823.6 576.7L812.3 566.1M834.6 538.4L827.2 531.1M834.6 538.4L827.8 553.6M812.7 540.2L824.0 554.2M812.7 540.2L824.7 531.0M824.7 531.0L827.2 531.1M827.8 553.6L824.0 554.2M601.8 421.7L617.7 414.8M617.7 414.8L619.8 412.8M607.0 390.2L621.2 392.7M619.8 412.8L621.2 392.7M626.8 382.4L629.2 384.9M621.2 392.7L629.2 384.9M637.1 380.2L632.3 384.7M629.2 384.9L632.3 384.7M906.5 815.7L877.4 825.1M906.5 815.7L911.5 824.1M911.5 824.1L909.4 831.0M909.4 831.0L877.1 829.2M877.4 825.1L877.0 829.0M877.0 829.0L877.1 829.2M935.0 817.4L911.5 824.1M910.7 837.5L909.4 831.0M878.2 840.6L877.1 829.2M857.0 830.3L877.0 829.0M931.3 758.4L913.4 765.4M910.3 752.2L910.9 763.2M913.4 765.4L910.9 763.2M894.2 754.8L898.4 762.1M910.9 763.2L898.4 762.1M875.3 810.3L883.8 802.3M875.3 810.3L855.9 800.9M883.8 802.3L882.1 776.8M855.9 800.9L855.8 786.3M855.8 786.3L870.7 770.6M882.1 776.8L870.7 770.6M845.1 807.9L855.9 800.9M877.4 825.1L875.3 810.3M832.8 774.4L855.8 786.3M870.5 769.7L870.7 770.6M898.4 762.1L885.3 776.1M885.3 776.1L882.1 776.8M860.7 626.5L865.4 609.1M870.7 626.9L875.1 612.3M875.1 612.3L865.4 609.1M890.8 623.0L884.7 610.2M875.1 612.3L884.7 610.2M906.5 604.3L885.9 607.0M884.7 610.2L885.9 607.0M857.7 603.0L859.3 602.6M859.3 602.6L865.4 609.1M699.0 602.7L686.0 622.2M699.0 602.7L687.8 586.1M687.8 586.1L681.7 591.6M681.7 591.6L681.3 616.8M681.3 616.8L683.0 620.8M683.0 620.8L685.6 622.5M686.0 622.2L685.6 622.5M705.6 617.0L686.0 622.2M711.2 604.3L699.0 602.7M723.0 632.6L720.5 635.9M689.5 635.2L685.6 622.5M622.2 599.4L646.0 603.1M622.2 599.4L614.5 586.3M614.5 586.3L646.7 586.5M646.0 603.1L649.8 599.7M649.8 599.7L650.2 599.1M650.2 599.1L652.1 593.1M652.1 593.1L646.7 586.5M605.1 618.2L614.2 616.7M614.2 616.7L622.2 599.4M609.0 581.1L614.5 586.3M633.7 567.5L639.3 570.2M639.3 570.2L646.7 586.5M665.7 626.2L683.0 620.8M665.7 626.2L649.8 599.7M681.3 616.8L650.2 599.1M653.3 592.4L652.1 593.1M653.3 592.4L681.7 591.6M612.7 861.6L602.9 852.3M612.7 861.6L625.7 849.4M602.9 852.3L605.9 836.8M605.9 836.8L623.9 841.9M625.7 849.4L623.9 841.9M585.7 853.3L602.9 852.3M632.7 851.7L625.7 849.4M601.5 827.6L605.9 836.8M630.3 826.9L623.9 841.9M690.0 669.6L691.4 660.4M690.0 669.6L692.0 672.2M692.0 672.2L710.6 676.0M719.4 652.2L724.0 658.4M710.6 676.0L724.0 658.4M739.3 665.9L737.6 666.1M737.6 666.1L724.0 658.4M678.0 718.7L682.8 709.7M678.0 718.7L685.4 729.5M682.8 709.7L693.2 715.8M693.2 715.8L691.4 728.3M685.4 729.5L689.7 731.1M689.7 731.1L691.4 728.3M681.3 700.9L682.8 709.7M681.3 700.9L667.3 697.1M667.3 697.1L662.0 711.0M666.1 718.4L678.0 718.7M668.6 734.5L685.4 729.5M691.5 735.4L689.7 731.1M639.4 700.0L641.9 696.0M667.3 697.1L664.3 691.5M664.3 691.5L641.9 696.0M690.0 669.6L679.1 673.1M692.0 672.2L692.5 677.4M681.3 700.9L689.4 696.7M679.1 673.1L664.4 690.6M689.4 696.7L692.5 677.4M664.3 691.5L664.4 690.6M941.0 396.2L947.4 388.6M925.0 371.4L913.1 381.7M925.0 371.4L939.3 375.9M939.3 375.9L947.4 388.6M959.7 417.1L961.1 389.9M947.4 388.6L961.1 389.9M975.6 403.4L965.3 388.5M961.1 389.9L965.3 388.5M902.1 310.3L910.1 313.5M895.4 321.2L906.7 342.0M906.7 342.0L920.4 328.8M920.4 328.8L910.1 313.5M934.0 274.6L932.7 293.9M932.7 293.9L924.0 308.0M910.1 313.5L924.0 308.0M901.6 362.2L912.6 353.5M901.6 362.2L888.7 353.9M912.6 353.5L906.5 342.8M906.5 342.8L890.5 345.9M890.5 345.9L888.7 353.9M920.7 357.0L912.6 353.5M920.7 357.0L925.0 371.4M899.2 371.4L901.6 362.2M876.0 366.3L888.7 353.9M887.7 342.9L890.5 345.9M906.7 342.0L906.5 342.8M765.2 385.3L760.1 371.5M765.2 385.3L775.1 386.2M775.1 386.2L774.5 368.3M774.5 368.3L761.0 370.1M761.0 370.1L760.1 371.5M756.3 391.6L765.2 385.3M744.0 373.2L760.1 371.5M783.3 395.6L780.5 389.5M780.5 389.5L775.1 386.2M760.7 365.2L761.0 370.1M778.3 363.8L774.5 368.3M787.8 364.0L780.9 388.9M787.8 364.0L802.1 371.3M780.9 388.9L802.2 372.6M802.1 371.3L802.2 372.6M780.5 389.5L780.9 388.9M787.5 363.6L787.8 364.0M811.6 361.0L802.1 371.3M807.2 382.4L802.2 372.6M818.9 383.6L827.9 363.9M677.5 568.3L672.6 546.2M677.5 568.3L665.4 570.4M665.4 570.4L655.0 559.1M672.6 546.2L668.6 542.7M668.6 542.7L655.9 552.5M655.0 559.1L655.9 552.5M653.3 592.4L665.4 570.4M688.0 585.8L679.0 569.1M688.0 585.8L687.8 586.1M679.0 569.1L677.5 568.3M639.3 570.2L655.0 559.1M647.3 528.8L668.6 541.7M641.8 544.5L655.9 552.5M668.6 541.7L668.6 542.7M719.0 599.8L715.8 581.6M688.0 585.8L707.0 579.1M715.8 581.6L707.0 579.1M679.0 569.1L698.9 553.6M707.0 579.1L698.9 553.6M650.4 520.6L653.3 507.0M650.4 520.6L672.9 524.9M672.9 524.9L661.6 502.0M653.3 507.0L661.6 502.0M646.3 525.2L650.4 520.6M644.4 503.5L653.3 507.0M668.6 541.7L675.0 526.7M675.0 526.7L672.9 524.9M741.5 523.2L749.0 511.0M741.5 523.2L728.8 516.4M749.0 511.0L733.0 504.6M728.8 516.4L733.0 504.6M698.4 440.8L697.2 441.9M715.5 460.3L705.6 463.4M705.6 463.4L697.2 441.9M690.4 407.2L684.8 415.4M684.3 442.3L684.8 415.4M684.3 442.3L684.6 442.6M697.2 441.9L684.6 442.6M782.9 435.7L788.1 455.5M807.4 435.0L799.6 455.7M788.1 455.5L799.6 455.7M766.1 453.0L778.1 464.5M778.1 464.5L780.2 464.5M788.1 455.5L780.2 464.5M762.0 575.0L756.7 571.3M768.4 573.9L772.6 555.7M756.7 571.3L753.5 554.0M772.6 555.7L769.9 551.0M769.9 551.0L761.8 550.2M753.5 554.0L761.8 550.2M778.1 464.5L759.7 486.4M784.2 489.1L770.0 491.6M784.2 489.1L790.5 475.4M780.2 464.5L790.5 475.4M770.0 491.6L759.7 486.4M761.8 453.6L758.2 486.3M759.7 486.4L758.2 486.3M754.0 486.0L755.8 486.8M758.2 486.3L755.8 486.8M609.3 450.4L612.9 452.2M605.1 491.4L621.2 465.0M612.9 452.2L621.2 465.0M627.2 494.9L623.0 465.9M637.1 492.1L637.0 468.9M637.0 468.9L623.0 465.9M621.2 465.0L623.0 465.9M617.7 414.8L634.6 432.8M612.9 452.2L630.3 441.5M634.6 432.8L630.3 441.5M829.1 364.0L838.9 384.6M850.9 379.5L850.5 380.1M838.9 384.6L850.5 380.1M868.0 392.0L855.2 390.1M850.5 380.1L855.2 390.1M870.6 547.6L891.1 557.8M870.6 547.6L883.2 529.0M905.7 543.8L899.4 555.9M905.7 543.8L905.1 542.6M883.2 529.0L888.0 527.4M891.1 557.8L899.4 555.9M905.1 542.6L888.0 527.4M836.8 513.7L833.5 504.8M836.8 513.7L855.0 524.0M859.5 501.8L862.0 515.9M859.5 501.8L836.0 502.0M836.0 502.0L833.5 504.8M862.0 515.9L855.0 524.0M825.9 503.8L833.5 504.8M809.6 514.1L824.7 531.0M827.2 531.1L836.8 513.7M834.6 538.4L855.3 539.6M855.3 539.6L855.0 524.0M883.2 529.0L870.9 516.0M870.9 516.0L885.2 502.1M888.0 527.4L891.6 521.4M885.2 502.1L891.6 521.4M870.9 516.0L862.0 515.9M860.7 499.4L886.2 498.1M860.7 499.4L859.5 501.8M885.2 502.1L886.2 498.1M905.1 542.6L907.2 517.4M891.6 521.4L907.2 517.4M846.1 426.7L860.7 423.4M846.1 426.7L838.3 434.5M860.7 423.4L862.4 425.4M838.3 434.5L859.9 441.0M859.9 441.0L862.4 425.4M860.7 423.4L863.3 408.7M870.8 405.5L863.3 408.7M879.8 408.1L874.0 428.6M862.4 425.4L874.0 428.6M889.4 426.1L876.6 433.3M876.6 433.3L874.0 428.6M859.9 441.0L867.1 448.3M876.6 433.3L876.5 444.4M867.1 448.3L876.5 444.4M910.6 438.3L910.7 437.9M910.6 438.3L888.1 448.8M876.5 444.4L888.1 448.8M675.0 526.7L676.8 525.9M676.8 525.9L683.0 506.6M661.6 502.0L663.2 499.6M663.2 499.6L683.0 506.6M639.3 493.3L660.5 483.0M660.5 483.0L664.3 484.4M663.2 499.6L664.3 484.4M936.6 459.3L924.8 472.1M936.6 459.3L910.9 439.2M924.8 472.1L911.2 461.7M910.9 439.2L911.2 461.7M952.5 456.5L936.6 459.3M924.9 476.5L924.8 472.1M924.9 476.5L939.7 482.5M910.6 438.3L910.9 439.2M897.2 473.8L911.2 461.7M897.2 473.8L888.3 462.7M888.1 448.8L888.3 462.7M947.6 617.0L929.9 609.3M947.6 617.0L956.8 597.5M929.9 609.3L938.3 589.7M956.8 597.5L938.3 589.7M951.0 625.4L947.6 617.0M925.0 611.0L929.9 609.3M959.6 596.6L956.8 597.5M905.4 587.0L908.1 564.7M905.4 587.0L910.3 591.3M910.3 591.3L933.6 580.0M908.1 564.7L927.9 566.6M927.9 566.6L934.9 572.4M933.6 580.0L934.9 573.0M934.9 572.4L934.9 573.0M897.5 586.7L905.4 587.0M897.5 586.7L885.7 574.5M885.7 574.5L891.1 557.8M899.4 555.9L908.1 564.7M897.5 586.7L884.7 598.4M911.3 600.2L910.3 591.3M884.7 598.4L885.9 607.0M938.3 589.7L933.6 580.0M925.6 539.1L905.7 543.8M925.6 539.1L927.9 566.6M933.0 535.3L926.7 538.0M926.7 538.0L925.6 539.1M951.8 558.1L934.9 572.4M961.6 582.2L934.9 573.0M844.6 566.6L843.3 573.8M844.6 566.6L861.2 548.0M843.3 573.8L868.4 586.5M863.7 548.5L872.1 581.2M863.7 548.5L861.2 548.0M872.1 581.2L868.7 586.4M868.7 586.4L868.4 586.5M841.2 575.8L843.3 573.8M812.3 566.1L824.0 554.2M827.8 553.6L844.6 566.6M855.3 539.6L861.2 548.0M859.3 602.6L868.4 586.5M870.6 547.6L863.7 548.5M885.7 574.5L872.1 581.2M884.7 598.4L868.7 586.4M772.9 576.8L784.5 575.3M772.6 555.7L779.2 558.8M779.2 558.8L784.5 575.3M791.7 594.7L786.7 576.0M786.7 576.0L784.5 575.3M907.7 784.7L913.4 782.6M907.7 784.7L898.0 802.0M915.3 804.6L905.6 810.0M915.3 804.6L917.9 785.1M917.9 785.1L913.4 782.6M905.6 810.0L898.0 802.0M913.4 765.4L913.4 782.6M885.3 776.1L907.7 784.7M883.8 802.3L898.0 802.0M934.5 810.5L915.3 804.6M906.5 815.7L905.6 810.0M928.3 787.0L917.9 785.1M660.9 630.7L660.9 630.7M660.9 630.7L639.7 621.2M660.9 630.7L653.3 643.6M632.5 636.3L645.0 644.4M632.5 636.3L633.4 627.1M645.0 644.4L653.3 643.6M633.4 627.1L639.7 621.2M665.7 626.2L660.9 630.7M685.9 647.5L673.6 647.8M673.6 647.8L660.9 630.7M646.0 603.1L639.7 621.2M673.6 647.8L663.0 653.0M663.0 653.0L653.3 643.6M625.5 643.4L632.5 636.3M614.2 616.7L633.4 627.1M723.0 742.1L724.3 735.2M691.4 728.3L710.1 719.6M710.1 719.6L724.3 735.2M756.4 731.9L733.3 723.9M724.3 735.2L733.3 723.9M633.9 671.3L644.9 662.8M633.9 671.3L636.9 675.0M636.9 675.0L656.9 680.4M644.9 662.8L659.8 662.5M656.9 680.4L660.0 662.8M659.8 662.5L660.0 662.8M627.1 670.0L633.9 671.3M645.0 644.4L644.9 662.8M641.9 696.0L636.9 675.0M664.4 690.6L656.9 680.4M663.0 653.0L659.8 662.5M679.1 673.1L660.0 662.8M965.3 388.5L966.3 387.6M928.6 332.1L949.2 317.2M928.6 332.1L925.2 329.8M925.2 329.8L931.2 315.6M931.2 315.6L943.5 313.8M949.2 317.2L943.5 313.8M935.1 343.9L928.6 332.1M935.1 343.9L920.7 357.0M920.4 328.8L925.2 329.8M924.0 308.0L931.2 315.6M932.7 293.9L943.5 313.8M748.2 594.7L738.9 578.3M715.8 581.6L718.5 579.6M718.5 579.6L738.9 578.3M756.7 571.3L739.6 577.2M738.9 578.3L739.6 577.2M753.5 554.0L740.4 552.3M739.6 577.2L740.4 552.3M682.2 526.7L702.9 510.0M682.2 526.7L692.5 533.0M702.9 510.0L703.6 524.7M692.5 533.0L703.6 524.7M676.8 525.9L682.2 526.7M672.6 546.2L696.8 548.7M692.5 533.0L696.8 548.7M703.0 509.4L712.2 508.1M703.0 509.4L694.1 500.7M694.1 500.7L694.1 500.6M694.1 500.6L704.5 486.8M712.2 508.1L726.4 490.2M704.5 486.8L718.7 486.2M718.7 486.2L726.6 489.1M726.6 489.1L726.4 490.2M702.9 510.0L703.0 509.4M683.0 506.6L694.1 500.7M728.8 516.4L722.0 517.4M722.0 517.4L712.2 508.1M733.0 504.6L726.4 490.2M730.7 485.8L726.6 489.1M705.6 463.4L705.0 464.1M705.0 464.1L718.7 486.2M749.0 511.0L750.8 509.7M750.8 509.7L755.8 486.8M684.6 442.6L683.4 453.8M705.0 464.1L699.1 467.9M683.4 453.8L699.1 467.9M704.5 486.8L697.1 470.8M699.1 467.9L697.1 470.8M812.6 462.5L812.2 481.1M812.6 462.5L800.8 457.5M800.8 457.5L796.0 474.7M812.2 481.1L796.0 474.7M832.6 456.4L839.6 473.7M839.6 473.7L812.5 481.4M815.4 460.1L812.6 462.5M812.5 481.4L812.2 481.1M799.6 455.7L800.8 457.5M790.5 475.4L796.0 474.7M784.2 489.1L797.2 500.1M812.3 483.0L812.5 481.4M759.4 514.9L773.9 505.6M759.4 514.9L765.6 525.0M765.6 525.0L766.8 525.2M766.8 525.2L786.3 519.8M786.3 519.8L773.9 505.6M750.8 509.7L759.4 514.9M770.0 491.6L773.9 505.6M741.5 523.2L742.1 529.7M742.1 529.7L757.3 532.0M757.3 532.0L765.6 525.0M769.9 551.0L773.6 546.3M757.3 532.0L761.8 550.2M773.6 546.3L766.8 525.2M798.4 514.4L792.0 521.3M792.0 521.3L786.3 519.8M657.5 428.4L648.9 424.2M657.5 428.4L665.5 404.6M648.9 424.2L641.6 410.4M665.5 404.6L647.5 401.6M641.6 410.4L644.3 403.1M647.5 401.6L644.3 403.1M677.7 397.6L665.5 404.6M684.8 415.4L658.8 429.8M658.8 429.8L657.5 428.4M619.8 412.8L641.6 410.4M634.6 432.8L648.9 424.2M654.5 391.0L647.5 401.6M632.3 384.7L644.3 403.1M684.3 442.3L666.3 439.5M658.8 429.8L660.1 434.3M666.3 439.5L660.1 434.3M834.8 391.0L833.0 405.6M834.8 391.0L835.0 390.8M835.0 390.8L852.0 397.7M833.0 405.6L848.3 409.1M848.3 409.1L854.2 406.3M854.2 406.3L852.0 397.7M821.9 386.7L834.8 391.0M823.9 414.1L833.0 405.6M838.9 384.6L835.0 390.8M855.2 390.1L852.0 397.7M846.1 426.7L848.3 409.1M838.3 434.5L833.3 436.3M863.3 408.7L854.2 406.3M924.9 476.5L922.7 479.5M897.2 473.8L896.9 484.2M896.9 484.2L922.7 479.5M858.9 455.2L864.4 453.5M858.9 455.2L840.2 474.1M864.4 453.5L870.0 470.6M858.8 481.8L868.1 477.4M858.8 481.8L842.5 477.2M868.1 477.4L870.0 470.6M842.5 477.2L840.2 474.1M834.5 445.4L858.9 455.2M867.1 448.3L864.4 453.5M839.6 473.7L840.2 474.1M888.3 462.7L870.0 470.6M860.7 499.4L858.8 481.8M890.8 491.7L886.2 498.1M890.8 491.7L868.1 477.4M836.0 502.0L842.5 477.2M890.8 491.7L893.6 490.7M896.9 484.2L893.6 490.7M791.1 557.9L801.7 564.7M791.1 557.9L788.4 537.3M805.2 540.5L803.5 564.6M805.2 540.5L793.3 531.0M803.5 564.6L801.7 564.7M793.3 531.0L788.4 537.3M779.2 558.8L791.1 557.9M786.7 576.0L801.7 564.7M773.6 546.3L788.4 537.3M805.3 565.6L803.5 564.6M812.7 540.2L805.2 540.5M792.0 521.3L793.3 531.0M935.1 343.9L946.5 345.9M939.3 375.9L951.0 354.7M946.5 345.9L951.0 354.7M966.3 387.6L964.5 359.1M951.0 354.7L964.5 359.1M971.8 344.5L966.6 358.0M964.5 359.1L966.6 358.0M742.1 529.7L734.7 541.4M740.4 552.3L738.6 551.0M734.7 541.4L738.6 551.0M718.5 579.6L722.4 562.5M738.6 551.0L722.4 562.5M682.7 484.6L665.9 483.4M682.7 484.6L692.0 473.3M692.0 473.3L675.4 462.7M665.9 483.4L671.0 464.2M671.0 464.2L675.4 462.7M664.3 484.4L665.9 483.4M694.1 500.6L682.7 484.6M697.1 470.8L692.0 473.3M683.4 453.8L675.4 462.7M666.3 439.5L665.9 458.7M665.9 458.7L671.0 464.2M653.3 459.6L653.4 442.3M653.3 459.6L642.6 468.2M642.6 468.2L641.8 468.1M641.8 468.1L643.4 446.6M643.4 446.6L653.4 442.3M660.1 434.3L653.4 442.3M665.9 458.7L653.3 459.6M660.5 483.0L642.6 468.2M637.0 468.9L641.8 468.1M630.3 441.5L643.4 446.6M936.6 507.6L910.2 516.0M936.6 507.6L923.5 495.8M923.5 495.8L903.5 498.6M903.5 498.6L909.1 515.8M910.2 516.0L909.1 515.8M926.7 538.0L910.2 516.0M940.6 508.8L936.6 507.6M922.7 479.5L923.5 495.8M893.6 490.7L903.5 498.6M907.2 517.4L909.1 515.8M698.3 701.3L705.0 699.3M698.3 701.3L698.5 711.7M705.0 699.3L713.8 707.2M698.5 711.7L709.6 717.8M709.6 717.8L713.8 707.2M689.4 696.7L698.3 701.3M692.5 677.4L708.3 693.3M708.3 693.3L705.0 699.3M693.2 715.8L698.5 711.7M710.1 719.6L709.6 717.8M718.8 685.5L726.2 684.1M718.8 685.5L717.2 688.3M717.2 688.3L721.4 704.7M726.2 684.1L743.5 704.0M721.4 704.7L737.2 710.1M743.5 704.0L737.2 710.1M710.6 676.0L718.8 685.5M737.6 666.1L726.2 684.1M708.3 693.3L717.2 688.3M713.8 707.2L721.4 704.7M753.4 700.8L743.5 704.0M733.3 723.9L737.2 710.1M951.7 338.2L969.4 337.8M951.7 338.2L952.4 317.7M955.3 316.0L970.9 324.8M955.3 316.0L952.4 317.7M970.9 324.8L973.0 331.2M973.0 331.2L969.4 337.8M946.5 345.9L951.7 338.2M971.8 344.5L969.4 337.8M949.2 317.2L952.4 317.7M959.5 307.1L955.3 316.0M719.1 532.8L713.3 533.2M719.1 532.8L728.0 539.6M728.0 539.6L712.3 553.1M713.3 533.2L698.9 550.5M712.3 553.1L699.3 551.7M699.3 551.7L698.9 550.5M722.0 517.4L719.1 532.8M703.6 524.7L713.3 533.2M734.7 541.4L728.0 539.6M722.4 562.5L712.3 553.1M696.8 548.7L698.9 550.5M698.9 553.6L699.3 551.7" fill="none" stroke="#5a1208" stroke-opacity="0.22" stroke-width="0.6"/></g><path d="M671.3 285.5L670 292L669.2 299.5L671 305L673.4 310" fill="none" stroke="#fab033" stroke-width="1.6"/><ellipse cx="677.5" cy="312.3" rx="3.2" ry="2.4" fill="#fab033"/><ellipse cx="671.5" cy="317" rx="1.3" ry="2.4" fill="#fab033"/><ellipse cx="682.5" cy="326" rx="2.6" ry="2" fill="#fab033"/><ellipse cx="676" cy="322" rx="1.6" ry="1.2" fill="#fab033"/><path d="M688.4 367.7L701.2 374.2L714.1 382.7L724.8 393.4" fill="none" stroke="#22272b" stroke-width="1.7"/><path d="M713.5 679.4L719.5 678.5L728.7 677.9L729.3 684.0L735.0 683.4L737.3 688.0L739.6 692.0L741.4 696.6L746.0 697.2L749.4 695.4L750.5 699.5L752.3 705.2L751.1 706.9L742.5 707.5L736.8 706.1L731.0 704.1L725.3 702.3L723.0 698.9L723.5 692.6L722.4 689.1L717.8 686.3L714.4 682.2Z" fill="#d83729" stroke="#2eeaf3" stroke-width="2.8" stroke-linejoin="round"/><text x="814" y="186.0" text-anchor="middle" font-size="11" font-weight="normal" letter-spacing="1.2" fill="#8c8c8c">Kattegat</text><text x="748" y="214.1" text-anchor="middle" font-size="11.3" font-weight="normal" letter-spacing="3" fill="#808080">DÄNEMARK</text><text x="861" y="238.8" text-anchor="middle" font-size="10.5" font-weight="normal" letter-spacing="0.2" fill="#d6d6d6" stroke="#2b2b2b" stroke-width="1.6" paint-order="stroke" stroke-linejoin="round">Kopenhagen</text><text x="675" y="255.8" text-anchor="middle" font-size="10.5" font-weight="normal" letter-spacing="0.2" fill="#d6d6d6" stroke="#2b2b2b" stroke-width="1.6" paint-order="stroke" stroke-linejoin="round">Esbjerg</text><text x="745" y="405.1" text-anchor="middle" font-size="11.5" font-weight="normal" letter-spacing="0.3" fill="#cfcfcf" stroke="#4a4a4a" stroke-width="2" paint-order="stroke" stroke-linejoin="round">Hamburg</text><text x="691" y="442.1" text-anchor="middle" font-size="11.5" font-weight="normal" letter-spacing="0.3" fill="#cfcfcf" stroke="#4a4a4a" stroke-width="2" paint-order="stroke" stroke-linejoin="round">Bremen</text><text x="899" y="483.1" text-anchor="middle" font-size="11.5" font-weight="normal" letter-spacing="0.3" fill="#cfcfcf" stroke="#4a4a4a" stroke-width="2" paint-order="stroke" stroke-linejoin="round">Berlin</text><text x="955" y="414.8" text-anchor="middle" font-size="10.5" font-weight="normal" letter-spacing="0.3" fill="#cfcfcf" stroke="#2b2b2b" stroke-width="1.6" paint-order="stroke" stroke-linejoin="round">Stettin</text><text x="733" y="494.8" text-anchor="middle" font-size="10.5" font-weight="normal" letter-spacing="0.3" fill="#cfcfcf" stroke="#4a4a4a" stroke-width="2" paint-order="stroke" stroke-linejoin="round">Hannover</text><text x="678" y="520.8" text-anchor="middle" font-size="10.5" font-weight="normal" letter-spacing="0.3" fill="#cfcfcf" stroke="#4a4a4a" stroke-width="2" paint-order="stroke" stroke-linejoin="round">Bielefeld</text><text x="748" y="561.0" text-anchor="middle" font-size="14" font-weight="bold" letter-spacing="3.2" fill="#666666" stroke="#4a3a30" stroke-opacity="0.55" stroke-width="1.2" paint-order="stroke">DEUTSCHLAND</text><text x="853" y="570.8" text-anchor="middle" font-size="10.5" font-weight="normal" letter-spacing="0.3" fill="#cfcfcf" stroke="#4a4a4a" stroke-width="2" paint-order="stroke" stroke-linejoin="round">Leipzig</text><text x="915" y="591.8" text-anchor="middle" font-size="10.5" font-weight="normal" letter-spacing="0.3" fill="#cfcfcf" stroke="#4a4a4a" stroke-width="2" paint-order="stroke" stroke-linejoin="round">Dresden</text><text x="878" y="607.6" text-anchor="middle" font-size="10" font-weight="normal" letter-spacing="0.3" fill="#cfcfcf" stroke="#4a4a4a" stroke-width="2" paint-order="stroke" stroke-linejoin="round">Chemnitz</text><text x="429" y="621.8" text-anchor="middle" font-size="10.5" font-weight="normal" letter-spacing="0.2" fill="#d6d6d6" stroke="#2b2b2b" stroke-width="1.6" paint-order="stroke" stroke-linejoin="round">Lille</text><text x="516" y="634.1" text-anchor="middle" font-size="11.3" font-weight="normal" letter-spacing="2" fill="#808080">BELGIEN</text><text x="684" y="652.8" text-anchor="middle" font-size="10.5" font-weight="normal" letter-spacing="0.3" fill="#cfcfcf" stroke="#4a4a4a" stroke-width="2" paint-order="stroke" stroke-linejoin="round">Frankfurt</text><text x="685" y="665.8" text-anchor="middle" font-size="10.5" font-weight="normal" letter-spacing="0.3" fill="#cfcfcf" stroke="#4a4a4a" stroke-width="2" paint-order="stroke" stroke-linejoin="round">am Main</text><text x="946" y="661.1" text-anchor="middle" font-size="11.5" font-weight="normal" letter-spacing="0.2" fill="#d6d6d6" stroke="#2b2b2b" stroke-width="1.6" paint-order="stroke" stroke-linejoin="round">Prag</text><text x="567" y="682.8" text-anchor="middle" font-size="10.6" font-weight="normal" letter-spacing="0.9" fill="#808080">LUXEMBURG</text><text x="569" y="694.8" text-anchor="middle" font-size="10.5" font-weight="normal" letter-spacing="0.3" fill="#cfcfcf" stroke="#4a4a4a" stroke-width="2" paint-order="stroke" stroke-linejoin="round">Luxemburg</text><text x="675" y="703.8" text-anchor="middle" font-size="10.5" font-weight="normal" letter-spacing="0.3" fill="#cfcfcf" stroke="#4a4a4a" stroke-width="2" paint-order="stroke" stroke-linejoin="round">Mannheim</text><text x="794" y="705.8" text-anchor="middle" font-size="10.5" font-weight="normal" letter-spacing="0.3" fill="#cfcfcf" stroke="#4a4a4a" stroke-width="2" paint-order="stroke" stroke-linejoin="round">Nürnberg</text><text x="608" y="720.6" text-anchor="middle" font-size="10" font-weight="normal" letter-spacing="0.3" fill="#cfcfcf" stroke="#4a4a4a" stroke-width="2" paint-order="stroke" stroke-linejoin="round">Saarbrücken</text><text x="708" y="752.8" text-anchor="middle" font-size="10.5" font-weight="normal" letter-spacing="0.3" fill="#cfcfcf" stroke="#4a4a4a" stroke-width="2" paint-order="stroke" stroke-linejoin="round">Stuttgart</text><text x="401" y="747.1" text-anchor="middle" font-size="11.5" font-weight="normal" letter-spacing="0.2" fill="#d6d6d6" stroke="#2b2b2b" stroke-width="1.6" paint-order="stroke" stroke-linejoin="round">aris</text><text x="817" y="797.1" text-anchor="middle" font-size="11.5" font-weight="normal" letter-spacing="0.3" fill="#cfcfcf" stroke="#4a4a4a" stroke-width="2" paint-order="stroke" stroke-linejoin="round">München</text><text x="678" y="848.0" text-anchor="middle" font-size="11" font-weight="normal" letter-spacing="0.2" fill="#d6d6d6" stroke="#2b2b2b" stroke-width="1.6" paint-order="stroke" stroke-linejoin="round">Zürich</text><text x="724" y="863.8" text-anchor="middle" font-size="10.5" font-weight="normal" letter-spacing="0.2" fill="#d6d6d6" stroke="#2b2b2b" stroke-width="1.6" paint-order="stroke" stroke-linejoin="round">Vaduz</text><text x="628" y="875.8" text-anchor="middle" font-size="10.5" font-weight="normal" letter-spacing="0.2" fill="#d6d6d6" stroke="#2b2b2b" stroke-width="1.6" paint-order="stroke" stroke-linejoin="round">Bern</text><text x="665" y="886.1" text-anchor="middle" font-size="11.3" font-weight="normal" letter-spacing="2" fill="#808080">SCHWEIZ</text><text x="430" y="888.4" text-anchor="middle" font-size="12.3" font-weight="normal" letter-spacing="5" fill="#808080">KREICH</text><text x="904" y="854.2" text-anchor="middle" font-size="11.8" font-weight="normal" letter-spacing="4" fill="#808080">ÖSTE</text><text x="959" y="326.8" text-anchor="middle" font-size="10.5" font-weight="normal" letter-spacing="2" fill="#7a7a7a">Os</text><text x="961" y="693.8" text-anchor="middle" font-size="10.5" font-weight="normal" letter-spacing="2" fill="#7a7a7a">TS</text></svg>
<!-- map UI -->
<div class="abs" style="left:398px;top:125px;width:58px;height:32px;background:#353535"></div>
<div class="abs" style="left:429px;top:125px;width:1px;height:32px;background:#2a2a2a"></div>
<svg class="abs" style="left:403px;top:130px" width="22" height="22" viewBox="0 0 22 22"><g fill="none" stroke="#cfcfcf" stroke-width="1.1"><path d="M9.5 6 L9.5 3.5 L18.5 3.5 L18.5 12.5 L11 12.5"/><path d="M15 3.5 L15 7 L17 7 L17 9.5"/><path d="M3.5 5 L3.5 15 L6 12.7 L8 17 L9.8 16.2 L7.8 12 L11 12 Z"/></g></svg>
<svg class="abs" style="left:436px;top:136px" width="16" height="12" viewBox="0 0 16 12"><path d="M1.5 2.5 L14 2.5 L7.7 9 Z" fill="none" stroke="#cfcfcf" stroke-width="1.1"/></svg>
<div class="abs" style="left:828px;top:125px;width:132px;height:34px;background:#363636;border:1px solid #404040"></div>
<svg class="abs" style="left:834px;top:130px" width="24" height="24" viewBox="0 0 24 24"><g fill="none" stroke="#dedede" stroke-width="1.4"><circle cx="9.3" cy="9.6" r="5.3"/><path d="M13.2 13.6 L19 19.5"/></g></svg>
<svg class="abs" style="left:870px;top:131px" width="18" height="22" viewBox="0 0 18 22"><path d="M4.3 3.5 L13.6 3.5 L13.6 18 L9 14.2 L4.3 18 Z" fill="none" stroke="#dedede" stroke-width="1.3"/></svg>
<svg class="abs" style="left:902px;top:132px" width="20" height="20" viewBox="0 0 20 20"><g fill="none" stroke="#dedede" stroke-width="1.2"><rect x="2.2" y="2.2" width="2.6" height="2.6"/><circle cx="3.5" cy="7.8" r="1.2"/><rect x="2.2" y="10.4" width="2.6" height="2.6"/><path d="M2.2 17 L3.5 14.6 L4.8 17 Z"/><path d="M7.5 3.5 H16 M7.5 7.8 H16 M7.5 11.7 H16 M7.5 15.8 H16"/></g></svg>
<svg class="abs" style="left:933px;top:132px" width="20" height="20" viewBox="0 0 20 20"><g fill="none" stroke="#dedede" stroke-width="1.3"><rect x="2.2" y="2.2" width="6.2" height="6.2"/><rect x="11.3" y="2.2" width="6.2" height="6.2"/><rect x="2.2" y="11.2" width="6.2" height="6.2"/><rect x="11.3" y="11.2" width="6.2" height="6.2"/><path d="M3 3 L6.5 6.5 M16.5 3.2 L12.6 7.2 M3.2 15 L7 13 M12 16.5 L16 12.5" stroke-width="1"/></g></svg>
<div class="abs" style="left:398px;top:163px;width:228px;height:450px;background:#353535;box-shadow:0 1px 4px rgba(0,0,0,.5)"></div>
<div class="abs" style="left:400px;top:193px;width:224px;height:381px;background:#222"></div>
<div class="t c" style="left:433px;width:80px;top:172px;font-size:11px;color:#ececec" id="pv">1 von 2</div>
<svg class="abs" style="left:538px;top:168px" width="80" height="20" viewBox="538 168 80 20"><g fill="none" stroke="#9a9a9a" stroke-width="1.1"><path d="M549 171.5 L543 177.6 L549 183.8 Z"/><path d="M572.6 171.5 L578.8 177.6 L572.6 183.8 Z"/><path d="M598.3 171.6 L610 183.6 M610 171.6 L598.3 183.6"/></g></svg>
<div class="t b" style="left:404px;top:196.5px;font-size:13.4px;color:#fff" id="pt">LK Main-Tauber-Kreis</div>
<div class="abs" style="left:400px;width:111.5px;top:225px;font-size:14px;line-height:21px;text-align:right;color:#f2f2f2;white-space:nowrap" id="pl0">Fälle letzte 7<br>Tage</div>
<div class="abs" style="left:522.5px;top:225px;font-size:14px;line-height:21px;color:#f2f2f2;white-space:nowrap" id="pr0">95</div>
<div class="abs" style="left:400px;width:111.5px;top:275px;font-size:14px;line-height:21px;text-align:right;color:#f2f2f2;white-space:nowrap" id="pl1">Fälle letzte 7<br>Tage/100.000<br>EW</div>
<div class="abs" style="left:522.5px;top:275px;font-size:14px;line-height:21px;color:#f2f2f2;white-space:nowrap" id="pr1">71,8</div>
<div class="abs" style="left:400px;width:111.5px;top:345px;font-size:14px;line-height:21px;text-align:right;color:#f2f2f2;white-space:nowrap" id="pl2">Fälle gesamt</div>
<div class="abs" style="left:522.5px;top:345px;font-size:14px;line-height:21px;color:#f2f2f2;white-space:nowrap" id="pr2">3.320</div>
<div class="abs" style="left:400px;width:111.5px;top:373px;font-size:14px;line-height:21px;text-align:right;color:#f2f2f2;white-space:nowrap" id="pl3">Fälle<br>gesamt/100.000<br>EW</div>
<div class="abs" style="left:522.5px;top:373px;font-size:14px;line-height:21px;color:#f2f2f2;white-space:nowrap" id="pr3">2.507,6</div>
<div class="abs" style="left:400px;width:111.5px;top:443px;font-size:14px;line-height:21px;text-align:right;color:#f2f2f2;white-space:nowrap" id="pl4">Todesfälle<br>gesamt</div>
<div class="abs" style="left:522.5px;top:443px;font-size:14px;line-height:21px;color:#f2f2f2;white-space:nowrap" id="pr4">70</div>
<div class="abs" style="left:400px;width:111.5px;top:493px;font-size:14px;line-height:21px;text-align:right;color:#f2f2f2;white-space:nowrap" id="pl5">Einwohnerzahl</div>
<div class="abs" style="left:522.5px;top:493px;font-size:14px;line-height:21px;color:#f2f2f2;white-space:nowrap" id="pr5">132.399</div>
<div class="abs" style="left:400px;width:111.5px;top:521px;font-size:14px;line-height:21px;text-align:right;color:#f2f2f2;white-space:nowrap" id="pl6">Bundesland</div>
<div class="abs" style="left:522.5px;top:521px;font-size:14px;line-height:21px;color:#f2f2f2;white-space:nowrap" id="pr6">Baden-<br>Württemberg</div>
<svg class="abs" style="left:404px;top:584px" width="90" height="20" viewBox="404 584 90 20"><g fill="none" stroke="#9a9a9a" stroke-width="1.1"><path d="M413.5 587.5 V600.5 M407 594 H420 M411.5 589.5 L413.5 587.5 L415.5 589.5 M411.5 598.5 L413.5 600.5 L415.5 598.5 M409 592 L407 594 L409 596 M418 592 L420 594 L418 596"/><circle cx="445.5" cy="593" r="4.6"/><path d="M449 596.5 L454 601.5 M443 593 H448 M445.5 590.5 V595.5"/><path d="M478 590 V587.5 H487.5 V597 H480.5 M484 587.5 V591 H486 V593.5 M472.5 589 V599 L475 596.7 L477 601 L478.8 600.2 L476.8 596 L480 596 Z"/></g></svg>
<div class="abs" style="left:698px;top:892px;width:258px;height:15px;background:#cfcfcf"></div>
<div class="t" style="left:702px;top:893px;font-size:12.5px;color:#323232" id="att">Land NRW, Esri, HERE, Garmin, FAO, N…</div>
<div class="abs" style="left:929px;top:829px;width:30px;height:57px;background:#343434;border:1px solid #3e3e3e"></div>
<svg class="abs" style="left:929px;top:829px" width="30" height="57" viewBox="929 829 30 57"><g stroke="#dcdcdc" stroke-width="1.6" fill="none"><path d="M937.5 844 H950.5 M944 837.5 V850.5"/><path d="M937.5 872 H950.5"/></g></svg>
<div class="tab on" style="left:403px;top:923px;width:253px;height:27px;line-height:27.5px">Aktivität über 7 Tage/100.000 Einwohner</div>
<div class="tab" style="left:661px;top:923px;width:165px;height:27px;line-height:27.5px">Fälle/100.000 Einwohner</div>
</body></html>
